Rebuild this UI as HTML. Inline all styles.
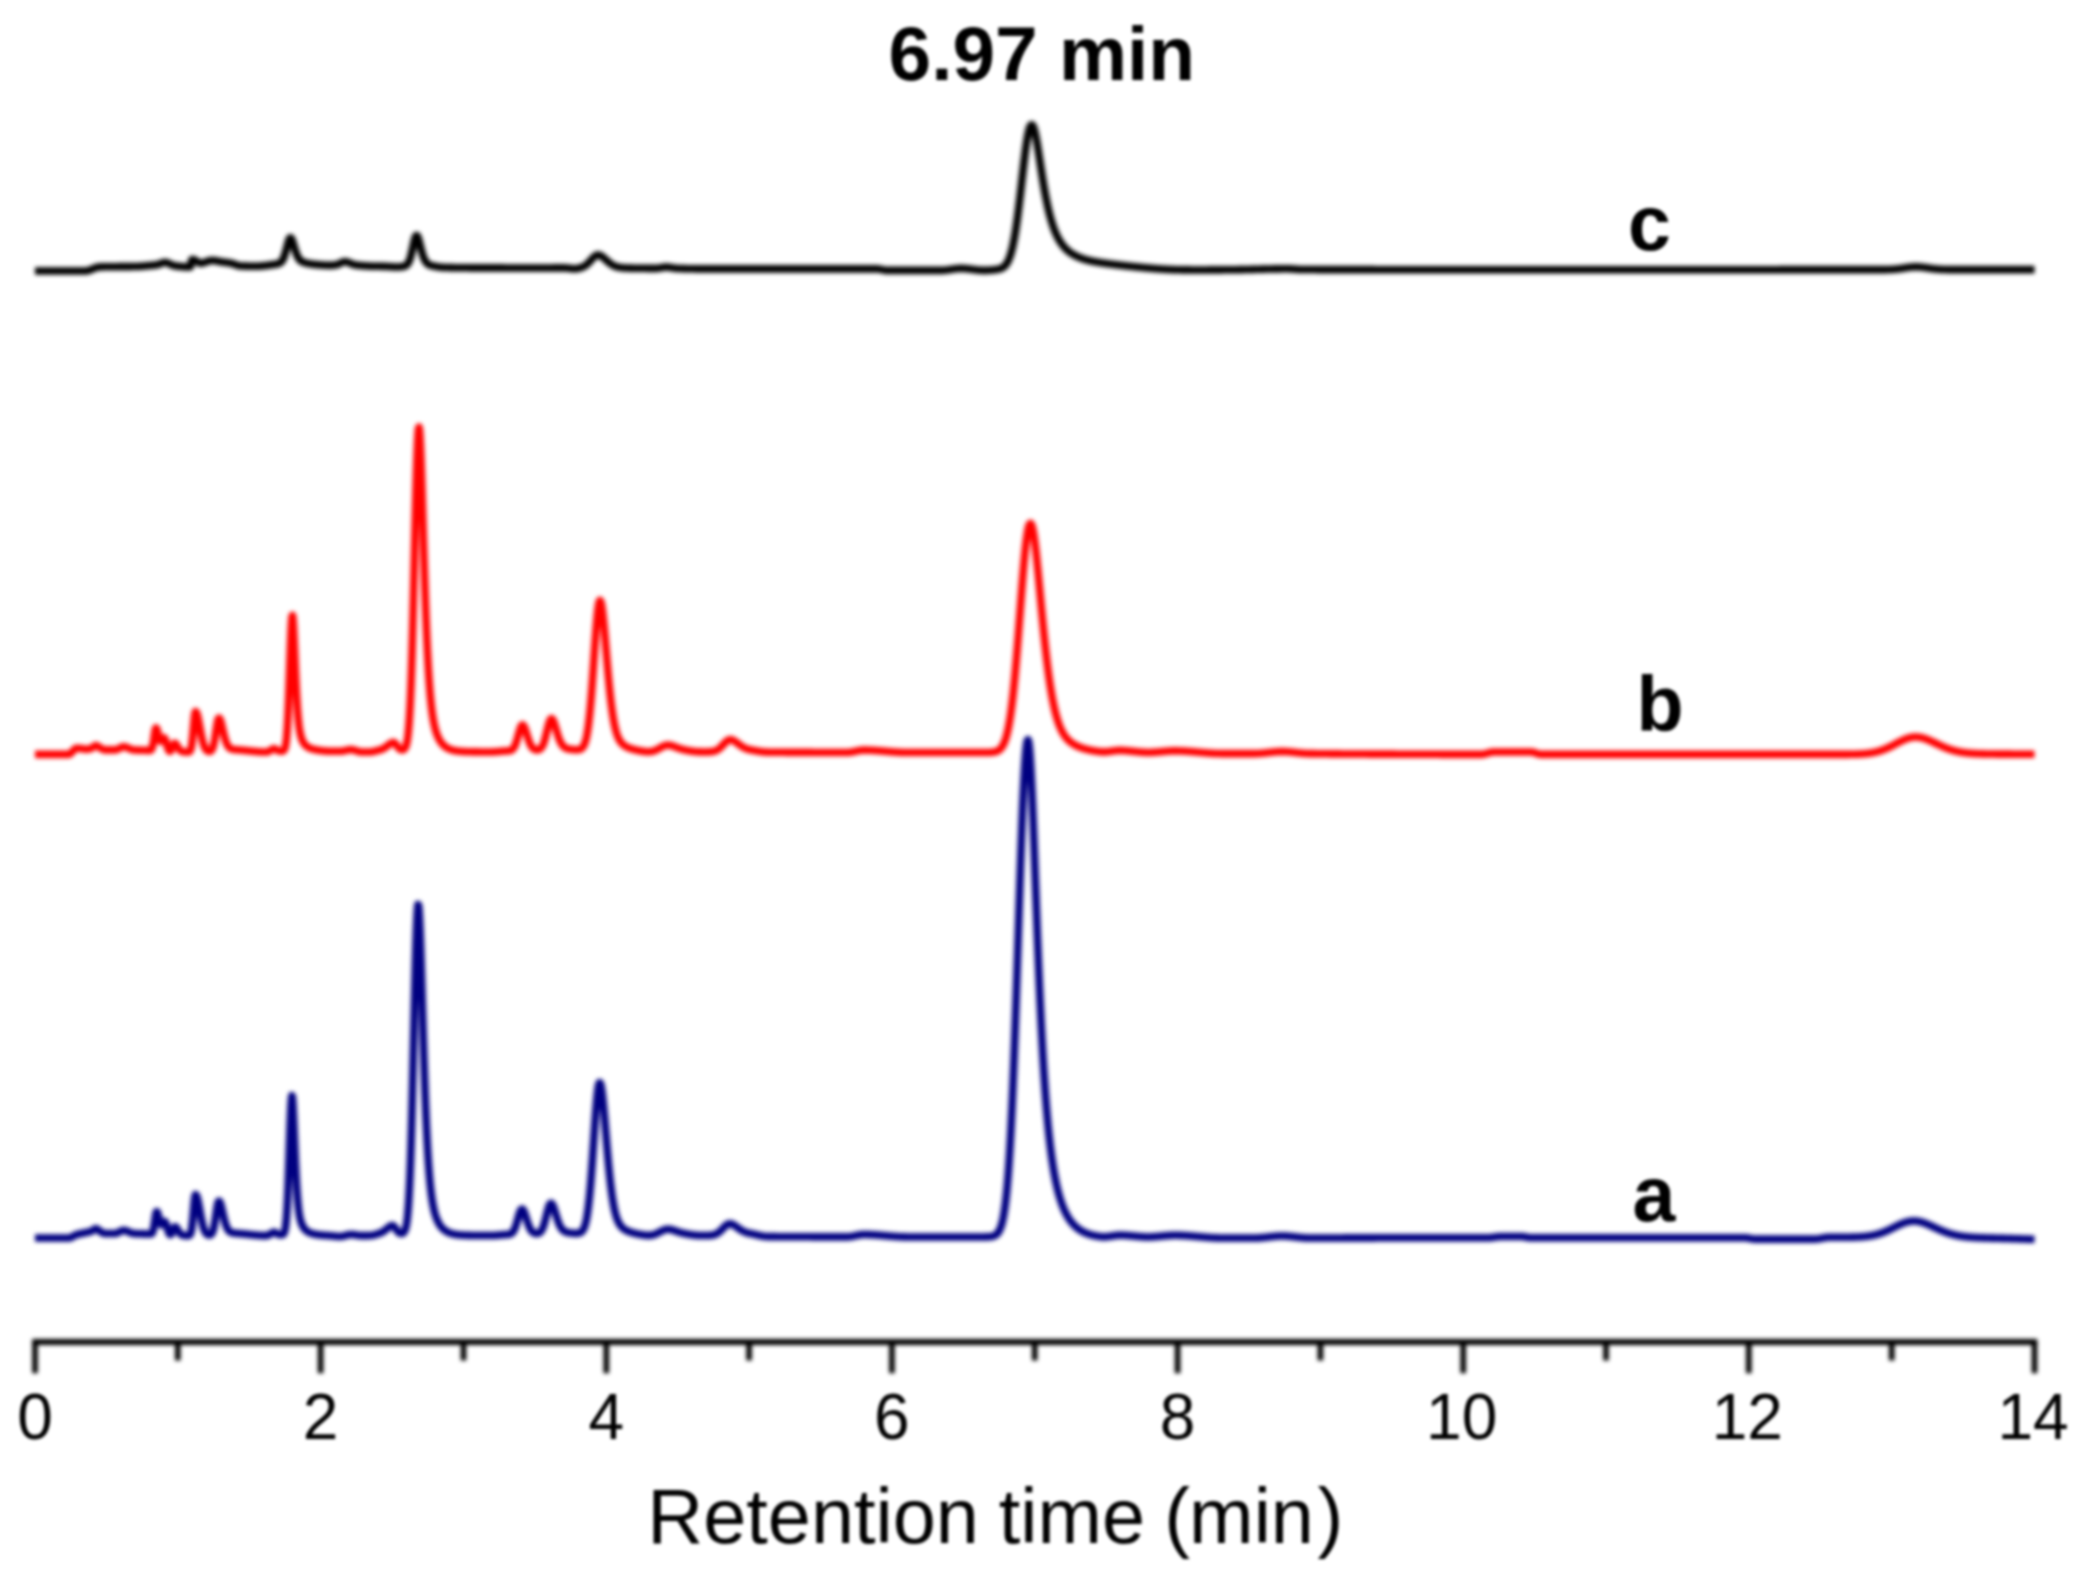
<!DOCTYPE html>
<html lang="en">
<head>
<meta charset="utf-8">
<title>Chromatogram – retention time</title>
<style>
html,body{margin:0;padding:0;background:#fff;}
body{width:2094px;height:1584px;overflow:hidden;}
svg{display:block;}
.ln{filter:blur(2.0px);}
.tx{filter:blur(1.5px);}
text{font-family:"Liberation Sans",Arial,Helvetica,sans-serif;fill:#000;}
.b{font-weight:700;font-size:77px;fill:#000;}
.t{font-size:64px;}
.xl{font-size:77.5px;}
.cv{fill:none;stroke-width:7.6;stroke-linejoin:round;stroke-linecap:butt;}
.ax line{stroke:#000;stroke-width:6.2;stroke-linecap:butt;}
.ax line.tk{stroke-width:5.6;}
</style>
</head>
<body>
<svg width="2094" height="1584" viewBox="0 0 2094 1584">
<rect width="2094" height="1584" fill="#ffffff"/>
<g class="ln">
<g class="ax">
<line x1="32.2" y1="1342.0" x2="2037.3" y2="1342.0"/>
<line class="tk" x1="35.0" y1="1342.0" x2="35.0" y2="1373.2"/>
<line class="tk" x1="177.8" y1="1342.0" x2="177.8" y2="1360.5"/>
<line class="tk" x1="320.6" y1="1342.0" x2="320.6" y2="1373.2"/>
<line class="tk" x1="463.5" y1="1342.0" x2="463.5" y2="1360.5"/>
<line class="tk" x1="606.3" y1="1342.0" x2="606.3" y2="1373.2"/>
<line class="tk" x1="749.1" y1="1342.0" x2="749.1" y2="1360.5"/>
<line class="tk" x1="891.9" y1="1342.0" x2="891.9" y2="1373.2"/>
<line class="tk" x1="1034.7" y1="1342.0" x2="1034.7" y2="1360.5"/>
<line class="tk" x1="1177.6" y1="1342.0" x2="1177.6" y2="1373.2"/>
<line class="tk" x1="1320.4" y1="1342.0" x2="1320.4" y2="1360.5"/>
<line class="tk" x1="1463.2" y1="1342.0" x2="1463.2" y2="1373.2"/>
<line class="tk" x1="1606.0" y1="1342.0" x2="1606.0" y2="1360.5"/>
<line class="tk" x1="1748.8" y1="1342.0" x2="1748.8" y2="1373.2"/>
<line class="tk" x1="1891.7" y1="1342.0" x2="1891.7" y2="1360.5"/>
<line class="tk" x1="2034.5" y1="1342.0" x2="2034.5" y2="1373.2"/>
</g>
</g>
<g class="tx">
<g class="t">
<text x="35.0" y="1439.0" text-anchor="middle">0</text>
<text x="320.6" y="1439.0" text-anchor="middle">2</text>
<text x="606.3" y="1439.0" text-anchor="middle">4</text>
<text x="891.9" y="1439.0" text-anchor="middle">6</text>
<text x="1177.6" y="1439.0" text-anchor="middle">8</text>
<text x="1461.7" y="1439.0" text-anchor="middle">10</text>
<text x="1747.3" y="1439.0" text-anchor="middle">12</text>
<text x="2033.0" y="1439.0" text-anchor="middle">14</text>
</g>
<text class="xl" y="1543"><tspan x="647.2">Retention </tspan><tspan x="998.7">time </tspan><tspan x="1164.2">(</tspan><tspan x="1189.1">min</tspan><tspan x="1317.4">)</tspan></text>
<text class="b" x="1041.8" y="79.8" text-anchor="middle" style="font-size:76.6px">6.97 min</text>
<text class="b" x="1649.5" y="249.5" text-anchor="middle">c</text>
<text class="b" x="1660" y="730.5" text-anchor="middle">b</text>
<text class="b" x="1654" y="1220.5" text-anchor="middle">a</text>
</g>
<g class="ln">
<path class="cv" stroke="#000080" d="M35.0,1238.00 L35.5,1238.00 L36.0,1238.00 L36.5,1238.00 L37.0,1238.00 L37.5,1238.00 L38.0,1238.00 L38.5,1238.00 L39.0,1238.00 L39.5,1238.00 L40.0,1238.00 L40.5,1238.00 L41.0,1238.00 L41.5,1238.00 L42.0,1238.00 L42.5,1238.00 L43.0,1238.00 L43.5,1238.00 L44.0,1238.00 L44.5,1238.00 L45.0,1238.00 L45.5,1238.00 L46.0,1238.00 L46.5,1238.00 L47.0,1238.00 L47.5,1238.00 L48.0,1238.00 L48.5,1238.00 L49.0,1238.00 L49.5,1238.00 L50.0,1238.00 L50.5,1238.00 L51.0,1238.00 L51.5,1238.00 L52.0,1238.00 L52.5,1238.00 L53.0,1238.00 L53.5,1238.00 L54.0,1238.00 L54.5,1238.00 L55.0,1238.00 L55.5,1238.00 L56.0,1238.00 L56.5,1238.00 L57.0,1238.00 L57.5,1238.00 L58.0,1238.00 L58.5,1238.00 L59.0,1238.00 L59.5,1238.00 L60.0,1238.00 L60.5,1238.00 L61.0,1238.00 L61.5,1238.00 L62.0,1238.00 L62.5,1238.00 L63.0,1238.00 L63.5,1238.00 L64.0,1238.00 L64.5,1238.00 L65.0,1238.00 L65.5,1238.00 L66.0,1238.00 L66.5,1238.00 L67.0,1238.00 L67.5,1238.00 L68.0,1238.00 L68.5,1238.00 L69.0,1237.97 L69.5,1237.89 L70.0,1237.77 L70.5,1237.61 L71.0,1237.41 L71.5,1237.18 L72.0,1236.94 L72.5,1236.68 L73.0,1236.40 L73.5,1236.13 L74.0,1235.85 L74.5,1235.58 L75.0,1235.32 L75.5,1235.09 L76.0,1234.87 L76.5,1234.69 L77.0,1234.54 L77.5,1234.40 L78.0,1234.27 L78.5,1234.15 L79.0,1234.03 L79.5,1233.92 L80.0,1233.81 L80.5,1233.70 L81.0,1233.60 L81.5,1233.50 L82.0,1233.40 L82.5,1233.30 L83.0,1233.20 L83.5,1233.11 L84.0,1233.01 L84.5,1232.91 L85.0,1232.81 L85.5,1232.71 L86.0,1232.60 L86.5,1232.49 L87.0,1232.37 L87.5,1232.26 L88.0,1232.15 L88.5,1232.05 L89.0,1231.94 L89.5,1231.82 L90.0,1231.69 L90.5,1231.55 L91.0,1231.40 L91.5,1231.19 L92.0,1230.90 L92.5,1230.57 L93.0,1230.21 L93.5,1229.84 L94.0,1229.49 L94.5,1229.18 L95.0,1228.92 L95.5,1228.76 L96.0,1228.70 L96.5,1228.77 L97.0,1228.96 L97.5,1229.26 L98.0,1229.63 L98.5,1230.05 L99.0,1230.49 L99.5,1230.94 L100.0,1231.35 L100.5,1231.71 L101.0,1232.00 L101.5,1232.24 L102.0,1232.50 L102.5,1232.75 L103.0,1232.98 L103.5,1233.19 L104.0,1233.35 L104.5,1233.46 L105.0,1233.50 L105.5,1233.50 L106.0,1233.50 L106.5,1233.50 L107.0,1233.50 L107.5,1233.50 L108.0,1233.50 L108.5,1233.50 L109.0,1233.50 L109.5,1233.50 L110.0,1233.50 L110.5,1233.50 L111.0,1233.50 L111.5,1233.50 L112.0,1233.50 L112.5,1233.50 L113.0,1233.50 L113.5,1233.50 L114.0,1233.50 L114.5,1233.50 L115.0,1233.50 L115.5,1233.47 L116.0,1233.38 L116.5,1233.25 L117.0,1233.07 L117.5,1232.86 L118.0,1232.63 L118.5,1232.37 L119.0,1232.11 L119.5,1231.84 L120.0,1231.57 L120.5,1231.31 L121.0,1231.08 L121.5,1230.86 L122.0,1230.68 L122.5,1230.54 L123.0,1230.44 L123.5,1230.40 L124.0,1230.41 L124.5,1230.46 L125.0,1230.55 L125.5,1230.66 L126.0,1230.81 L126.5,1230.97 L127.0,1231.16 L127.5,1231.36 L128.0,1231.57 L128.5,1231.79 L129.0,1232.01 L129.5,1232.23 L130.0,1232.45 L130.5,1232.66 L131.0,1232.85 L131.5,1233.02 L132.0,1233.18 L132.5,1233.31 L133.0,1233.41 L133.5,1233.48 L134.0,1233.52 L134.5,1233.55 L135.0,1233.58 L135.5,1233.61 L136.0,1233.63 L136.5,1233.66 L137.0,1233.68 L137.5,1233.70 L138.0,1233.72 L138.5,1233.73 L139.0,1233.75 L139.5,1233.77 L140.0,1233.78 L140.5,1233.79 L141.0,1233.81 L141.5,1233.82 L142.0,1233.83 L142.5,1233.84 L143.0,1233.86 L143.5,1233.87 L144.0,1233.88 L144.5,1233.89 L145.0,1233.91 L145.5,1233.92 L146.0,1233.93 L146.5,1233.95 L147.0,1233.97 L147.5,1233.98 L148.0,1234.00 L148.5,1234.02 L149.0,1234.04 L149.5,1234.06 L150.0,1234.06 L150.5,1234.03 L151.0,1233.93 L151.5,1233.70 L152.0,1233.24 L152.5,1232.41 L153.0,1231.05 L153.5,1229.01 L154.0,1226.26 L154.5,1222.90 L155.0,1219.24 L155.5,1215.77 L156.0,1213.08 L156.5,1211.68 L157.0,1211.72 L157.5,1212.61 L158.0,1214.15 L158.5,1216.11 L159.0,1218.25 L159.5,1220.33 L160.0,1222.14 L160.5,1223.52 L161.0,1224.38 L161.5,1224.69 L162.0,1224.49 L162.5,1223.89 L163.0,1223.09 L163.5,1222.28 L164.0,1221.69 L164.5,1221.50 L165.0,1221.80 L165.5,1222.58 L166.0,1223.79 L166.5,1225.33 L167.0,1227.06 L167.5,1228.85 L168.0,1230.56 L168.5,1232.06 L169.0,1233.27 L169.5,1234.13 L170.0,1234.63 L170.5,1234.75 L171.0,1234.48 L171.5,1233.84 L172.0,1232.89 L172.5,1231.69 L173.0,1230.37 L173.5,1229.08 L174.0,1227.97 L174.5,1227.19 L175.0,1226.85 L175.5,1226.90 L176.0,1227.22 L176.5,1227.78 L177.0,1228.52 L177.5,1229.36 L178.0,1230.26 L178.5,1231.14 L179.0,1231.96 L179.5,1232.70 L180.0,1233.33 L180.5,1233.87 L181.0,1234.30 L181.5,1234.64 L182.0,1234.90 L182.5,1235.09 L183.0,1235.23 L183.5,1235.33 L184.0,1235.40 L184.5,1235.46 L185.0,1235.51 L185.5,1235.54 L186.0,1235.57 L186.5,1235.60 L187.0,1235.62 L187.5,1235.63 L188.0,1235.62 L188.5,1235.57 L189.0,1235.44 L189.5,1235.16 L190.0,1234.63 L190.5,1233.69 L191.0,1232.13 L191.5,1229.74 L192.0,1226.33 L192.5,1221.84 L193.0,1216.39 L193.5,1210.38 L194.0,1204.44 L194.5,1199.37 L195.0,1195.93 L195.5,1194.72 L196.0,1194.98 L196.5,1195.75 L197.0,1197.01 L197.5,1198.70 L198.0,1200.77 L198.5,1203.15 L199.0,1205.75 L199.5,1208.49 L200.0,1211.29 L200.5,1214.08 L201.0,1216.80 L201.5,1219.38 L202.0,1221.79 L202.5,1223.99 L203.0,1225.96 L203.5,1227.70 L204.0,1229.21 L204.5,1230.50 L205.0,1231.58 L205.5,1232.47 L206.0,1233.19 L206.5,1233.76 L207.0,1234.21 L207.5,1234.56 L208.0,1234.81 L208.5,1234.97 L209.0,1235.06 L209.5,1235.07 L210.0,1234.99 L210.5,1234.80 L211.0,1234.46 L211.5,1233.93 L212.0,1233.17 L212.5,1232.12 L213.0,1230.71 L213.5,1228.91 L214.0,1226.68 L214.5,1224.02 L215.0,1220.99 L215.5,1217.66 L216.0,1214.18 L216.5,1210.73 L217.0,1207.53 L217.5,1204.78 L218.0,1202.70 L218.5,1201.45 L219.0,1201.12 L219.5,1201.45 L220.0,1202.29 L220.5,1203.57 L221.0,1205.22 L221.5,1207.15 L222.0,1209.28 L222.5,1211.50 L223.0,1213.77 L223.5,1216.00 L224.0,1218.15 L224.5,1220.18 L225.0,1222.06 L225.5,1223.77 L226.0,1225.31 L226.5,1226.65 L227.0,1227.82 L227.5,1228.82 L228.0,1229.67 L228.5,1230.37 L229.0,1230.95 L229.5,1231.42 L230.0,1231.80 L230.5,1232.11 L231.0,1232.35 L231.5,1232.54 L232.0,1232.70 L232.5,1232.82 L233.0,1232.92 L233.5,1233.01 L234.0,1233.08 L234.5,1233.13 L235.0,1233.19 L235.5,1233.23 L236.0,1233.28 L236.5,1233.32 L237.0,1233.36 L237.5,1233.39 L238.0,1233.43 L238.5,1233.47 L239.0,1233.51 L239.5,1233.55 L240.0,1233.59 L240.5,1233.63 L241.0,1233.68 L241.5,1233.72 L242.0,1233.76 L242.5,1233.81 L243.0,1233.85 L243.5,1233.90 L244.0,1233.95 L244.5,1234.00 L245.0,1234.04 L245.5,1234.09 L246.0,1234.14 L246.5,1234.19 L247.0,1234.25 L247.5,1234.30 L248.0,1234.35 L248.5,1234.40 L249.0,1234.45 L249.5,1234.50 L250.0,1234.56 L250.5,1234.61 L251.0,1234.66 L251.5,1234.71 L252.0,1234.76 L252.5,1234.81 L253.0,1234.86 L253.5,1234.91 L254.0,1234.96 L254.5,1235.01 L255.0,1235.06 L255.5,1235.10 L256.0,1235.15 L256.5,1235.19 L257.0,1235.24 L257.5,1235.28 L258.0,1235.32 L258.5,1235.36 L259.0,1235.39 L259.5,1235.43 L260.0,1235.46 L260.5,1235.49 L261.0,1235.52 L261.5,1235.55 L262.0,1235.57 L262.5,1235.59 L263.0,1235.61 L263.5,1235.63 L264.0,1235.64 L264.5,1235.65 L265.0,1235.66 L265.5,1235.67 L266.0,1235.66 L266.5,1235.60 L267.0,1235.51 L267.5,1235.40 L268.0,1235.28 L268.5,1235.12 L269.0,1234.89 L269.5,1234.61 L270.0,1234.29 L270.5,1233.95 L271.0,1233.61 L271.5,1233.27 L272.0,1232.96 L272.5,1232.70 L273.0,1232.48 L273.5,1232.35 L274.0,1232.30 L274.5,1232.36 L275.0,1232.51 L275.5,1232.74 L276.0,1233.01 L276.5,1233.32 L277.0,1233.64 L277.5,1233.93 L278.0,1234.19 L278.5,1234.39 L279.0,1234.51 L279.5,1234.57 L280.0,1234.63 L280.5,1234.67 L281.0,1234.70 L281.5,1234.70 L282.0,1234.66 L282.5,1234.54 L283.0,1234.30 L283.5,1233.86 L284.0,1233.09 L284.5,1231.84 L285.0,1229.89 L285.5,1226.97 L286.0,1222.78 L286.5,1216.99 L287.0,1209.32 L287.5,1199.59 L288.0,1187.79 L288.5,1174.16 L289.0,1159.19 L289.5,1143.68 L290.0,1128.65 L290.5,1115.28 L291.0,1104.71 L291.5,1097.93 L292.0,1095.60 L292.5,1098.09 L293.0,1105.07 L293.5,1115.35 L294.0,1127.49 L294.5,1140.23 L295.0,1152.66 L295.5,1164.22 L296.0,1174.61 L296.5,1183.73 L297.0,1191.59 L297.5,1198.25 L298.0,1203.83 L298.5,1208.47 L299.0,1212.30 L299.5,1215.44 L300.0,1218.03 L300.5,1220.17 L301.0,1221.95 L301.5,1223.44 L302.0,1224.70 L302.5,1225.78 L303.0,1226.71 L303.5,1227.52 L304.0,1228.24 L304.5,1228.87 L305.0,1229.44 L305.5,1229.95 L306.0,1230.40 L306.5,1230.81 L307.0,1231.18 L307.5,1231.52 L308.0,1231.83 L308.5,1232.11 L309.0,1232.37 L309.5,1232.60 L310.0,1232.82 L310.5,1233.01 L311.0,1233.20 L311.5,1233.37 L312.0,1233.52 L312.5,1233.67 L313.0,1233.80 L313.5,1233.93 L314.0,1234.04 L314.5,1234.15 L315.0,1234.25 L315.5,1234.34 L316.0,1234.43 L316.5,1234.51 L317.0,1234.59 L317.5,1234.66 L318.0,1234.73 L318.5,1234.79 L319.0,1234.85 L319.5,1234.90 L320.0,1234.96 L320.5,1235.01 L321.0,1235.05 L321.5,1235.10 L322.0,1235.14 L322.5,1235.18 L323.0,1235.22 L323.5,1235.26 L324.0,1235.30 L324.5,1235.33 L325.0,1235.37 L325.5,1235.40 L326.0,1235.43 L326.5,1235.46 L327.0,1235.49 L327.5,1235.52 L328.0,1235.55 L328.5,1235.58 L329.0,1235.61 L329.5,1235.64 L330.0,1235.68 L330.5,1235.72 L331.0,1235.77 L331.5,1235.82 L332.0,1235.87 L332.5,1235.92 L333.0,1235.97 L333.5,1236.03 L334.0,1236.08 L334.5,1236.14 L335.0,1236.19 L335.5,1236.24 L336.0,1236.29 L336.5,1236.34 L337.0,1236.38 L337.5,1236.41 L338.0,1236.45 L338.5,1236.47 L339.0,1236.49 L339.5,1236.51 L340.0,1236.51 L340.5,1236.50 L341.0,1236.47 L341.5,1236.41 L342.0,1236.34 L342.5,1236.25 L343.0,1236.15 L343.5,1236.04 L344.0,1235.91 L344.5,1235.78 L345.0,1235.65 L345.5,1235.51 L346.0,1235.38 L346.5,1235.24 L347.0,1235.11 L347.5,1234.99 L348.0,1234.88 L348.5,1234.77 L349.0,1234.68 L349.5,1234.61 L350.0,1234.55 L350.5,1234.52 L351.0,1234.50 L351.5,1234.51 L352.0,1234.53 L352.5,1234.56 L353.0,1234.60 L353.5,1234.65 L354.0,1234.71 L354.5,1234.78 L355.0,1234.85 L355.5,1234.93 L356.0,1235.00 L356.5,1235.08 L357.0,1235.16 L357.5,1235.24 L358.0,1235.32 L358.5,1235.39 L359.0,1235.45 L359.5,1235.51 L360.0,1235.56 L360.5,1235.60 L361.0,1235.63 L361.5,1235.65 L362.0,1235.65 L362.5,1235.65 L363.0,1235.64 L363.5,1235.64 L364.0,1235.63 L364.5,1235.63 L365.0,1235.62 L365.5,1235.62 L366.0,1235.61 L366.5,1235.60 L367.0,1235.60 L367.5,1235.59 L368.0,1235.58 L368.5,1235.58 L369.0,1235.57 L369.5,1235.56 L370.0,1235.55 L370.5,1235.53 L371.0,1235.49 L371.5,1235.43 L372.0,1235.36 L372.5,1235.27 L373.0,1235.18 L373.5,1235.07 L374.0,1234.95 L374.5,1234.82 L375.0,1234.69 L375.5,1234.54 L376.0,1234.40 L376.5,1234.24 L377.0,1234.09 L377.5,1233.93 L378.0,1233.77 L378.5,1233.60 L379.0,1233.43 L379.5,1233.26 L380.0,1233.09 L380.5,1232.90 L381.0,1232.70 L381.5,1232.48 L382.0,1232.23 L382.5,1231.96 L383.0,1231.67 L383.5,1231.35 L384.0,1231.02 L384.5,1230.66 L385.0,1230.28 L385.5,1229.89 L386.0,1229.48 L386.5,1229.06 L387.0,1228.64 L387.5,1228.22 L388.0,1227.80 L388.5,1227.40 L389.0,1227.01 L389.5,1226.66 L390.0,1226.34 L390.5,1226.07 L391.0,1225.85 L391.5,1225.69 L392.0,1225.59 L392.5,1225.57 L393.0,1225.69 L393.5,1225.98 L394.0,1226.43 L394.5,1227.01 L395.0,1227.69 L395.5,1228.42 L396.0,1229.17 L396.5,1229.91 L397.0,1230.61 L397.5,1231.24 L398.0,1231.81 L398.5,1232.28 L399.0,1232.68 L399.5,1232.99 L400.0,1233.22 L400.5,1233.38 L401.0,1233.47 L401.5,1233.49 L402.0,1233.43 L402.5,1233.28 L403.0,1233.03 L403.5,1232.64 L404.0,1232.08 L404.5,1231.28 L405.0,1230.18 L405.5,1228.69 L406.0,1226.71 L406.5,1224.10 L407.0,1220.74 L407.5,1216.44 L408.0,1211.06 L408.5,1204.40 L409.0,1196.29 L409.5,1186.57 L410.0,1175.11 L410.5,1161.80 L411.0,1146.62 L411.5,1129.58 L412.0,1110.82 L412.5,1090.53 L413.0,1069.02 L413.5,1046.70 L414.0,1024.08 L414.5,1001.71 L415.0,980.24 L415.5,960.31 L416.0,942.58 L416.5,927.65 L417.0,916.06 L417.5,908.23 L418.0,904.46 L418.5,904.86 L419.0,909.22 L419.5,917.24 L420.0,928.45 L420.5,942.22 L421.0,957.89 L421.5,974.79 L422.0,992.35 L422.5,1010.07 L423.0,1027.57 L423.5,1044.54 L424.0,1060.78 L424.5,1076.14 L425.0,1090.53 L425.5,1103.91 L426.0,1116.28 L426.5,1127.62 L427.0,1137.99 L427.5,1147.40 L428.0,1155.93 L428.5,1163.62 L429.0,1170.53 L429.5,1176.73 L430.0,1182.27 L430.5,1187.23 L431.0,1191.65 L431.5,1195.60 L432.0,1199.12 L432.5,1202.27 L433.0,1205.08 L433.5,1207.60 L434.0,1209.87 L434.5,1211.91 L435.0,1213.75 L435.5,1215.41 L436.0,1216.92 L436.5,1218.30 L437.0,1219.56 L437.5,1220.71 L438.0,1221.77 L438.5,1222.74 L439.0,1223.64 L439.5,1224.47 L440.0,1225.24 L440.5,1225.95 L441.0,1226.61 L441.5,1227.22 L442.0,1227.79 L442.5,1228.32 L443.0,1228.82 L443.5,1229.28 L444.0,1229.70 L444.5,1230.10 L445.0,1230.47 L445.5,1230.82 L446.0,1231.14 L446.5,1231.45 L447.0,1231.73 L447.5,1231.99 L448.0,1232.24 L448.5,1232.46 L449.0,1232.68 L449.5,1232.88 L450.0,1233.06 L450.5,1233.24 L451.0,1233.40 L451.5,1233.55 L452.0,1233.69 L452.5,1233.82 L453.0,1233.94 L453.5,1234.05 L454.0,1234.16 L454.5,1234.25 L455.0,1234.34 L455.5,1234.43 L456.0,1234.50 L456.5,1234.57 L457.0,1234.64 L457.5,1234.70 L458.0,1234.76 L458.5,1234.81 L459.0,1234.86 L459.5,1234.91 L460.0,1234.95 L460.5,1235.00 L461.0,1235.03 L461.5,1235.07 L462.0,1235.10 L462.5,1235.13 L463.0,1235.16 L463.5,1235.19 L464.0,1235.21 L464.5,1235.24 L465.0,1235.26 L465.5,1235.28 L466.0,1235.30 L466.5,1235.31 L467.0,1235.33 L467.5,1235.35 L468.0,1235.36 L468.5,1235.37 L469.0,1235.39 L469.5,1235.40 L470.0,1235.41 L470.5,1235.42 L471.0,1235.43 L471.5,1235.44 L472.0,1235.45 L472.5,1235.45 L473.0,1235.46 L473.5,1235.47 L474.0,1235.48 L474.5,1235.48 L475.0,1235.49 L475.5,1235.49 L476.0,1235.50 L476.5,1235.50 L477.0,1235.51 L477.5,1235.51 L478.0,1235.52 L478.5,1235.52 L479.0,1235.52 L479.5,1235.53 L480.0,1235.53 L480.5,1235.53 L481.0,1235.54 L481.5,1235.54 L482.0,1235.54 L482.5,1235.54 L483.0,1235.55 L483.5,1235.55 L484.0,1235.55 L484.5,1235.55 L485.0,1235.55 L485.5,1235.55 L486.0,1235.56 L486.5,1235.56 L487.0,1235.56 L487.5,1235.56 L488.0,1235.56 L488.5,1235.56 L489.0,1235.56 L489.5,1235.56 L490.0,1235.56 L490.5,1235.56 L491.0,1235.56 L491.5,1235.56 L492.0,1235.55 L492.5,1235.54 L493.0,1235.52 L493.5,1235.50 L494.0,1235.48 L494.5,1235.45 L495.0,1235.42 L495.5,1235.39 L496.0,1235.35 L496.5,1235.31 L497.0,1235.27 L497.5,1235.23 L498.0,1235.19 L498.5,1235.14 L499.0,1235.10 L499.5,1235.06 L500.0,1235.01 L500.5,1234.97 L501.0,1234.92 L501.5,1234.88 L502.0,1234.84 L502.5,1234.80 L503.0,1234.76 L503.5,1234.72 L504.0,1234.69 L504.5,1234.66 L505.0,1234.62 L505.5,1234.60 L506.0,1234.57 L506.5,1234.54 L507.0,1234.51 L507.5,1234.48 L508.0,1234.44 L508.5,1234.38 L509.0,1234.31 L509.5,1234.21 L510.0,1234.08 L510.5,1233.89 L511.0,1233.65 L511.5,1233.34 L512.0,1232.95 L512.5,1232.45 L513.0,1231.84 L513.5,1231.10 L514.0,1230.22 L514.5,1229.18 L515.0,1227.99 L515.5,1226.64 L516.0,1225.14 L516.5,1223.52 L517.0,1221.79 L517.5,1219.99 L518.0,1218.17 L518.5,1216.38 L519.0,1214.67 L519.5,1213.09 L520.0,1211.71 L520.5,1210.57 L521.0,1209.73 L521.5,1209.21 L522.0,1209.03 L522.5,1209.19 L523.0,1209.68 L523.5,1210.46 L524.0,1211.49 L524.5,1212.74 L525.0,1214.16 L525.5,1215.69 L526.0,1217.28 L526.5,1218.91 L527.0,1220.51 L527.5,1222.08 L528.0,1223.57 L528.5,1224.96 L529.0,1226.25 L529.5,1227.42 L530.0,1228.46 L530.5,1229.38 L531.0,1230.19 L531.5,1230.87 L532.0,1231.46 L532.5,1231.95 L533.0,1232.35 L533.5,1232.68 L534.0,1232.95 L534.5,1233.16 L535.0,1233.31 L535.5,1233.43 L536.0,1233.50 L536.5,1233.53 L537.0,1233.52 L537.5,1233.47 L538.0,1233.37 L538.5,1233.21 L539.0,1232.99 L539.5,1232.69 L540.0,1232.31 L540.5,1231.82 L541.0,1231.22 L541.5,1230.49 L542.0,1229.61 L542.5,1228.58 L543.0,1227.39 L543.5,1226.03 L544.0,1224.51 L544.5,1222.83 L545.0,1221.02 L545.5,1219.10 L546.0,1217.10 L546.5,1215.06 L547.0,1213.03 L547.5,1211.06 L548.0,1209.21 L548.5,1207.52 L549.0,1206.06 L549.5,1204.87 L550.0,1203.98 L550.5,1203.44 L551.0,1203.26 L551.5,1203.43 L552.0,1203.91 L552.5,1204.69 L553.0,1205.73 L553.5,1206.98 L554.0,1208.41 L554.5,1209.95 L555.0,1211.57 L555.5,1213.24 L556.0,1214.90 L556.5,1216.55 L557.0,1218.14 L557.5,1219.67 L558.0,1221.12 L558.5,1222.48 L559.0,1223.74 L559.5,1224.89 L560.0,1225.94 L560.5,1226.89 L561.0,1227.74 L561.5,1228.49 L562.0,1229.15 L562.5,1229.72 L563.0,1230.23 L563.5,1230.66 L564.0,1231.03 L564.5,1231.35 L565.0,1231.62 L565.5,1231.86 L566.0,1232.05 L566.5,1232.22 L567.0,1232.37 L567.5,1232.49 L568.0,1232.59 L568.5,1232.68 L569.0,1232.77 L569.5,1232.84 L570.0,1232.91 L570.5,1232.97 L571.0,1233.03 L571.5,1233.08 L572.0,1233.13 L572.5,1233.17 L573.0,1233.22 L573.5,1233.25 L574.0,1233.29 L574.5,1233.32 L575.0,1233.34 L575.5,1233.36 L576.0,1233.37 L576.5,1233.37 L577.0,1233.35 L577.5,1233.32 L578.0,1233.27 L578.5,1233.19 L579.0,1233.09 L579.5,1232.95 L580.0,1232.76 L580.5,1232.51 L581.0,1232.20 L581.5,1231.81 L582.0,1231.32 L582.5,1230.72 L583.0,1229.98 L583.5,1229.09 L584.0,1228.02 L584.5,1226.74 L585.0,1225.23 L585.5,1223.45 L586.0,1221.37 L586.5,1218.97 L587.0,1216.22 L587.5,1213.08 L588.0,1209.54 L588.5,1205.58 L589.0,1201.17 L589.5,1196.32 L590.0,1191.03 L590.5,1185.30 L591.0,1179.17 L591.5,1172.65 L592.0,1165.81 L592.5,1158.68 L593.0,1151.36 L593.5,1143.90 L594.0,1136.42 L594.5,1129.00 L595.0,1121.76 L595.5,1114.81 L596.0,1108.27 L596.5,1102.24 L597.0,1096.85 L597.5,1092.19 L598.0,1088.36 L598.5,1085.45 L599.0,1083.52 L599.5,1082.61 L600.0,1082.71 L600.5,1083.72 L601.0,1085.59 L601.5,1088.27 L602.0,1091.70 L602.5,1095.79 L603.0,1100.43 L603.5,1105.53 L604.0,1111.00 L604.5,1116.75 L605.0,1122.68 L605.5,1128.71 L606.0,1134.78 L606.5,1140.82 L607.0,1146.79 L607.5,1152.63 L608.0,1158.31 L608.5,1163.79 L609.0,1169.05 L609.5,1174.07 L610.0,1178.83 L610.5,1183.32 L611.0,1187.54 L611.5,1191.49 L612.0,1195.16 L612.5,1198.57 L613.0,1201.71 L613.5,1204.59 L614.0,1207.24 L614.5,1209.65 L615.0,1211.85 L615.5,1213.84 L616.0,1215.64 L616.5,1217.27 L617.0,1218.74 L617.5,1220.06 L618.0,1221.25 L618.5,1222.32 L619.0,1223.28 L619.5,1224.14 L620.0,1224.92 L620.5,1225.62 L621.0,1226.26 L621.5,1226.83 L622.0,1227.35 L622.5,1227.83 L623.0,1228.26 L623.5,1228.66 L624.0,1229.03 L624.5,1229.37 L625.0,1229.68 L625.5,1229.98 L626.0,1230.25 L626.5,1230.51 L627.0,1230.75 L627.5,1230.98 L628.0,1231.20 L628.5,1231.41 L629.0,1231.60 L629.5,1231.79 L630.0,1231.97 L630.5,1232.14 L631.0,1232.31 L631.5,1232.46 L632.0,1232.62 L632.5,1232.76 L633.0,1232.90 L633.5,1233.04 L634.0,1233.17 L634.5,1233.30 L635.0,1233.42 L635.5,1233.54 L636.0,1233.65 L636.5,1233.76 L637.0,1233.87 L637.5,1233.97 L638.0,1234.07 L638.5,1234.17 L639.0,1234.26 L639.5,1234.35 L640.0,1234.44 L640.5,1234.53 L641.0,1234.61 L641.5,1234.69 L642.0,1234.77 L642.5,1234.85 L643.0,1234.93 L643.5,1235.00 L644.0,1235.07 L644.5,1235.13 L645.0,1235.19 L645.5,1235.24 L646.0,1235.29 L646.5,1235.33 L647.0,1235.36 L647.5,1235.39 L648.0,1235.40 L648.5,1235.41 L649.0,1235.40 L649.5,1235.39 L650.0,1235.36 L650.5,1235.31 L651.0,1235.25 L651.5,1235.18 L652.0,1235.10 L652.5,1234.99 L653.0,1234.88 L653.5,1234.75 L654.0,1234.60 L654.5,1234.44 L655.0,1234.26 L655.5,1234.07 L656.0,1233.87 L656.5,1233.65 L657.0,1233.42 L657.5,1233.18 L658.0,1232.94 L658.5,1232.68 L659.0,1232.42 L659.5,1232.15 L660.0,1231.89 L660.5,1231.62 L661.0,1231.36 L661.5,1231.10 L662.0,1230.85 L662.5,1230.61 L663.0,1230.39 L663.5,1230.17 L664.0,1229.98 L664.5,1229.81 L665.0,1229.65 L665.5,1229.52 L666.0,1229.41 L666.5,1229.33 L667.0,1229.27 L667.5,1229.24 L668.0,1229.22 L668.5,1229.23 L669.0,1229.26 L669.5,1229.31 L670.0,1229.38 L670.5,1229.47 L671.0,1229.58 L671.5,1229.69 L672.0,1229.82 L672.5,1229.97 L673.0,1230.12 L673.5,1230.27 L674.0,1230.44 L674.5,1230.61 L675.0,1230.78 L675.5,1230.95 L676.0,1231.12 L676.5,1231.30 L677.0,1231.47 L677.5,1231.64 L678.0,1231.80 L678.5,1231.96 L679.0,1232.12 L679.5,1232.27 L680.0,1232.42 L680.5,1232.56 L681.0,1232.70 L681.5,1232.83 L682.0,1232.95 L682.5,1233.07 L683.0,1233.19 L683.5,1233.30 L684.0,1233.41 L684.5,1233.52 L685.0,1233.62 L685.5,1233.72 L686.0,1233.82 L686.5,1233.92 L687.0,1234.01 L687.5,1234.10 L688.0,1234.19 L688.5,1234.28 L689.0,1234.36 L689.5,1234.44 L690.0,1234.53 L690.5,1234.60 L691.0,1234.68 L691.5,1234.75 L692.0,1234.82 L692.5,1234.89 L693.0,1234.96 L693.5,1235.02 L694.0,1235.08 L694.5,1235.14 L695.0,1235.20 L695.5,1235.25 L696.0,1235.29 L696.5,1235.34 L697.0,1235.38 L697.5,1235.41 L698.0,1235.44 L698.5,1235.47 L699.0,1235.49 L699.5,1235.50 L700.0,1235.51 L700.5,1235.52 L701.0,1235.52 L701.5,1235.52 L702.0,1235.53 L702.5,1235.53 L703.0,1235.53 L703.5,1235.54 L704.0,1235.54 L704.5,1235.54 L705.0,1235.53 L705.5,1235.53 L706.0,1235.53 L706.5,1235.52 L707.0,1235.51 L707.5,1235.50 L708.0,1235.49 L708.5,1235.47 L709.0,1235.45 L709.5,1235.42 L710.0,1235.38 L710.5,1235.34 L711.0,1235.29 L711.5,1235.23 L712.0,1235.16 L712.5,1235.08 L713.0,1234.98 L713.5,1234.87 L714.0,1234.74 L714.5,1234.59 L715.0,1234.42 L715.5,1234.23 L716.0,1234.01 L716.5,1233.77 L717.0,1233.49 L717.5,1233.20 L718.0,1232.87 L718.5,1232.52 L719.0,1232.14 L719.5,1231.73 L720.0,1231.30 L720.5,1230.85 L721.0,1230.37 L721.5,1229.88 L722.0,1229.37 L722.5,1228.85 L723.0,1228.33 L723.5,1227.81 L724.0,1227.29 L724.5,1226.79 L725.0,1226.31 L725.5,1225.85 L726.0,1225.42 L726.5,1225.03 L727.0,1224.68 L727.5,1224.38 L728.0,1224.14 L728.5,1223.96 L729.0,1223.83 L729.5,1223.78 L730.0,1223.77 L730.5,1223.82 L731.0,1223.90 L731.5,1224.03 L732.0,1224.19 L732.5,1224.39 L733.0,1224.63 L733.5,1224.89 L734.0,1225.18 L734.5,1225.49 L735.0,1225.82 L735.5,1226.16 L736.0,1226.51 L736.5,1226.87 L737.0,1227.24 L737.5,1227.61 L738.0,1227.97 L738.5,1228.33 L739.0,1228.69 L739.5,1229.04 L740.0,1229.38 L740.5,1229.71 L741.0,1230.02 L741.5,1230.33 L742.0,1230.62 L742.5,1230.90 L743.0,1231.16 L743.5,1231.41 L744.0,1231.64 L744.5,1231.86 L745.0,1232.07 L745.5,1232.26 L746.0,1232.44 L746.5,1232.60 L747.0,1232.76 L747.5,1232.90 L748.0,1233.03 L748.5,1233.15 L749.0,1233.26 L749.5,1233.36 L750.0,1233.45 L750.5,1233.54 L751.0,1233.64 L751.5,1233.73 L752.0,1233.83 L752.5,1233.94 L753.0,1234.04 L753.5,1234.15 L754.0,1234.26 L754.5,1234.37 L755.0,1234.48 L755.5,1234.59 L756.0,1234.71 L756.5,1234.82 L757.0,1234.94 L757.5,1235.06 L758.0,1235.17 L758.5,1235.29 L759.0,1235.40 L759.5,1235.51 L760.0,1235.62 L760.5,1235.73 L761.0,1235.83 L761.5,1235.93 L762.0,1236.03 L762.5,1236.11 L763.0,1236.20 L763.5,1236.27 L764.0,1236.34 L764.5,1236.40 L765.0,1236.46 L765.5,1236.50 L766.0,1236.54 L766.5,1236.56 L767.0,1236.57 L767.5,1236.58 L768.0,1236.59 L768.5,1236.59 L769.0,1236.60 L769.5,1236.60 L770.0,1236.61 L770.5,1236.62 L771.0,1236.62 L771.5,1236.63 L772.0,1236.63 L772.5,1236.64 L773.0,1236.64 L773.5,1236.65 L774.0,1236.65 L774.5,1236.66 L775.0,1236.66 L775.5,1236.66 L776.0,1236.67 L776.5,1236.67 L777.0,1236.68 L777.5,1236.68 L778.0,1236.68 L778.5,1236.69 L779.0,1236.69 L779.5,1236.70 L780.0,1236.70 L780.5,1236.70 L781.0,1236.71 L781.5,1236.71 L782.0,1236.71 L782.5,1236.72 L783.0,1236.72 L783.5,1236.72 L784.0,1236.72 L784.5,1236.73 L785.0,1236.73 L785.5,1236.73 L786.0,1236.74 L786.5,1236.74 L787.0,1236.74 L787.5,1236.74 L788.0,1236.75 L788.5,1236.75 L789.0,1236.75 L789.5,1236.75 L790.0,1236.76 L790.5,1236.76 L791.0,1236.76 L791.5,1236.76 L792.0,1236.76 L792.5,1236.77 L793.0,1236.77 L793.5,1236.77 L794.0,1236.77 L794.5,1236.77 L795.0,1236.78 L795.5,1236.78 L796.0,1236.78 L796.5,1236.78 L797.0,1236.78 L797.5,1236.79 L798.0,1236.79 L798.5,1236.79 L799.0,1236.79 L799.5,1236.79 L800.0,1236.79 L800.5,1236.80 L801.0,1236.80 L801.5,1236.80 L802.0,1236.80 L802.5,1236.80 L803.0,1236.80 L803.5,1236.80 L804.0,1236.81 L804.5,1236.81 L805.0,1236.81 L805.5,1236.81 L806.0,1236.81 L806.5,1236.81 L807.0,1236.81 L807.5,1236.82 L808.0,1236.82 L808.5,1236.82 L809.0,1236.82 L809.5,1236.82 L810.0,1236.82 L810.5,1236.82 L811.0,1236.82 L811.5,1236.83 L812.0,1236.83 L812.5,1236.83 L813.0,1236.83 L813.5,1236.83 L814.0,1236.83 L814.5,1236.83 L815.0,1236.83 L815.5,1236.84 L816.0,1236.84 L816.5,1236.84 L817.0,1236.84 L817.5,1236.84 L818.0,1236.84 L818.5,1236.84 L819.0,1236.84 L819.5,1236.84 L820.0,1236.84 L820.5,1236.85 L821.0,1236.85 L821.5,1236.85 L822.0,1236.85 L822.5,1236.85 L823.0,1236.85 L823.5,1236.85 L824.0,1236.85 L824.5,1236.85 L825.0,1236.85 L825.5,1236.85 L826.0,1236.86 L826.5,1236.86 L827.0,1236.86 L827.5,1236.86 L828.0,1236.86 L828.5,1236.86 L829.0,1236.86 L829.5,1236.86 L830.0,1236.86 L830.5,1236.86 L831.0,1236.86 L831.5,1236.86 L832.0,1236.86 L832.5,1236.87 L833.0,1236.87 L833.5,1236.87 L834.0,1236.87 L834.5,1236.87 L835.0,1236.87 L835.5,1236.87 L836.0,1236.87 L836.5,1236.87 L837.0,1236.87 L837.5,1236.87 L838.0,1236.87 L838.5,1236.87 L839.0,1236.87 L839.5,1236.88 L840.0,1236.88 L840.5,1236.88 L841.0,1236.88 L841.5,1236.88 L842.0,1236.88 L842.5,1236.88 L843.0,1236.88 L843.5,1236.88 L844.0,1236.88 L844.5,1236.88 L845.0,1236.88 L845.5,1236.88 L846.0,1236.88 L846.5,1236.88 L847.0,1236.88 L847.5,1236.88 L848.0,1236.86 L848.5,1236.83 L849.0,1236.79 L849.5,1236.75 L850.0,1236.69 L850.5,1236.63 L851.0,1236.55 L851.5,1236.47 L852.0,1236.39 L852.5,1236.30 L853.0,1236.21 L853.5,1236.11 L854.0,1236.01 L854.5,1235.90 L855.0,1235.80 L855.5,1235.69 L856.0,1235.59 L856.5,1235.48 L857.0,1235.38 L857.5,1235.28 L858.0,1235.18 L858.5,1235.09 L859.0,1235.00 L859.5,1234.91 L860.0,1234.83 L860.5,1234.76 L861.0,1234.70 L861.5,1234.64 L862.0,1234.59 L862.5,1234.55 L863.0,1234.52 L863.5,1234.51 L864.0,1234.50 L864.5,1234.50 L865.0,1234.51 L865.5,1234.51 L866.0,1234.52 L866.5,1234.53 L867.0,1234.54 L867.5,1234.55 L868.0,1234.56 L868.5,1234.58 L869.0,1234.60 L869.5,1234.61 L870.0,1234.63 L870.5,1234.65 L871.0,1234.68 L871.5,1234.70 L872.0,1234.73 L872.5,1234.75 L873.0,1234.78 L873.5,1234.81 L874.0,1234.84 L874.5,1234.87 L875.0,1234.90 L875.5,1234.93 L876.0,1234.97 L876.5,1235.00 L877.0,1235.04 L877.5,1235.07 L878.0,1235.11 L878.5,1235.15 L879.0,1235.19 L879.5,1235.22 L880.0,1235.26 L880.5,1235.30 L881.0,1235.34 L881.5,1235.38 L882.0,1235.43 L882.5,1235.47 L883.0,1235.51 L883.5,1235.55 L884.0,1235.59 L884.5,1235.63 L885.0,1235.68 L885.5,1235.72 L886.0,1235.76 L886.5,1235.80 L887.0,1235.84 L887.5,1235.89 L888.0,1235.93 L888.5,1235.97 L889.0,1236.01 L889.5,1236.05 L890.0,1236.09 L890.5,1236.13 L891.0,1236.17 L891.5,1236.21 L892.0,1236.25 L892.5,1236.29 L893.0,1236.32 L893.5,1236.36 L894.0,1236.40 L894.5,1236.43 L895.0,1236.47 L895.5,1236.50 L896.0,1236.53 L896.5,1236.57 L897.0,1236.60 L897.5,1236.63 L898.0,1236.65 L898.5,1236.68 L899.0,1236.71 L899.5,1236.73 L900.0,1236.76 L900.5,1236.78 L901.0,1236.80 L901.5,1236.82 L902.0,1236.84 L902.5,1236.85 L903.0,1236.87 L903.5,1236.88 L904.0,1236.90 L904.5,1236.91 L905.0,1236.91 L905.5,1236.92 L906.0,1236.93 L906.5,1236.93 L907.0,1236.93 L907.5,1236.93 L908.0,1236.93 L908.5,1236.93 L909.0,1236.93 L909.5,1236.93 L910.0,1236.93 L910.5,1236.93 L911.0,1236.93 L911.5,1236.93 L912.0,1236.93 L912.5,1236.93 L913.0,1236.93 L913.5,1236.93 L914.0,1236.93 L914.5,1236.93 L915.0,1236.93 L915.5,1236.93 L916.0,1236.93 L916.5,1236.93 L917.0,1236.93 L917.5,1236.94 L918.0,1236.94 L918.5,1236.94 L919.0,1236.94 L919.5,1236.94 L920.0,1236.94 L920.5,1236.94 L921.0,1236.94 L921.5,1236.94 L922.0,1236.94 L922.5,1236.94 L923.0,1236.94 L923.5,1236.94 L924.0,1236.94 L924.5,1236.94 L925.0,1236.94 L925.5,1236.94 L926.0,1236.94 L926.5,1236.94 L927.0,1236.94 L927.5,1236.94 L928.0,1236.94 L928.5,1236.94 L929.0,1236.94 L929.5,1236.94 L930.0,1236.94 L930.5,1236.94 L931.0,1236.94 L931.5,1236.94 L932.0,1236.94 L932.5,1236.94 L933.0,1236.94 L933.5,1236.94 L934.0,1236.94 L934.5,1236.94 L935.0,1236.94 L935.5,1236.94 L936.0,1236.94 L936.5,1236.94 L937.0,1236.94 L937.5,1236.94 L938.0,1236.94 L938.5,1236.94 L939.0,1236.94 L939.5,1236.94 L940.0,1236.94 L940.5,1236.94 L941.0,1236.94 L941.5,1236.94 L942.0,1236.94 L942.5,1236.94 L943.0,1236.95 L943.5,1236.95 L944.0,1236.95 L944.5,1236.95 L945.0,1236.95 L945.5,1236.95 L946.0,1236.95 L946.5,1236.95 L947.0,1236.95 L947.5,1236.95 L948.0,1236.95 L948.5,1236.95 L949.0,1236.95 L949.5,1236.95 L950.0,1236.95 L950.5,1236.95 L951.0,1236.95 L951.5,1236.95 L952.0,1236.95 L952.5,1236.95 L953.0,1236.95 L953.5,1236.95 L954.0,1236.95 L954.5,1236.95 L955.0,1236.95 L955.5,1236.95 L956.0,1236.95 L956.5,1236.95 L957.0,1236.95 L957.5,1236.95 L958.0,1236.95 L958.5,1236.95 L959.0,1236.95 L959.5,1236.95 L960.0,1236.95 L960.5,1236.95 L961.0,1236.95 L961.5,1236.95 L962.0,1236.95 L962.5,1236.95 L963.0,1236.95 L963.5,1236.95 L964.0,1236.95 L964.5,1236.95 L965.0,1236.95 L965.5,1236.95 L966.0,1236.95 L966.5,1236.95 L967.0,1236.95 L967.5,1236.95 L968.0,1236.95 L968.5,1236.95 L969.0,1236.95 L969.5,1236.95 L970.0,1236.95 L970.5,1236.95 L971.0,1236.95 L971.5,1236.95 L972.0,1236.95 L972.5,1236.95 L973.0,1236.95 L973.5,1236.95 L974.0,1236.95 L974.5,1236.95 L975.0,1236.95 L975.5,1236.95 L976.0,1236.95 L976.5,1236.95 L977.0,1236.95 L977.5,1236.95 L978.0,1236.95 L978.5,1236.95 L979.0,1236.95 L979.5,1236.95 L980.0,1236.95 L980.5,1236.95 L981.0,1236.95 L981.5,1236.95 L982.0,1236.95 L982.5,1236.95 L983.0,1236.95 L983.5,1236.94 L984.0,1236.94 L984.5,1236.94 L985.0,1236.93 L985.5,1236.92 L986.0,1236.91 L986.5,1236.90 L987.0,1236.89 L987.5,1236.88 L988.0,1236.86 L988.5,1236.83 L989.0,1236.80 L989.5,1236.77 L990.0,1236.72 L990.5,1236.67 L991.0,1236.61 L991.5,1236.53 L992.0,1236.44 L992.5,1236.34 L993.0,1236.21 L993.5,1236.06 L994.0,1235.88 L994.5,1235.66 L995.0,1235.41 L995.5,1235.12 L996.0,1234.77 L996.5,1234.37 L997.0,1233.91 L997.5,1233.36 L998.0,1232.74 L998.5,1232.02 L999.0,1231.18 L999.5,1230.23 L1000.0,1229.14 L1000.5,1227.90 L1001.0,1226.49 L1001.5,1224.89 L1002.0,1223.08 L1002.5,1221.04 L1003.0,1218.76 L1003.5,1216.20 L1004.0,1213.35 L1004.5,1210.17 L1005.0,1206.65 L1005.5,1202.76 L1006.0,1198.46 L1006.5,1193.75 L1007.0,1188.59 L1007.5,1182.96 L1008.0,1176.83 L1008.5,1170.18 L1009.0,1163.00 L1009.5,1155.26 L1010.0,1146.95 L1010.5,1138.06 L1011.0,1128.59 L1011.5,1118.52 L1012.0,1107.86 L1012.5,1096.62 L1013.0,1084.81 L1013.5,1072.44 L1014.0,1059.54 L1014.5,1046.14 L1015.0,1032.27 L1015.5,1017.98 L1016.0,1003.32 L1016.5,988.34 L1017.0,973.10 L1017.5,957.68 L1018.0,942.14 L1018.5,926.57 L1019.0,911.04 L1019.5,895.65 L1020.0,880.49 L1020.5,865.64 L1021.0,851.21 L1021.5,837.28 L1022.0,823.95 L1022.5,811.31 L1023.0,799.46 L1023.5,788.48 L1024.0,778.44 L1024.5,769.43 L1025.0,761.51 L1025.5,754.75 L1026.0,749.19 L1026.5,744.88 L1027.0,741.86 L1027.5,740.15 L1028.0,739.76 L1028.5,740.97 L1029.0,743.87 L1029.5,748.40 L1030.0,754.49 L1030.5,762.02 L1031.0,770.86 L1031.5,780.87 L1032.0,791.89 L1032.5,803.76 L1033.0,816.32 L1033.5,829.41 L1034.0,842.90 L1034.5,856.64 L1035.0,870.52 L1035.5,884.42 L1036.0,898.24 L1036.5,911.91 L1037.0,925.35 L1037.5,938.52 L1038.0,951.36 L1038.5,963.83 L1039.0,975.91 L1039.5,987.59 L1040.0,998.85 L1040.5,1009.67 L1041.0,1020.07 L1041.5,1030.04 L1042.0,1039.58 L1042.5,1048.71 L1043.0,1057.43 L1043.5,1065.75 L1044.0,1073.69 L1044.5,1081.26 L1045.0,1088.47 L1045.5,1095.33 L1046.0,1101.87 L1046.5,1108.09 L1047.0,1114.00 L1047.5,1119.63 L1048.0,1124.98 L1048.5,1130.07 L1049.0,1134.91 L1049.5,1139.51 L1050.0,1143.89 L1050.5,1148.05 L1051.0,1152.01 L1051.5,1155.77 L1052.0,1159.36 L1052.5,1162.76 L1053.0,1166.01 L1053.5,1169.09 L1054.0,1172.03 L1054.5,1174.83 L1055.0,1177.50 L1055.5,1180.04 L1056.0,1182.47 L1056.5,1184.78 L1057.0,1186.98 L1057.5,1189.09 L1058.0,1191.09 L1058.5,1193.01 L1059.0,1194.84 L1059.5,1196.59 L1060.0,1198.26 L1060.5,1199.86 L1061.0,1201.39 L1061.5,1202.86 L1062.0,1204.26 L1062.5,1205.60 L1063.0,1206.88 L1063.5,1208.11 L1064.0,1209.29 L1064.5,1210.42 L1065.0,1211.51 L1065.5,1212.55 L1066.0,1213.54 L1066.5,1214.50 L1067.0,1215.42 L1067.5,1216.30 L1068.0,1217.14 L1068.5,1217.96 L1069.0,1218.74 L1069.5,1219.49 L1070.0,1220.21 L1070.5,1220.90 L1071.0,1221.56 L1071.5,1222.20 L1072.0,1222.82 L1072.5,1223.41 L1073.0,1223.98 L1073.5,1224.52 L1074.0,1225.05 L1074.5,1225.56 L1075.0,1226.04 L1075.5,1226.51 L1076.0,1226.96 L1076.5,1227.39 L1077.0,1227.81 L1077.5,1228.21 L1078.0,1228.60 L1078.5,1228.97 L1079.0,1229.32 L1079.5,1229.67 L1080.0,1230.00 L1080.5,1230.32 L1081.0,1230.62 L1081.5,1230.92 L1082.0,1231.20 L1082.5,1231.47 L1083.0,1231.74 L1083.5,1231.99 L1084.0,1232.23 L1084.5,1232.47 L1085.0,1232.69 L1085.5,1232.91 L1086.0,1233.12 L1086.5,1233.32 L1087.0,1233.51 L1087.5,1233.69 L1088.0,1233.87 L1088.5,1234.04 L1089.0,1234.21 L1089.5,1234.37 L1090.0,1234.52 L1090.5,1234.67 L1091.0,1234.81 L1091.5,1234.94 L1092.0,1235.07 L1092.5,1235.20 L1093.0,1235.32 L1093.5,1235.43 L1094.0,1235.54 L1094.5,1235.65 L1095.0,1235.75 L1095.5,1235.85 L1096.0,1235.95 L1096.5,1236.04 L1097.0,1236.12 L1097.5,1236.21 L1098.0,1236.29 L1098.5,1236.36 L1099.0,1236.44 L1099.5,1236.51 L1100.0,1236.57 L1100.5,1236.64 L1101.0,1236.70 L1101.5,1236.76 L1102.0,1236.80 L1102.5,1236.83 L1103.0,1236.85 L1103.5,1236.86 L1104.0,1236.86 L1104.5,1236.85 L1105.0,1236.83 L1105.5,1236.81 L1106.0,1236.77 L1106.5,1236.74 L1107.0,1236.69 L1107.5,1236.64 L1108.0,1236.58 L1108.5,1236.52 L1109.0,1236.46 L1109.5,1236.39 L1110.0,1236.32 L1110.5,1236.25 L1111.0,1236.17 L1111.5,1236.10 L1112.0,1236.02 L1112.5,1235.94 L1113.0,1235.87 L1113.5,1235.79 L1114.0,1235.72 L1114.5,1235.65 L1115.0,1235.58 L1115.5,1235.51 L1116.0,1235.45 L1116.5,1235.40 L1117.0,1235.34 L1117.5,1235.30 L1118.0,1235.26 L1118.5,1235.22 L1119.0,1235.19 L1119.5,1235.17 L1120.0,1235.16 L1120.5,1235.16 L1121.0,1235.17 L1121.5,1235.18 L1122.0,1235.19 L1122.5,1235.21 L1123.0,1235.23 L1123.5,1235.25 L1124.0,1235.28 L1124.5,1235.30 L1125.0,1235.33 L1125.5,1235.36 L1126.0,1235.39 L1126.5,1235.43 L1127.0,1235.46 L1127.5,1235.50 L1128.0,1235.54 L1128.5,1235.58 L1129.0,1235.62 L1129.5,1235.66 L1130.0,1235.71 L1130.5,1235.75 L1131.0,1235.80 L1131.5,1235.84 L1132.0,1235.89 L1132.5,1235.94 L1133.0,1235.98 L1133.5,1236.03 L1134.0,1236.08 L1134.5,1236.13 L1135.0,1236.17 L1135.5,1236.22 L1136.0,1236.27 L1136.5,1236.31 L1137.0,1236.36 L1137.5,1236.40 L1138.0,1236.45 L1138.5,1236.49 L1139.0,1236.53 L1139.5,1236.57 L1140.0,1236.61 L1140.5,1236.65 L1141.0,1236.69 L1141.5,1236.72 L1142.0,1236.75 L1142.5,1236.79 L1143.0,1236.81 L1143.5,1236.84 L1144.0,1236.87 L1144.5,1236.89 L1145.0,1236.91 L1145.5,1236.93 L1146.0,1236.94 L1146.5,1236.95 L1147.0,1236.96 L1147.5,1236.97 L1148.0,1236.97 L1148.5,1236.97 L1149.0,1236.96 L1149.5,1236.95 L1150.0,1236.94 L1150.5,1236.93 L1151.0,1236.91 L1151.5,1236.89 L1152.0,1236.87 L1152.5,1236.85 L1153.0,1236.82 L1153.5,1236.79 L1154.0,1236.76 L1154.5,1236.73 L1155.0,1236.69 L1155.5,1236.65 L1156.0,1236.62 L1156.5,1236.58 L1157.0,1236.54 L1157.5,1236.49 L1158.0,1236.45 L1158.5,1236.41 L1159.0,1236.36 L1159.5,1236.31 L1160.0,1236.27 L1160.5,1236.22 L1161.0,1236.18 L1161.5,1236.13 L1162.0,1236.08 L1162.5,1236.03 L1163.0,1235.99 L1163.5,1235.94 L1164.0,1235.90 L1164.5,1235.85 L1165.0,1235.81 L1165.5,1235.76 L1166.0,1235.72 L1166.5,1235.68 L1167.0,1235.64 L1167.5,1235.60 L1168.0,1235.56 L1168.5,1235.53 L1169.0,1235.49 L1169.5,1235.46 L1170.0,1235.43 L1170.5,1235.41 L1171.0,1235.38 L1171.5,1235.36 L1172.0,1235.34 L1172.5,1235.32 L1173.0,1235.31 L1173.5,1235.30 L1174.0,1235.29 L1174.5,1235.28 L1175.0,1235.28 L1175.5,1235.28 L1176.0,1235.28 L1176.5,1235.29 L1177.0,1235.30 L1177.5,1235.30 L1178.0,1235.31 L1178.5,1235.32 L1179.0,1235.34 L1179.5,1235.35 L1180.0,1235.37 L1180.5,1235.38 L1181.0,1235.40 L1181.5,1235.42 L1182.0,1235.45 L1182.5,1235.47 L1183.0,1235.49 L1183.5,1235.52 L1184.0,1235.54 L1184.5,1235.57 L1185.0,1235.60 L1185.5,1235.63 L1186.0,1235.66 L1186.5,1235.69 L1187.0,1235.73 L1187.5,1235.76 L1188.0,1235.79 L1188.5,1235.83 L1189.0,1235.86 L1189.5,1235.90 L1190.0,1235.94 L1190.5,1235.98 L1191.0,1236.02 L1191.5,1236.06 L1192.0,1236.10 L1192.5,1236.14 L1193.0,1236.18 L1193.5,1236.22 L1194.0,1236.26 L1194.5,1236.30 L1195.0,1236.34 L1195.5,1236.39 L1196.0,1236.43 L1196.5,1236.47 L1197.0,1236.52 L1197.5,1236.56 L1198.0,1236.60 L1198.5,1236.65 L1199.0,1236.69 L1199.5,1236.73 L1200.0,1236.78 L1200.5,1236.82 L1201.0,1236.86 L1201.5,1236.90 L1202.0,1236.95 L1202.5,1236.99 L1203.0,1237.03 L1203.5,1237.07 L1204.0,1237.11 L1204.5,1237.15 L1205.0,1237.19 L1205.5,1237.23 L1206.0,1237.27 L1206.5,1237.31 L1207.0,1237.35 L1207.5,1237.39 L1208.0,1237.42 L1208.5,1237.46 L1209.0,1237.49 L1209.5,1237.53 L1210.0,1237.56 L1210.5,1237.59 L1211.0,1237.62 L1211.5,1237.65 L1212.0,1237.68 L1212.5,1237.71 L1213.0,1237.74 L1213.5,1237.76 L1214.0,1237.79 L1214.5,1237.81 L1215.0,1237.83 L1215.5,1237.85 L1216.0,1237.87 L1216.5,1237.89 L1217.0,1237.91 L1217.5,1237.92 L1218.0,1237.94 L1218.5,1237.95 L1219.0,1237.96 L1219.5,1237.97 L1220.0,1237.97 L1220.5,1237.98 L1221.0,1237.98 L1221.5,1237.98 L1222.0,1237.98 L1222.5,1237.98 L1223.0,1237.98 L1223.5,1237.98 L1224.0,1237.98 L1224.5,1237.98 L1225.0,1237.98 L1225.5,1237.98 L1226.0,1237.98 L1226.5,1237.98 L1227.0,1237.98 L1227.5,1237.98 L1228.0,1237.98 L1228.5,1237.98 L1229.0,1237.98 L1229.5,1237.98 L1230.0,1237.98 L1230.5,1237.98 L1231.0,1237.98 L1231.5,1237.98 L1232.0,1237.98 L1232.5,1237.98 L1233.0,1237.98 L1233.5,1237.98 L1234.0,1237.98 L1234.5,1237.98 L1235.0,1237.98 L1235.5,1237.98 L1236.0,1237.98 L1236.5,1237.98 L1237.0,1237.98 L1237.5,1237.98 L1238.0,1237.98 L1238.5,1237.98 L1239.0,1237.98 L1239.5,1237.98 L1240.0,1237.98 L1240.5,1237.98 L1241.0,1237.98 L1241.5,1237.98 L1242.0,1237.98 L1242.5,1237.98 L1243.0,1237.99 L1243.5,1237.99 L1244.0,1237.99 L1244.5,1237.99 L1245.0,1237.99 L1245.5,1237.99 L1246.0,1237.99 L1246.5,1237.99 L1247.0,1237.99 L1247.5,1237.99 L1248.0,1237.99 L1248.5,1237.99 L1249.0,1237.99 L1249.5,1237.99 L1250.0,1237.99 L1250.5,1237.99 L1251.0,1237.99 L1251.5,1237.99 L1252.0,1237.99 L1252.5,1237.99 L1253.0,1237.99 L1253.5,1237.99 L1254.0,1237.99 L1254.5,1237.99 L1255.0,1237.99 L1255.5,1237.98 L1256.0,1237.98 L1256.5,1237.97 L1257.0,1237.95 L1257.5,1237.94 L1258.0,1237.92 L1258.5,1237.89 L1259.0,1237.87 L1259.5,1237.84 L1260.0,1237.81 L1260.5,1237.77 L1261.0,1237.73 L1261.5,1237.69 L1262.0,1237.65 L1262.5,1237.61 L1263.0,1237.56 L1263.5,1237.52 L1264.0,1237.47 L1264.5,1237.42 L1265.0,1237.37 L1265.5,1237.31 L1266.0,1237.26 L1266.5,1237.21 L1267.0,1237.15 L1267.5,1237.10 L1268.0,1237.04 L1268.5,1236.99 L1269.0,1236.93 L1269.5,1236.88 L1270.0,1236.82 L1270.5,1236.77 L1271.0,1236.71 L1271.5,1236.66 L1272.0,1236.61 L1272.5,1236.55 L1273.0,1236.50 L1273.5,1236.46 L1274.0,1236.41 L1274.5,1236.36 L1275.0,1236.32 L1275.5,1236.28 L1276.0,1236.24 L1276.5,1236.20 L1277.0,1236.17 L1277.5,1236.13 L1278.0,1236.11 L1278.5,1236.08 L1279.0,1236.06 L1279.5,1236.03 L1280.0,1236.02 L1280.5,1236.00 L1281.0,1235.99 L1281.5,1235.99 L1282.0,1235.99 L1282.5,1235.99 L1283.0,1235.99 L1283.5,1236.00 L1284.0,1236.02 L1284.5,1236.04 L1285.0,1236.06 L1285.5,1236.08 L1286.0,1236.11 L1286.5,1236.14 L1287.0,1236.17 L1287.5,1236.21 L1288.0,1236.24 L1288.5,1236.28 L1289.0,1236.33 L1289.5,1236.37 L1290.0,1236.42 L1290.5,1236.47 L1291.0,1236.52 L1291.5,1236.57 L1292.0,1236.62 L1292.5,1236.67 L1293.0,1236.73 L1293.5,1236.78 L1294.0,1236.84 L1294.5,1236.89 L1295.0,1236.95 L1295.5,1237.00 L1296.0,1237.06 L1296.5,1237.12 L1297.0,1237.17 L1297.5,1237.23 L1298.0,1237.28 L1298.5,1237.33 L1299.0,1237.39 L1299.5,1237.44 L1300.0,1237.49 L1300.5,1237.54 L1301.0,1237.58 L1301.5,1237.63 L1302.0,1237.67 L1302.5,1237.71 L1303.0,1237.75 L1303.5,1237.79 L1304.0,1237.82 L1304.5,1237.85 L1305.0,1237.88 L1305.5,1237.91 L1306.0,1237.93 L1306.5,1237.95 L1307.0,1237.96 L1307.5,1237.98 L1308.0,1237.98 L1308.5,1237.99 L1309.0,1237.99 L1309.5,1237.99 L1310.0,1237.99 L1310.5,1237.99 L1311.0,1237.99 L1311.5,1237.99 L1312.0,1237.99 L1312.5,1237.99 L1313.0,1237.99 L1313.5,1237.99 L1314.0,1237.99 L1314.5,1237.99 L1315.0,1237.99 L1315.5,1237.98 L1316.0,1237.98 L1316.5,1237.98 L1317.0,1237.98 L1317.5,1237.98 L1318.0,1237.98 L1318.5,1237.98 L1319.0,1237.98 L1319.5,1237.98 L1320.0,1237.98 L1320.5,1237.98 L1321.0,1237.98 L1321.5,1237.98 L1322.0,1237.98 L1322.5,1237.98 L1323.0,1237.97 L1323.5,1237.97 L1324.0,1237.97 L1324.5,1237.97 L1325.0,1237.97 L1325.5,1237.97 L1326.0,1237.97 L1326.5,1237.97 L1327.0,1237.97 L1327.5,1237.97 L1328.0,1237.97 L1328.5,1237.96 L1329.0,1237.96 L1329.5,1237.96 L1330.0,1237.96 L1330.5,1237.96 L1331.0,1237.96 L1331.5,1237.96 L1332.0,1237.96 L1332.5,1237.95 L1333.0,1237.95 L1333.5,1237.95 L1334.0,1237.95 L1334.5,1237.95 L1335.0,1237.95 L1335.5,1237.95 L1336.0,1237.95 L1336.5,1237.94 L1337.0,1237.94 L1337.5,1237.94 L1338.0,1237.94 L1338.5,1237.94 L1339.0,1237.94 L1339.5,1237.94 L1340.0,1237.93 L1340.5,1237.93 L1341.0,1237.93 L1341.5,1237.93 L1342.0,1237.93 L1342.5,1237.93 L1343.0,1237.93 L1343.5,1237.92 L1344.0,1237.92 L1344.5,1237.92 L1345.0,1237.92 L1345.5,1237.92 L1346.0,1237.92 L1346.5,1237.91 L1347.0,1237.91 L1347.5,1237.91 L1348.0,1237.91 L1348.5,1237.91 L1349.0,1237.91 L1349.5,1237.90 L1350.0,1237.90 L1350.5,1237.90 L1351.0,1237.90 L1351.5,1237.90 L1352.0,1237.90 L1352.5,1237.90 L1353.0,1237.89 L1353.5,1237.89 L1354.0,1237.89 L1354.5,1237.89 L1355.0,1237.89 L1355.5,1237.89 L1356.0,1237.88 L1356.5,1237.88 L1357.0,1237.88 L1357.5,1237.88 L1358.0,1237.88 L1358.5,1237.88 L1359.0,1237.87 L1359.5,1237.87 L1360.0,1237.87 L1360.5,1237.87 L1361.0,1237.87 L1361.5,1237.87 L1362.0,1237.86 L1362.5,1237.86 L1363.0,1237.86 L1363.5,1237.86 L1364.0,1237.86 L1364.5,1237.86 L1365.0,1237.86 L1365.5,1237.85 L1366.0,1237.85 L1366.5,1237.85 L1367.0,1237.85 L1367.5,1237.85 L1368.0,1237.85 L1368.5,1237.84 L1369.0,1237.84 L1369.5,1237.84 L1370.0,1237.84 L1370.5,1237.84 L1371.0,1237.84 L1371.5,1237.84 L1372.0,1237.83 L1372.5,1237.83 L1373.0,1237.83 L1373.5,1237.83 L1374.0,1237.83 L1374.5,1237.83 L1375.0,1237.83 L1375.5,1237.83 L1376.0,1237.82 L1376.5,1237.82 L1377.0,1237.82 L1377.5,1237.82 L1378.0,1237.82 L1378.5,1237.82 L1379.0,1237.82 L1379.5,1237.82 L1380.0,1237.81 L1380.5,1237.81 L1381.0,1237.81 L1381.5,1237.81 L1382.0,1237.81 L1382.5,1237.81 L1383.0,1237.81 L1383.5,1237.81 L1384.0,1237.81 L1384.5,1237.81 L1385.0,1237.80 L1385.5,1237.80 L1386.0,1237.80 L1386.5,1237.80 L1387.0,1237.80 L1387.5,1237.80 L1388.0,1237.80 L1388.5,1237.80 L1389.0,1237.80 L1389.5,1237.80 L1390.0,1237.80 L1390.5,1237.80 L1391.0,1237.80 L1391.5,1237.80 L1392.0,1237.79 L1392.5,1237.79 L1393.0,1237.79 L1393.5,1237.79 L1394.0,1237.79 L1394.5,1237.79 L1395.0,1237.79 L1395.5,1237.79 L1396.0,1237.79 L1396.5,1237.79 L1397.0,1237.79 L1397.5,1237.79 L1398.0,1237.79 L1398.5,1237.79 L1399.0,1237.79 L1399.5,1237.79 L1400.0,1237.79 L1400.5,1237.79 L1401.0,1237.79 L1401.5,1237.79 L1402.0,1237.79 L1402.5,1237.79 L1403.0,1237.79 L1403.5,1237.79 L1404.0,1237.79 L1404.5,1237.79 L1405.0,1237.79 L1405.5,1237.79 L1406.0,1237.79 L1406.5,1237.79 L1407.0,1237.79 L1407.5,1237.79 L1408.0,1237.79 L1408.5,1237.79 L1409.0,1237.79 L1409.5,1237.79 L1410.0,1237.79 L1410.5,1237.79 L1411.0,1237.79 L1411.5,1237.79 L1412.0,1237.79 L1412.5,1237.79 L1413.0,1237.79 L1413.5,1237.79 L1414.0,1237.79 L1414.5,1237.79 L1415.0,1237.79 L1415.5,1237.79 L1416.0,1237.79 L1416.5,1237.79 L1417.0,1237.79 L1417.5,1237.79 L1418.0,1237.79 L1418.5,1237.79 L1419.0,1237.79 L1419.5,1237.79 L1420.0,1237.79 L1420.5,1237.79 L1421.0,1237.79 L1421.5,1237.79 L1422.0,1237.79 L1422.5,1237.79 L1423.0,1237.79 L1423.5,1237.79 L1424.0,1237.79 L1424.5,1237.79 L1425.0,1237.79 L1425.5,1237.79 L1426.0,1237.79 L1426.5,1237.79 L1427.0,1237.79 L1427.5,1237.79 L1428.0,1237.79 L1428.5,1237.79 L1429.0,1237.79 L1429.5,1237.79 L1430.0,1237.79 L1430.5,1237.79 L1431.0,1237.79 L1431.5,1237.79 L1432.0,1237.79 L1432.5,1237.79 L1433.0,1237.79 L1433.5,1237.79 L1434.0,1237.79 L1434.5,1237.79 L1435.0,1237.79 L1435.5,1237.79 L1436.0,1237.79 L1436.5,1237.79 L1437.0,1237.79 L1437.5,1237.79 L1438.0,1237.79 L1438.5,1237.79 L1439.0,1237.79 L1439.5,1237.79 L1440.0,1237.79 L1440.5,1237.79 L1441.0,1237.79 L1441.5,1237.79 L1442.0,1237.79 L1442.5,1237.79 L1443.0,1237.79 L1443.5,1237.79 L1444.0,1237.79 L1444.5,1237.79 L1445.0,1237.79 L1445.5,1237.79 L1446.0,1237.79 L1446.5,1237.79 L1447.0,1237.79 L1447.5,1237.79 L1448.0,1237.79 L1448.5,1237.79 L1449.0,1237.79 L1449.5,1237.79 L1450.0,1237.79 L1450.5,1237.79 L1451.0,1237.79 L1451.5,1237.79 L1452.0,1237.79 L1452.5,1237.79 L1453.0,1237.79 L1453.5,1237.79 L1454.0,1237.79 L1454.5,1237.79 L1455.0,1237.79 L1455.5,1237.79 L1456.0,1237.79 L1456.5,1237.79 L1457.0,1237.79 L1457.5,1237.79 L1458.0,1237.79 L1458.5,1237.79 L1459.0,1237.79 L1459.5,1237.79 L1460.0,1237.79 L1460.5,1237.79 L1461.0,1237.79 L1461.5,1237.79 L1462.0,1237.79 L1462.5,1237.79 L1463.0,1237.79 L1463.5,1237.79 L1464.0,1237.79 L1464.5,1237.79 L1465.0,1237.79 L1465.5,1237.79 L1466.0,1237.79 L1466.5,1237.79 L1467.0,1237.79 L1467.5,1237.79 L1468.0,1237.79 L1468.5,1237.79 L1469.0,1237.79 L1469.5,1237.79 L1470.0,1237.79 L1470.5,1237.79 L1471.0,1237.79 L1471.5,1237.79 L1472.0,1237.79 L1472.5,1237.79 L1473.0,1237.79 L1473.5,1237.79 L1474.0,1237.79 L1474.5,1237.79 L1475.0,1237.79 L1475.5,1237.79 L1476.0,1237.79 L1476.5,1237.79 L1477.0,1237.79 L1477.5,1237.79 L1478.0,1237.79 L1478.5,1237.79 L1479.0,1237.79 L1479.5,1237.79 L1480.0,1237.79 L1480.5,1237.79 L1481.0,1237.79 L1481.5,1237.79 L1482.0,1237.79 L1482.5,1237.79 L1483.0,1237.79 L1483.5,1237.79 L1484.0,1237.79 L1484.5,1237.79 L1485.0,1237.79 L1485.5,1237.79 L1486.0,1237.79 L1486.5,1237.79 L1487.0,1237.79 L1487.5,1237.79 L1488.0,1237.79 L1488.5,1237.78 L1489.0,1237.75 L1489.5,1237.72 L1490.0,1237.68 L1490.5,1237.64 L1491.0,1237.58 L1491.5,1237.53 L1492.0,1237.46 L1492.5,1237.40 L1493.0,1237.33 L1493.5,1237.26 L1494.0,1237.19 L1494.5,1237.11 L1495.0,1237.04 L1495.5,1236.97 L1496.0,1236.90 L1496.5,1236.83 L1497.0,1236.77 L1497.5,1236.71 L1498.0,1236.66 L1498.5,1236.61 L1499.0,1236.57 L1499.5,1236.54 L1500.0,1236.51 L1500.5,1236.50 L1501.0,1236.49 L1501.5,1236.49 L1502.0,1236.49 L1502.5,1236.49 L1503.0,1236.49 L1503.5,1236.49 L1504.0,1236.49 L1504.5,1236.49 L1505.0,1236.49 L1505.5,1236.49 L1506.0,1236.49 L1506.5,1236.49 L1507.0,1236.49 L1507.5,1236.49 L1508.0,1236.49 L1508.5,1236.49 L1509.0,1236.49 L1509.5,1236.49 L1510.0,1236.49 L1510.5,1236.49 L1511.0,1236.49 L1511.5,1236.49 L1512.0,1236.49 L1512.5,1236.49 L1513.0,1236.49 L1513.5,1236.49 L1514.0,1236.49 L1514.5,1236.49 L1515.0,1236.49 L1515.5,1236.49 L1516.0,1236.49 L1516.5,1236.49 L1517.0,1236.49 L1517.5,1236.49 L1518.0,1236.49 L1518.5,1236.49 L1519.0,1236.49 L1519.5,1236.49 L1520.0,1236.49 L1520.5,1236.49 L1521.0,1236.49 L1521.5,1236.50 L1522.0,1236.53 L1522.5,1236.57 L1523.0,1236.63 L1523.5,1236.70 L1524.0,1236.77 L1524.5,1236.86 L1525.0,1236.95 L1525.5,1237.05 L1526.0,1237.14 L1526.5,1237.24 L1527.0,1237.34 L1527.5,1237.43 L1528.0,1237.51 L1528.5,1237.59 L1529.0,1237.66 L1529.5,1237.71 L1530.0,1237.76 L1530.5,1237.78 L1531.0,1237.79 L1531.5,1237.79 L1532.0,1237.79 L1532.5,1237.79 L1533.0,1237.79 L1533.5,1237.79 L1534.0,1237.79 L1534.5,1237.79 L1535.0,1237.79 L1535.5,1237.79 L1536.0,1237.79 L1536.5,1237.79 L1537.0,1237.79 L1537.5,1237.79 L1538.0,1237.79 L1538.5,1237.79 L1539.0,1237.79 L1539.5,1237.79 L1540.0,1237.79 L1540.5,1237.79 L1541.0,1237.79 L1541.5,1237.79 L1542.0,1237.79 L1542.5,1237.79 L1543.0,1237.79 L1543.5,1237.79 L1544.0,1237.79 L1544.5,1237.79 L1545.0,1237.79 L1545.5,1237.79 L1546.0,1237.79 L1546.5,1237.79 L1547.0,1237.79 L1547.5,1237.79 L1548.0,1237.79 L1548.5,1237.79 L1549.0,1237.79 L1549.5,1237.79 L1550.0,1237.79 L1550.5,1237.79 L1551.0,1237.79 L1551.5,1237.79 L1552.0,1237.79 L1552.5,1237.79 L1553.0,1237.79 L1553.5,1237.79 L1554.0,1237.79 L1554.5,1237.79 L1555.0,1237.79 L1555.5,1237.79 L1556.0,1237.79 L1556.5,1237.79 L1557.0,1237.79 L1557.5,1237.79 L1558.0,1237.79 L1558.5,1237.79 L1559.0,1237.79 L1559.5,1237.79 L1560.0,1237.79 L1560.5,1237.79 L1561.0,1237.79 L1561.5,1237.79 L1562.0,1237.79 L1562.5,1237.79 L1563.0,1237.79 L1563.5,1237.79 L1564.0,1237.79 L1564.5,1237.79 L1565.0,1237.79 L1565.5,1237.79 L1566.0,1237.79 L1566.5,1237.79 L1567.0,1237.79 L1567.5,1237.79 L1568.0,1237.79 L1568.5,1237.79 L1569.0,1237.79 L1569.5,1237.79 L1570.0,1237.79 L1570.5,1237.79 L1571.0,1237.79 L1571.5,1237.79 L1572.0,1237.79 L1572.5,1237.79 L1573.0,1237.79 L1573.5,1237.79 L1574.0,1237.79 L1574.5,1237.79 L1575.0,1237.79 L1575.5,1237.79 L1576.0,1237.79 L1576.5,1237.79 L1577.0,1237.79 L1577.5,1237.79 L1578.0,1237.79 L1578.5,1237.79 L1579.0,1237.79 L1579.5,1237.79 L1580.0,1237.79 L1580.5,1237.79 L1581.0,1237.79 L1581.5,1237.79 L1582.0,1237.79 L1582.5,1237.79 L1583.0,1237.79 L1583.5,1237.79 L1584.0,1237.79 L1584.5,1237.79 L1585.0,1237.79 L1585.5,1237.79 L1586.0,1237.79 L1586.5,1237.79 L1587.0,1237.79 L1587.5,1237.79 L1588.0,1237.79 L1588.5,1237.79 L1589.0,1237.79 L1589.5,1237.79 L1590.0,1237.79 L1590.5,1237.79 L1591.0,1237.79 L1591.5,1237.79 L1592.0,1237.79 L1592.5,1237.79 L1593.0,1237.79 L1593.5,1237.79 L1594.0,1237.79 L1594.5,1237.79 L1595.0,1237.79 L1595.5,1237.79 L1596.0,1237.79 L1596.5,1237.79 L1597.0,1237.79 L1597.5,1237.79 L1598.0,1237.79 L1598.5,1237.79 L1599.0,1237.79 L1599.5,1237.79 L1600.0,1237.79 L1600.5,1237.79 L1601.0,1237.79 L1601.5,1237.79 L1602.0,1237.79 L1602.5,1237.79 L1603.0,1237.79 L1603.5,1237.79 L1604.0,1237.79 L1604.5,1237.79 L1605.0,1237.79 L1605.5,1237.79 L1606.0,1237.79 L1606.5,1237.79 L1607.0,1237.79 L1607.5,1237.79 L1608.0,1237.79 L1608.5,1237.79 L1609.0,1237.79 L1609.5,1237.79 L1610.0,1237.79 L1610.5,1237.79 L1611.0,1237.79 L1611.5,1237.79 L1612.0,1237.79 L1612.5,1237.79 L1613.0,1237.79 L1613.5,1237.79 L1614.0,1237.79 L1614.5,1237.79 L1615.0,1237.79 L1615.5,1237.79 L1616.0,1237.79 L1616.5,1237.79 L1617.0,1237.79 L1617.5,1237.79 L1618.0,1237.79 L1618.5,1237.79 L1619.0,1237.79 L1619.5,1237.79 L1620.0,1237.79 L1620.5,1237.79 L1621.0,1237.79 L1621.5,1237.79 L1622.0,1237.79 L1622.5,1237.79 L1623.0,1237.79 L1623.5,1237.79 L1624.0,1237.79 L1624.5,1237.79 L1625.0,1237.79 L1625.5,1237.79 L1626.0,1237.79 L1626.5,1237.79 L1627.0,1237.79 L1627.5,1237.79 L1628.0,1237.79 L1628.5,1237.79 L1629.0,1237.79 L1629.5,1237.79 L1630.0,1237.79 L1630.5,1237.79 L1631.0,1237.79 L1631.5,1237.79 L1632.0,1237.79 L1632.5,1237.79 L1633.0,1237.79 L1633.5,1237.79 L1634.0,1237.79 L1634.5,1237.79 L1635.0,1237.79 L1635.5,1237.79 L1636.0,1237.79 L1636.5,1237.79 L1637.0,1237.79 L1637.5,1237.79 L1638.0,1237.79 L1638.5,1237.79 L1639.0,1237.79 L1639.5,1237.79 L1640.0,1237.79 L1640.5,1237.79 L1641.0,1237.79 L1641.5,1237.79 L1642.0,1237.79 L1642.5,1237.79 L1643.0,1237.79 L1643.5,1237.79 L1644.0,1237.79 L1644.5,1237.79 L1645.0,1237.79 L1645.5,1237.79 L1646.0,1237.79 L1646.5,1237.79 L1647.0,1237.79 L1647.5,1237.79 L1648.0,1237.79 L1648.5,1237.79 L1649.0,1237.79 L1649.5,1237.79 L1650.0,1237.79 L1650.5,1237.79 L1651.0,1237.79 L1651.5,1237.79 L1652.0,1237.79 L1652.5,1237.79 L1653.0,1237.79 L1653.5,1237.79 L1654.0,1237.79 L1654.5,1237.79 L1655.0,1237.79 L1655.5,1237.79 L1656.0,1237.79 L1656.5,1237.79 L1657.0,1237.79 L1657.5,1237.79 L1658.0,1237.79 L1658.5,1237.79 L1659.0,1237.79 L1659.5,1237.79 L1660.0,1237.79 L1660.5,1237.79 L1661.0,1237.79 L1661.5,1237.79 L1662.0,1237.79 L1662.5,1237.79 L1663.0,1237.79 L1663.5,1237.79 L1664.0,1237.79 L1664.5,1237.79 L1665.0,1237.79 L1665.5,1237.79 L1666.0,1237.79 L1666.5,1237.79 L1667.0,1237.79 L1667.5,1237.79 L1668.0,1237.79 L1668.5,1237.79 L1669.0,1237.79 L1669.5,1237.79 L1670.0,1237.79 L1670.5,1237.79 L1671.0,1237.79 L1671.5,1237.79 L1672.0,1237.79 L1672.5,1237.79 L1673.0,1237.79 L1673.5,1237.79 L1674.0,1237.79 L1674.5,1237.79 L1675.0,1237.79 L1675.5,1237.79 L1676.0,1237.79 L1676.5,1237.79 L1677.0,1237.79 L1677.5,1237.79 L1678.0,1237.79 L1678.5,1237.79 L1679.0,1237.79 L1679.5,1237.79 L1680.0,1237.79 L1680.5,1237.79 L1681.0,1237.79 L1681.5,1237.79 L1682.0,1237.79 L1682.5,1237.79 L1683.0,1237.79 L1683.5,1237.79 L1684.0,1237.79 L1684.5,1237.79 L1685.0,1237.79 L1685.5,1237.79 L1686.0,1237.79 L1686.5,1237.79 L1687.0,1237.79 L1687.5,1237.79 L1688.0,1237.79 L1688.5,1237.79 L1689.0,1237.79 L1689.5,1237.79 L1690.0,1237.79 L1690.5,1237.79 L1691.0,1237.79 L1691.5,1237.79 L1692.0,1237.79 L1692.5,1237.79 L1693.0,1237.79 L1693.5,1237.79 L1694.0,1237.79 L1694.5,1237.79 L1695.0,1237.79 L1695.5,1237.79 L1696.0,1237.79 L1696.5,1237.79 L1697.0,1237.79 L1697.5,1237.79 L1698.0,1237.79 L1698.5,1237.79 L1699.0,1237.79 L1699.5,1237.79 L1700.0,1237.79 L1700.5,1237.79 L1701.0,1237.79 L1701.5,1237.79 L1702.0,1237.79 L1702.5,1237.79 L1703.0,1237.79 L1703.5,1237.79 L1704.0,1237.79 L1704.5,1237.79 L1705.0,1237.79 L1705.5,1237.79 L1706.0,1237.79 L1706.5,1237.79 L1707.0,1237.79 L1707.5,1237.79 L1708.0,1237.79 L1708.5,1237.79 L1709.0,1237.79 L1709.5,1237.79 L1710.0,1237.79 L1710.5,1237.79 L1711.0,1237.80 L1711.5,1237.80 L1712.0,1237.80 L1712.5,1237.80 L1713.0,1237.80 L1713.5,1237.80 L1714.0,1237.80 L1714.5,1237.80 L1715.0,1237.80 L1715.5,1237.80 L1716.0,1237.80 L1716.5,1237.80 L1717.0,1237.80 L1717.5,1237.80 L1718.0,1237.80 L1718.5,1237.80 L1719.0,1237.80 L1719.5,1237.80 L1720.0,1237.80 L1720.5,1237.80 L1721.0,1237.80 L1721.5,1237.80 L1722.0,1237.80 L1722.5,1237.80 L1723.0,1237.80 L1723.5,1237.80 L1724.0,1237.80 L1724.5,1237.80 L1725.0,1237.80 L1725.5,1237.80 L1726.0,1237.80 L1726.5,1237.80 L1727.0,1237.80 L1727.5,1237.80 L1728.0,1237.80 L1728.5,1237.80 L1729.0,1237.80 L1729.5,1237.80 L1730.0,1237.80 L1730.5,1237.80 L1731.0,1237.80 L1731.5,1237.80 L1732.0,1237.80 L1732.5,1237.80 L1733.0,1237.80 L1733.5,1237.80 L1734.0,1237.80 L1734.5,1237.80 L1735.0,1237.80 L1735.5,1237.80 L1736.0,1237.80 L1736.5,1237.80 L1737.0,1237.80 L1737.5,1237.80 L1738.0,1237.80 L1738.5,1237.80 L1739.0,1237.80 L1739.5,1237.80 L1740.0,1237.80 L1740.5,1237.80 L1741.0,1237.80 L1741.5,1237.80 L1742.0,1237.80 L1742.5,1237.80 L1743.0,1237.80 L1743.5,1237.80 L1744.0,1237.80 L1744.5,1237.80 L1745.0,1237.80 L1745.5,1237.80 L1746.0,1237.83 L1746.5,1237.87 L1747.0,1237.93 L1747.5,1238.00 L1748.0,1238.08 L1748.5,1238.16 L1749.0,1238.25 L1749.5,1238.35 L1750.0,1238.45 L1750.5,1238.54 L1751.0,1238.64 L1751.5,1238.73 L1752.0,1238.81 L1752.5,1238.89 L1753.0,1238.96 L1753.5,1239.02 L1754.0,1239.06 L1754.5,1239.09 L1755.0,1239.10 L1755.5,1239.10 L1756.0,1239.10 L1756.5,1239.10 L1757.0,1239.10 L1757.5,1239.10 L1758.0,1239.10 L1758.5,1239.10 L1759.0,1239.10 L1759.5,1239.10 L1760.0,1239.10 L1760.5,1239.10 L1761.0,1239.10 L1761.5,1239.10 L1762.0,1239.10 L1762.5,1239.10 L1763.0,1239.10 L1763.5,1239.10 L1764.0,1239.10 L1764.5,1239.10 L1765.0,1239.10 L1765.5,1239.10 L1766.0,1239.10 L1766.5,1239.10 L1767.0,1239.10 L1767.5,1239.10 L1768.0,1239.10 L1768.5,1239.10 L1769.0,1239.10 L1769.5,1239.10 L1770.0,1239.10 L1770.5,1239.10 L1771.0,1239.10 L1771.5,1239.10 L1772.0,1239.10 L1772.5,1239.10 L1773.0,1239.10 L1773.5,1239.10 L1774.0,1239.10 L1774.5,1239.10 L1775.0,1239.10 L1775.5,1239.10 L1776.0,1239.10 L1776.5,1239.10 L1777.0,1239.10 L1777.5,1239.10 L1778.0,1239.10 L1778.5,1239.10 L1779.0,1239.10 L1779.5,1239.10 L1780.0,1239.10 L1780.5,1239.10 L1781.0,1239.10 L1781.5,1239.10 L1782.0,1239.10 L1782.5,1239.10 L1783.0,1239.10 L1783.5,1239.10 L1784.0,1239.10 L1784.5,1239.10 L1785.0,1239.10 L1785.5,1239.10 L1786.0,1239.10 L1786.5,1239.10 L1787.0,1239.10 L1787.5,1239.10 L1788.0,1239.10 L1788.5,1239.10 L1789.0,1239.10 L1789.5,1239.10 L1790.0,1239.10 L1790.5,1239.10 L1791.0,1239.10 L1791.5,1239.10 L1792.0,1239.10 L1792.5,1239.10 L1793.0,1239.10 L1793.5,1239.10 L1794.0,1239.10 L1794.5,1239.10 L1795.0,1239.10 L1795.5,1239.10 L1796.0,1239.10 L1796.5,1239.10 L1797.0,1239.10 L1797.5,1239.10 L1798.0,1239.10 L1798.5,1239.10 L1799.0,1239.10 L1799.5,1239.10 L1800.0,1239.10 L1800.5,1239.10 L1801.0,1239.10 L1801.5,1239.10 L1802.0,1239.10 L1802.5,1239.10 L1803.0,1239.10 L1803.5,1239.10 L1804.0,1239.10 L1804.5,1239.10 L1805.0,1239.10 L1805.5,1239.10 L1806.0,1239.10 L1806.5,1239.10 L1807.0,1239.10 L1807.5,1239.10 L1808.0,1239.10 L1808.5,1239.10 L1809.0,1239.10 L1809.5,1239.10 L1810.0,1239.10 L1810.5,1239.10 L1811.0,1239.10 L1811.5,1239.10 L1812.0,1239.10 L1812.5,1239.10 L1813.0,1239.10 L1813.5,1239.10 L1814.0,1239.10 L1814.5,1239.10 L1815.0,1239.10 L1815.5,1239.09 L1816.0,1239.07 L1816.5,1239.04 L1817.0,1238.99 L1817.5,1238.94 L1818.0,1238.88 L1818.5,1238.81 L1819.0,1238.73 L1819.5,1238.65 L1820.0,1238.56 L1820.5,1238.47 L1821.0,1238.37 L1821.5,1238.27 L1822.0,1238.18 L1822.5,1238.08 L1823.0,1237.98 L1823.5,1237.89 L1824.0,1237.80 L1824.5,1237.71 L1825.0,1237.63 L1825.5,1237.55 L1826.0,1237.49 L1826.5,1237.43 L1827.0,1237.38 L1827.5,1237.34 L1828.0,1237.31 L1828.5,1237.30 L1829.0,1237.29 L1829.5,1237.29 L1830.0,1237.29 L1830.5,1237.29 L1831.0,1237.29 L1831.5,1237.29 L1832.0,1237.29 L1832.5,1237.29 L1833.0,1237.29 L1833.5,1237.29 L1834.0,1237.29 L1834.5,1237.29 L1835.0,1237.29 L1835.5,1237.29 L1836.0,1237.29 L1836.5,1237.29 L1837.0,1237.29 L1837.5,1237.29 L1838.0,1237.28 L1838.5,1237.28 L1839.0,1237.28 L1839.5,1237.28 L1840.0,1237.28 L1840.5,1237.28 L1841.0,1237.28 L1841.5,1237.27 L1842.0,1237.27 L1842.5,1237.27 L1843.0,1237.27 L1843.5,1237.26 L1844.0,1237.26 L1844.5,1237.26 L1845.0,1237.25 L1845.5,1237.25 L1846.0,1237.25 L1846.5,1237.24 L1847.0,1237.24 L1847.5,1237.23 L1848.0,1237.23 L1848.5,1237.22 L1849.0,1237.21 L1849.5,1237.21 L1850.0,1237.20 L1850.5,1237.19 L1851.0,1237.18 L1851.5,1237.17 L1852.0,1237.16 L1852.5,1237.15 L1853.0,1237.14 L1853.5,1237.13 L1854.0,1237.12 L1854.5,1237.10 L1855.0,1237.09 L1855.5,1237.07 L1856.0,1237.05 L1856.5,1237.04 L1857.0,1237.02 L1857.5,1237.00 L1858.0,1236.97 L1858.5,1236.95 L1859.0,1236.93 L1859.5,1236.90 L1860.0,1236.87 L1860.5,1236.84 L1861.0,1236.81 L1861.5,1236.78 L1862.0,1236.74 L1862.5,1236.70 L1863.0,1236.67 L1863.5,1236.62 L1864.0,1236.58 L1864.5,1236.53 L1865.0,1236.49 L1865.5,1236.44 L1866.0,1236.38 L1866.5,1236.33 L1867.0,1236.27 L1867.5,1236.21 L1868.0,1236.14 L1868.5,1236.07 L1869.0,1236.00 L1869.5,1235.93 L1870.0,1235.85 L1870.5,1235.77 L1871.0,1235.68 L1871.5,1235.59 L1872.0,1235.50 L1872.5,1235.41 L1873.0,1235.31 L1873.5,1235.20 L1874.0,1235.09 L1874.5,1234.98 L1875.0,1234.87 L1875.5,1234.74 L1876.0,1234.62 L1876.5,1234.49 L1877.0,1234.36 L1877.5,1234.22 L1878.0,1234.08 L1878.5,1233.93 L1879.0,1233.78 L1879.5,1233.62 L1880.0,1233.46 L1880.5,1233.29 L1881.0,1233.12 L1881.5,1232.95 L1882.0,1232.77 L1882.5,1232.58 L1883.0,1232.40 L1883.5,1232.20 L1884.0,1232.01 L1884.5,1231.81 L1885.0,1231.60 L1885.5,1231.39 L1886.0,1231.18 L1886.5,1230.96 L1887.0,1230.74 L1887.5,1230.52 L1888.0,1230.29 L1888.5,1230.06 L1889.0,1229.83 L1889.5,1229.59 L1890.0,1229.36 L1890.5,1229.12 L1891.0,1228.87 L1891.5,1228.63 L1892.0,1228.39 L1892.5,1228.14 L1893.0,1227.89 L1893.5,1227.64 L1894.0,1227.40 L1894.5,1227.15 L1895.0,1226.90 L1895.5,1226.65 L1896.0,1226.41 L1896.5,1226.16 L1897.0,1225.92 L1897.5,1225.68 L1898.0,1225.44 L1898.5,1225.20 L1899.0,1224.97 L1899.5,1224.74 L1900.0,1224.52 L1900.5,1224.30 L1901.0,1224.08 L1901.5,1223.87 L1902.0,1223.66 L1902.5,1223.46 L1903.0,1223.26 L1903.5,1223.07 L1904.0,1222.89 L1904.5,1222.71 L1905.0,1222.55 L1905.5,1222.38 L1906.0,1222.23 L1906.5,1222.09 L1907.0,1221.95 L1907.5,1221.82 L1908.0,1221.70 L1908.5,1221.59 L1909.0,1221.49 L1909.5,1221.40 L1910.0,1221.31 L1910.5,1221.24 L1911.0,1221.18 L1911.5,1221.13 L1912.0,1221.08 L1912.5,1221.05 L1913.0,1221.03 L1913.5,1221.02 L1914.0,1221.02 L1914.5,1221.03 L1915.0,1221.05 L1915.5,1221.07 L1916.0,1221.11 L1916.5,1221.16 L1917.0,1221.22 L1917.5,1221.29 L1918.0,1221.37 L1918.5,1221.45 L1919.0,1221.55 L1919.5,1221.65 L1920.0,1221.76 L1920.5,1221.89 L1921.0,1222.01 L1921.5,1222.15 L1922.0,1222.30 L1922.5,1222.45 L1923.0,1222.61 L1923.5,1222.77 L1924.0,1222.94 L1924.5,1223.12 L1925.0,1223.31 L1925.5,1223.49 L1926.0,1223.69 L1926.5,1223.89 L1927.0,1224.09 L1927.5,1224.30 L1928.0,1224.51 L1928.5,1224.72 L1929.0,1224.94 L1929.5,1225.16 L1930.0,1225.38 L1930.5,1225.61 L1931.0,1225.83 L1931.5,1226.06 L1932.0,1226.29 L1932.5,1226.52 L1933.0,1226.75 L1933.5,1226.99 L1934.0,1227.22 L1934.5,1227.45 L1935.0,1227.68 L1935.5,1227.91 L1936.0,1228.15 L1936.5,1228.38 L1937.0,1228.60 L1937.5,1228.83 L1938.0,1229.06 L1938.5,1229.28 L1939.0,1229.50 L1939.5,1229.72 L1940.0,1229.94 L1940.5,1230.16 L1941.0,1230.37 L1941.5,1230.58 L1942.0,1230.79 L1942.5,1231.00 L1943.0,1231.20 L1943.5,1231.40 L1944.0,1231.59 L1944.5,1231.78 L1945.0,1231.97 L1945.5,1232.16 L1946.0,1232.34 L1946.5,1232.52 L1947.0,1232.70 L1947.5,1232.87 L1948.0,1233.03 L1948.5,1233.20 L1949.0,1233.36 L1949.5,1233.52 L1950.0,1233.67 L1950.5,1233.82 L1951.0,1233.96 L1951.5,1234.11 L1952.0,1234.24 L1952.5,1234.38 L1953.0,1234.51 L1953.5,1234.64 L1954.0,1234.76 L1954.5,1234.88 L1955.0,1235.00 L1955.5,1235.11 L1956.0,1235.22 L1956.5,1235.33 L1957.0,1235.43 L1957.5,1235.53 L1958.0,1235.63 L1958.5,1235.72 L1959.0,1235.81 L1959.5,1235.90 L1960.0,1235.99 L1960.5,1236.07 L1961.0,1236.15 L1961.5,1236.22 L1962.0,1236.30 L1962.5,1236.37 L1963.0,1236.44 L1963.5,1236.50 L1964.0,1236.57 L1964.5,1236.63 L1965.0,1236.69 L1965.5,1236.75 L1966.0,1236.80 L1966.5,1236.85 L1967.0,1236.91 L1967.5,1236.95 L1968.0,1237.00 L1968.5,1237.05 L1969.0,1237.09 L1969.5,1237.13 L1970.0,1237.18 L1970.5,1237.22 L1971.0,1237.25 L1971.5,1237.29 L1972.0,1237.32 L1972.5,1237.36 L1973.0,1237.39 L1973.5,1237.42 L1974.0,1237.45 L1974.5,1237.48 L1975.0,1237.51 L1975.5,1237.54 L1976.0,1237.57 L1976.5,1237.59 L1977.0,1237.62 L1977.5,1237.64 L1978.0,1237.66 L1978.5,1237.69 L1979.0,1237.71 L1979.5,1237.73 L1980.0,1237.75 L1980.5,1237.77 L1981.0,1237.79 L1981.5,1237.81 L1982.0,1237.82 L1982.5,1237.84 L1983.0,1237.86 L1983.5,1237.88 L1984.0,1237.89 L1984.5,1237.91 L1985.0,1237.92 L1985.5,1237.94 L1986.0,1237.96 L1986.5,1237.97 L1987.0,1237.98 L1987.5,1238.00 L1988.0,1238.01 L1988.5,1238.03 L1989.0,1238.04 L1989.5,1238.05 L1990.0,1238.07 L1990.5,1238.08 L1991.0,1238.09 L1991.5,1238.10 L1992.0,1238.12 L1992.5,1238.13 L1993.0,1238.14 L1993.5,1238.15 L1994.0,1238.16 L1994.5,1238.17 L1995.0,1238.19 L1995.5,1238.20 L1996.0,1238.21 L1996.5,1238.22 L1997.0,1238.23 L1997.5,1238.24 L1998.0,1238.25 L1998.5,1238.27 L1999.0,1238.28 L1999.5,1238.29 L2000.0,1238.30 L2000.5,1238.31 L2001.0,1238.33 L2001.5,1238.34 L2002.0,1238.35 L2002.5,1238.37 L2003.0,1238.38 L2003.5,1238.39 L2004.0,1238.40 L2004.5,1238.42 L2005.0,1238.43 L2005.5,1238.45 L2006.0,1238.46 L2006.5,1238.47 L2007.0,1238.49 L2007.5,1238.50 L2008.0,1238.52 L2008.5,1238.53 L2009.0,1238.54 L2009.5,1238.56 L2010.0,1238.57 L2010.5,1238.59 L2011.0,1238.60 L2011.5,1238.62 L2012.0,1238.63 L2012.5,1238.65 L2013.0,1238.66 L2013.5,1238.68 L2014.0,1238.70 L2014.5,1238.71 L2015.0,1238.73 L2015.5,1238.74 L2016.0,1238.76 L2016.5,1238.77 L2017.0,1238.79 L2017.5,1238.81 L2018.0,1238.82 L2018.5,1238.84 L2019.0,1238.85 L2019.5,1238.87 L2020.0,1238.89 L2020.5,1238.90 L2021.0,1238.92 L2021.5,1238.94 L2022.0,1238.95 L2022.5,1238.97 L2023.0,1238.98 L2023.5,1239.00 L2024.0,1239.02 L2024.5,1239.03 L2025.0,1239.05 L2025.5,1239.07 L2026.0,1239.08 L2026.5,1239.10 L2027.0,1239.12 L2027.5,1239.13 L2028.0,1239.15 L2028.5,1239.17 L2029.0,1239.18 L2029.5,1239.20 L2030.0,1239.22 L2030.5,1239.23 L2031.0,1239.25 L2031.5,1239.26 L2032.0,1239.28 L2032.5,1239.30 L2033.0,1239.31 L2033.5,1239.33 L2034.0,1239.34 L2034.5,1239.36"/>
<path class="cv" stroke="#ff0000" d="M35.0,754.40 L35.5,754.40 L36.0,754.40 L36.5,754.40 L37.0,754.40 L37.5,754.40 L38.0,754.40 L38.5,754.40 L39.0,754.40 L39.5,754.40 L40.0,754.40 L40.5,754.40 L41.0,754.40 L41.5,754.40 L42.0,754.40 L42.5,754.40 L43.0,754.40 L43.5,754.40 L44.0,754.40 L44.5,754.40 L45.0,754.40 L45.5,754.40 L46.0,754.40 L46.5,754.40 L47.0,754.40 L47.5,754.40 L48.0,754.40 L48.5,754.40 L49.0,754.40 L49.5,754.40 L50.0,754.40 L50.5,754.40 L51.0,754.40 L51.5,754.40 L52.0,754.40 L52.5,754.40 L53.0,754.40 L53.5,754.40 L54.0,754.40 L54.5,754.40 L55.0,754.40 L55.5,754.40 L56.0,754.40 L56.5,754.40 L57.0,754.40 L57.5,754.40 L58.0,754.40 L58.5,754.40 L59.0,754.40 L59.5,754.40 L60.0,754.40 L60.5,754.40 L61.0,754.40 L61.5,754.40 L62.0,754.40 L62.5,754.40 L63.0,754.40 L63.5,754.40 L64.0,754.40 L64.5,754.40 L65.0,754.40 L65.5,754.40 L66.0,754.40 L66.5,754.40 L67.0,754.40 L67.5,754.40 L68.0,754.40 L68.5,754.40 L69.0,754.33 L69.5,754.15 L70.0,753.86 L70.5,753.49 L71.0,753.05 L71.5,752.55 L72.0,752.02 L72.5,751.47 L73.0,750.91 L73.5,750.36 L74.0,749.84 L74.5,749.36 L75.0,748.95 L75.5,748.61 L76.0,748.36 L76.5,748.22 L77.0,748.20 L77.5,748.21 L78.0,748.24 L78.5,748.27 L79.0,748.32 L79.5,748.37 L80.0,748.43 L80.5,748.50 L81.0,748.57 L81.5,748.65 L82.0,748.72 L82.5,748.79 L83.0,748.86 L83.5,748.93 L84.0,749.00 L84.5,749.05 L85.0,749.10 L85.5,749.14 L86.0,749.17 L86.5,749.19 L87.0,749.20 L87.5,749.17 L88.0,749.12 L88.5,749.04 L89.0,748.93 L89.5,748.81 L90.0,748.68 L90.5,748.54 L91.0,748.40 L91.5,748.20 L92.0,747.92 L92.5,747.58 L93.0,747.21 L93.5,746.82 L94.0,746.45 L94.5,746.11 L95.0,745.84 L95.5,745.66 L96.0,745.60 L96.5,745.66 L97.0,745.82 L97.5,746.06 L98.0,746.37 L98.5,746.72 L99.0,747.09 L99.5,747.46 L100.0,747.82 L100.5,748.14 L101.0,748.40 L101.5,748.63 L102.0,748.88 L102.5,749.13 L103.0,749.37 L103.5,749.58 L104.0,749.75 L104.5,749.86 L105.0,749.90 L105.5,749.90 L106.0,749.90 L106.5,749.90 L107.0,749.90 L107.5,749.90 L108.0,749.90 L108.5,749.90 L109.0,749.90 L109.5,749.90 L110.0,749.90 L110.5,749.90 L111.0,749.90 L111.5,749.90 L112.0,749.90 L112.5,749.90 L113.0,749.90 L113.5,749.90 L114.0,749.90 L114.5,749.90 L115.0,749.90 L115.5,749.87 L116.0,749.78 L116.5,749.65 L117.0,749.47 L117.5,749.26 L118.0,749.03 L118.5,748.77 L119.0,748.51 L119.5,748.24 L120.0,747.97 L120.5,747.71 L121.0,747.48 L121.5,747.26 L122.0,747.08 L122.5,746.94 L123.0,746.84 L123.5,746.80 L124.0,746.81 L124.5,746.86 L125.0,746.95 L125.5,747.06 L126.0,747.21 L126.5,747.37 L127.0,747.56 L127.5,747.76 L128.0,747.97 L128.5,748.19 L129.0,748.41 L129.5,748.63 L130.0,748.85 L130.5,749.06 L131.0,749.25 L131.5,749.42 L132.0,749.58 L132.5,749.71 L133.0,749.81 L133.5,749.88 L134.0,749.92 L134.5,749.95 L135.0,749.98 L135.5,750.01 L136.0,750.03 L136.5,750.06 L137.0,750.08 L137.5,750.10 L138.0,750.12 L138.5,750.14 L139.0,750.15 L139.5,750.17 L140.0,750.18 L140.5,750.19 L141.0,750.21 L141.5,750.22 L142.0,750.23 L142.5,750.24 L143.0,750.26 L143.5,750.27 L144.0,750.28 L144.5,750.29 L145.0,750.31 L145.5,750.32 L146.0,750.33 L146.5,750.35 L147.0,750.37 L147.5,750.38 L148.0,750.40 L148.5,750.42 L149.0,750.43 L149.5,750.42 L150.0,750.36 L150.5,750.22 L151.0,749.91 L151.5,749.32 L152.0,748.29 L152.5,746.67 L153.0,744.35 L153.5,741.32 L154.0,737.79 L154.5,734.13 L155.0,730.90 L155.5,728.68 L156.0,727.90 L156.5,728.33 L157.0,729.51 L157.5,731.25 L158.0,733.33 L158.5,735.50 L159.0,737.53 L159.5,739.22 L160.0,740.43 L160.5,741.09 L161.0,741.20 L161.5,740.83 L162.0,740.11 L162.5,739.23 L163.0,738.41 L163.5,737.86 L164.0,737.74 L164.5,738.14 L165.0,739.01 L165.5,740.30 L166.0,741.90 L166.5,743.68 L167.0,745.50 L167.5,747.21 L168.0,748.71 L168.5,749.91 L169.0,750.78 L169.5,751.27 L170.0,751.40 L170.5,751.15 L171.0,750.55 L171.5,749.63 L172.0,748.46 L172.5,747.14 L173.0,745.83 L173.5,744.67 L174.0,743.81 L174.5,743.38 L175.0,743.36 L175.5,743.63 L176.0,744.14 L176.5,744.85 L177.0,745.67 L177.5,746.55 L178.0,747.43 L178.5,748.26 L179.0,749.01 L179.5,749.65 L180.0,750.19 L180.5,750.63 L181.0,750.98 L181.5,751.25 L182.0,751.45 L182.5,751.59 L183.0,751.70 L183.5,751.78 L184.0,751.84 L184.5,751.89 L185.0,751.92 L185.5,751.96 L186.0,751.99 L186.5,752.01 L187.0,752.03 L187.5,752.04 L188.0,752.03 L188.5,751.98 L189.0,751.85 L189.5,751.57 L190.0,751.05 L190.5,750.11 L191.0,748.57 L191.5,746.21 L192.0,742.85 L192.5,738.41 L193.0,733.03 L193.5,727.09 L194.0,721.23 L194.5,716.21 L195.0,712.82 L195.5,711.62 L196.0,711.88 L196.5,712.64 L197.0,713.88 L197.5,715.56 L198.0,717.60 L198.5,719.95 L199.0,722.51 L199.5,725.22 L200.0,727.99 L200.5,730.75 L201.0,733.43 L201.5,735.98 L202.0,738.36 L202.5,740.53 L203.0,742.48 L203.5,744.20 L204.0,745.69 L204.5,746.96 L205.0,748.03 L205.5,748.91 L206.0,749.62 L206.5,750.19 L207.0,750.63 L207.5,750.97 L208.0,751.22 L208.5,751.38 L209.0,751.47 L209.5,751.48 L210.0,751.40 L210.5,751.21 L211.0,750.87 L211.5,750.36 L212.0,749.61 L212.5,748.57 L213.0,747.18 L213.5,745.40 L214.0,743.21 L214.5,740.59 L215.0,737.60 L215.5,734.32 L216.0,730.89 L216.5,727.50 L217.0,724.34 L217.5,721.63 L218.0,719.58 L218.5,718.34 L219.0,718.02 L219.5,718.34 L220.0,719.17 L220.5,720.43 L221.0,722.06 L221.5,723.96 L222.0,726.05 L222.5,728.25 L223.0,730.48 L223.5,732.68 L224.0,734.80 L224.5,736.80 L225.0,738.65 L225.5,740.33 L226.0,741.84 L226.5,743.17 L227.0,744.32 L227.5,745.31 L228.0,746.14 L228.5,746.83 L229.0,747.40 L229.5,747.86 L230.0,748.24 L230.5,748.54 L231.0,748.78 L231.5,748.97 L232.0,749.12 L232.5,749.24 L233.0,749.34 L233.5,749.42 L234.0,749.49 L234.5,749.55 L235.0,749.60 L235.5,749.65 L236.0,749.69 L236.5,749.73 L237.0,749.77 L237.5,749.80 L238.0,749.84 L238.5,749.88 L239.0,749.92 L239.5,749.96 L240.0,750.00 L240.5,750.04 L241.0,750.08 L241.5,750.13 L242.0,750.17 L242.5,750.21 L243.0,750.26 L243.5,750.31 L244.0,750.35 L244.5,750.40 L245.0,750.45 L245.5,750.50 L246.0,750.55 L246.5,750.60 L247.0,750.65 L247.5,750.70 L248.0,750.75 L248.5,750.80 L249.0,750.86 L249.5,750.91 L250.0,750.96 L250.5,751.01 L251.0,751.06 L251.5,751.12 L252.0,751.17 L252.5,751.22 L253.0,751.27 L253.5,751.32 L254.0,751.37 L254.5,751.41 L255.0,751.46 L255.5,751.51 L256.0,751.55 L256.5,751.60 L257.0,751.64 L257.5,751.68 L258.0,751.72 L258.5,751.76 L259.0,751.80 L259.5,751.83 L260.0,751.86 L260.5,751.89 L261.0,751.92 L261.5,751.95 L262.0,751.97 L262.5,751.99 L263.0,752.01 L263.5,752.03 L264.0,752.04 L264.5,752.06 L265.0,752.06 L265.5,752.07 L266.0,752.06 L266.5,752.01 L267.0,751.91 L267.5,751.80 L268.0,751.68 L268.5,751.52 L269.0,751.30 L269.5,751.01 L270.0,750.70 L270.5,750.36 L271.0,750.01 L271.5,749.68 L272.0,749.37 L272.5,749.10 L273.0,748.89 L273.5,748.75 L274.0,748.70 L274.5,748.76 L275.0,748.91 L275.5,749.14 L276.0,749.42 L276.5,749.72 L277.0,750.04 L277.5,750.34 L278.0,750.60 L278.5,750.80 L279.0,750.91 L279.5,750.98 L280.0,751.04 L280.5,751.09 L281.0,751.14 L281.5,751.16 L282.0,751.15 L282.5,751.10 L283.0,750.96 L283.5,750.68 L284.0,750.18 L284.5,749.33 L285.0,747.98 L285.5,745.90 L286.0,742.82 L286.5,738.43 L287.0,732.42 L287.5,724.53 L288.0,714.62 L288.5,702.72 L289.0,689.09 L289.5,674.31 L290.0,659.17 L290.5,644.74 L291.0,632.14 L291.5,622.49 L292.0,616.68 L292.5,615.30 L293.0,618.65 L293.5,626.19 L294.0,636.66 L294.5,648.69 L295.0,661.09 L295.5,673.05 L296.0,684.08 L296.5,693.95 L297.0,702.57 L297.5,709.97 L298.0,716.22 L298.5,721.45 L299.0,725.78 L299.5,729.35 L300.0,732.28 L300.5,734.69 L301.0,736.68 L301.5,738.33 L302.0,739.71 L302.5,740.89 L303.0,741.89 L303.5,742.75 L304.0,743.51 L304.5,744.17 L305.0,744.76 L305.5,745.28 L306.0,745.75 L306.5,746.17 L307.0,746.54 L307.5,746.88 L308.0,747.19 L308.5,747.47 L309.0,747.73 L309.5,747.96 L310.0,748.17 L310.5,748.37 L311.0,748.55 L311.5,748.71 L312.0,748.87 L312.5,749.01 L313.0,749.14 L313.5,749.26 L314.0,749.38 L314.5,749.49 L315.0,749.60 L315.5,749.70 L316.0,749.80 L316.5,749.90 L317.0,749.99 L317.5,750.07 L318.0,750.15 L318.5,750.23 L319.0,750.31 L319.5,750.38 L320.0,750.46 L320.5,750.52 L321.0,750.59 L321.5,750.65 L322.0,750.71 L322.5,750.77 L323.0,750.82 L323.5,750.87 L324.0,750.92 L324.5,750.96 L325.0,751.00 L325.5,751.04 L326.0,751.08 L326.5,751.11 L327.0,751.14 L327.5,751.16 L328.0,751.18 L328.5,751.20 L329.0,751.21 L329.5,751.22 L330.0,751.23 L330.5,751.24 L331.0,751.25 L331.5,751.25 L332.0,751.26 L332.5,751.27 L333.0,751.27 L333.5,751.28 L334.0,751.28 L334.5,751.29 L335.0,751.29 L335.5,751.29 L336.0,751.30 L336.5,751.30 L337.0,751.30 L337.5,751.31 L338.0,751.31 L338.5,751.31 L339.0,751.31 L339.5,751.31 L340.0,751.31 L340.5,751.31 L341.0,751.28 L341.5,751.23 L342.0,751.17 L342.5,751.09 L343.0,751.01 L343.5,750.91 L344.0,750.81 L344.5,750.70 L345.0,750.58 L345.5,750.47 L346.0,750.35 L346.5,750.24 L347.0,750.13 L347.5,750.02 L348.0,749.93 L348.5,749.84 L349.0,749.76 L349.5,749.70 L350.0,749.65 L350.5,749.62 L351.0,749.61 L351.5,749.63 L352.0,749.67 L352.5,749.73 L353.0,749.82 L353.5,749.93 L354.0,750.06 L354.5,750.20 L355.0,750.35 L355.5,750.51 L356.0,750.68 L356.5,750.84 L357.0,751.01 L357.5,751.18 L358.0,751.34 L358.5,751.49 L359.0,751.63 L359.5,751.75 L360.0,751.86 L360.5,751.95 L361.0,752.01 L361.5,752.05 L362.0,752.06 L362.5,752.06 L363.0,752.06 L363.5,752.05 L364.0,752.05 L364.5,752.05 L365.0,752.04 L365.5,752.04 L366.0,752.03 L366.5,752.03 L367.0,752.02 L367.5,752.02 L368.0,752.01 L368.5,752.00 L369.0,752.00 L369.5,751.99 L370.0,751.98 L370.5,751.96 L371.0,751.93 L371.5,751.87 L372.0,751.80 L372.5,751.72 L373.0,751.63 L373.5,751.53 L374.0,751.42 L374.5,751.30 L375.0,751.17 L375.5,751.04 L376.0,750.91 L376.5,750.78 L377.0,750.64 L377.5,750.50 L378.0,750.36 L378.5,750.23 L379.0,750.09 L379.5,749.96 L380.0,749.82 L380.5,749.69 L381.0,749.53 L381.5,749.36 L382.0,749.17 L382.5,748.96 L383.0,748.72 L383.5,748.47 L384.0,748.19 L384.5,747.90 L385.0,747.58 L385.5,747.24 L386.0,746.89 L386.5,746.51 L387.0,746.13 L387.5,745.74 L388.0,745.34 L388.5,744.94 L389.0,744.55 L389.5,744.17 L390.0,743.81 L390.5,743.48 L391.0,743.18 L391.5,742.93 L392.0,742.72 L392.5,742.57 L393.0,742.48 L393.5,742.45 L394.0,742.57 L394.5,742.84 L395.0,743.27 L395.5,743.81 L396.0,744.45 L396.5,745.14 L397.0,745.84 L397.5,746.54 L398.0,747.20 L398.5,747.80 L399.0,748.32 L399.5,748.77 L400.0,749.14 L400.5,749.43 L401.0,749.64 L401.5,749.78 L402.0,749.84 L402.5,749.83 L403.0,749.74 L403.5,749.54 L404.0,749.23 L404.5,748.75 L405.0,748.07 L405.5,747.12 L406.0,745.83 L406.5,744.09 L407.0,741.80 L407.5,738.82 L408.0,734.99 L408.5,730.16 L409.0,724.15 L409.5,716.80 L410.0,707.92 L410.5,697.38 L411.0,685.07 L411.5,670.92 L412.0,654.94 L412.5,637.20 L413.0,617.88 L413.5,597.23 L414.0,575.62 L414.5,553.50 L415.0,531.40 L415.5,509.93 L416.0,489.71 L416.5,471.39 L417.0,455.59 L417.5,442.86 L418.0,433.67 L418.5,428.36 L419.0,427.13 L419.5,429.87 L420.0,436.35 L420.5,446.16 L421.0,458.73 L421.5,473.43 L422.0,489.59 L422.5,506.61 L423.0,523.97 L423.5,541.25 L424.0,558.12 L424.5,574.35 L425.0,589.76 L425.5,604.26 L426.0,617.78 L426.5,630.30 L427.0,641.82 L427.5,652.36 L428.0,661.96 L428.5,670.66 L429.0,678.52 L429.5,685.60 L430.0,691.95 L430.5,697.63 L431.0,702.71 L431.5,707.25 L432.0,711.30 L432.5,714.92 L433.0,718.14 L433.5,721.03 L434.0,723.61 L434.5,725.93 L435.0,728.01 L435.5,729.89 L436.0,731.59 L436.5,733.13 L437.0,734.53 L437.5,735.81 L438.0,736.98 L438.5,738.05 L439.0,739.04 L439.5,739.95 L440.0,740.79 L440.5,741.56 L441.0,742.28 L441.5,742.95 L442.0,743.57 L442.5,744.14 L443.0,744.68 L443.5,745.17 L444.0,745.64 L444.5,746.07 L445.0,746.47 L445.5,746.85 L446.0,747.20 L446.5,747.52 L447.0,747.83 L447.5,748.11 L448.0,748.37 L448.5,748.62 L449.0,748.85 L449.5,749.06 L450.0,749.26 L450.5,749.45 L451.0,749.63 L451.5,749.79 L452.0,749.94 L452.5,750.08 L453.0,750.21 L453.5,750.33 L454.0,750.44 L454.5,750.55 L455.0,750.65 L455.5,750.74 L456.0,750.82 L456.5,750.90 L457.0,750.97 L457.5,751.04 L458.0,751.10 L458.5,751.16 L459.0,751.21 L459.5,751.26 L460.0,751.31 L460.5,751.35 L461.0,751.39 L461.5,751.43 L462.0,751.47 L462.5,751.50 L463.0,751.53 L463.5,751.56 L464.0,751.59 L464.5,751.61 L465.0,751.64 L465.5,751.66 L466.0,751.68 L466.5,751.70 L467.0,751.72 L467.5,751.73 L468.0,751.75 L468.5,751.76 L469.0,751.78 L469.5,751.79 L470.0,751.80 L470.5,751.81 L471.0,751.82 L471.5,751.83 L472.0,751.84 L472.5,751.85 L473.0,751.86 L473.5,751.86 L474.0,751.87 L474.5,751.88 L475.0,751.88 L475.5,751.89 L476.0,751.90 L476.5,751.90 L477.0,751.91 L477.5,751.91 L478.0,751.92 L478.5,751.92 L479.0,751.92 L479.5,751.93 L480.0,751.93 L480.5,751.93 L481.0,751.94 L481.5,751.94 L482.0,751.94 L482.5,751.94 L483.0,751.95 L483.5,751.95 L484.0,751.95 L484.5,751.95 L485.0,751.95 L485.5,751.95 L486.0,751.96 L486.5,751.96 L487.0,751.96 L487.5,751.96 L488.0,751.96 L488.5,751.96 L489.0,751.96 L489.5,751.96 L490.0,751.96 L490.5,751.96 L491.0,751.96 L491.5,751.96 L492.0,751.95 L492.5,751.94 L493.0,751.92 L493.5,751.90 L494.0,751.88 L494.5,751.85 L495.0,751.82 L495.5,751.79 L496.0,751.75 L496.5,751.71 L497.0,751.67 L497.5,751.63 L498.0,751.59 L498.5,751.54 L499.0,751.50 L499.5,751.46 L500.0,751.41 L500.5,751.37 L501.0,751.32 L501.5,751.28 L502.0,751.24 L502.5,751.20 L503.0,751.16 L503.5,751.12 L504.0,751.09 L504.5,751.06 L505.0,751.03 L505.5,751.00 L506.0,750.98 L506.5,750.95 L507.0,750.93 L507.5,750.90 L508.0,750.87 L508.5,750.83 L509.0,750.78 L509.5,750.71 L510.0,750.61 L510.5,750.47 L511.0,750.28 L511.5,750.04 L512.0,749.72 L512.5,749.32 L513.0,748.81 L513.5,748.19 L514.0,747.43 L514.5,746.53 L515.0,745.48 L515.5,744.26 L516.0,742.88 L516.5,741.36 L517.0,739.70 L517.5,737.94 L518.0,736.11 L518.5,734.25 L519.0,732.42 L519.5,730.68 L520.0,729.07 L520.5,727.66 L521.0,726.51 L521.5,725.64 L522.0,725.11 L522.5,724.93 L523.0,725.10 L523.5,725.59 L524.0,726.38 L524.5,727.44 L525.0,728.72 L525.5,730.16 L526.0,731.72 L526.5,733.35 L527.0,735.00 L527.5,736.64 L528.0,738.23 L528.5,739.75 L529.0,741.18 L529.5,742.49 L530.0,743.68 L530.5,744.74 L531.0,745.68 L531.5,746.50 L532.0,747.20 L532.5,747.80 L533.0,748.30 L533.5,748.71 L534.0,749.05 L534.5,749.32 L535.0,749.53 L535.5,749.69 L536.0,749.80 L536.5,749.88 L537.0,749.91 L537.5,749.90 L538.0,749.84 L538.5,749.74 L539.0,749.58 L539.5,749.35 L540.0,749.04 L540.5,748.64 L541.0,748.14 L541.5,747.52 L542.0,746.76 L542.5,745.86 L543.0,744.79 L543.5,743.56 L544.0,742.16 L544.5,740.59 L545.0,738.86 L545.5,736.99 L546.0,735.01 L546.5,732.95 L547.0,730.84 L547.5,728.75 L548.0,726.71 L548.5,724.80 L549.0,723.06 L549.5,721.55 L550.0,720.31 L550.5,719.40 L551.0,718.84 L551.5,718.66 L552.0,718.83 L552.5,719.33 L553.0,720.13 L553.5,721.21 L554.0,722.50 L554.5,723.97 L555.0,725.56 L555.5,727.24 L556.0,728.96 L556.5,730.68 L557.0,732.37 L557.5,734.02 L558.0,735.60 L558.5,737.10 L559.0,738.50 L559.5,739.80 L560.0,740.99 L560.5,742.07 L561.0,743.05 L561.5,743.92 L562.0,744.70 L562.5,745.38 L563.0,745.98 L563.5,746.49 L564.0,746.94 L564.5,747.33 L565.0,747.66 L565.5,747.94 L566.0,748.18 L566.5,748.38 L567.0,748.56 L567.5,748.71 L568.0,748.83 L568.5,748.94 L569.0,749.04 L569.5,749.13 L570.0,749.20 L570.5,749.28 L571.0,749.34 L571.5,749.40 L572.0,749.46 L572.5,749.51 L573.0,749.56 L573.5,749.60 L574.0,749.64 L574.5,749.68 L575.0,749.71 L575.5,749.73 L576.0,749.75 L576.5,749.75 L577.0,749.75 L577.5,749.73 L578.0,749.70 L578.5,749.64 L579.0,749.55 L579.5,749.44 L580.0,749.28 L580.5,749.07 L581.0,748.80 L581.5,748.47 L582.0,748.04 L582.5,747.52 L583.0,746.87 L583.5,746.09 L584.0,745.14 L584.5,744.00 L585.0,742.64 L585.5,741.04 L586.0,739.17 L586.5,736.99 L587.0,734.48 L587.5,731.60 L588.0,728.34 L588.5,724.67 L589.0,720.57 L589.5,716.03 L590.0,711.06 L590.5,705.64 L591.0,699.81 L591.5,693.58 L592.0,686.99 L592.5,680.09 L593.0,672.95 L593.5,665.64 L594.0,658.23 L594.5,650.84 L595.0,643.55 L595.5,636.48 L596.0,629.75 L596.5,623.46 L597.0,617.73 L597.5,612.67 L598.0,608.38 L598.5,604.94 L599.0,602.44 L599.5,600.93 L600.0,600.43 L600.5,600.90 L601.0,602.25 L601.5,604.43 L602.0,607.40 L602.5,611.06 L603.0,615.34 L603.5,620.13 L604.0,625.34 L604.5,630.88 L605.0,636.65 L605.5,642.57 L606.0,648.57 L606.5,654.58 L607.0,660.54 L607.5,666.40 L608.0,672.12 L608.5,677.67 L609.0,683.01 L609.5,688.13 L610.0,693.00 L610.5,697.61 L611.0,701.95 L611.5,706.02 L612.0,709.82 L612.5,713.35 L613.0,716.62 L613.5,719.62 L614.0,722.38 L614.5,724.91 L615.0,727.21 L615.5,729.31 L616.0,731.20 L616.5,732.92 L617.0,734.46 L617.5,735.86 L618.0,737.11 L618.5,738.24 L619.0,739.26 L619.5,740.17 L620.0,740.99 L620.5,741.73 L621.0,742.40 L621.5,743.00 L622.0,743.55 L622.5,744.05 L623.0,744.50 L623.5,744.92 L624.0,745.30 L624.5,745.65 L625.0,745.98 L625.5,746.28 L626.0,746.56 L626.5,746.83 L627.0,747.08 L627.5,747.31 L628.0,747.54 L628.5,747.75 L629.0,747.95 L629.5,748.14 L630.0,748.32 L630.5,748.50 L631.0,748.66 L631.5,748.82 L632.0,748.98 L632.5,749.13 L633.0,749.27 L633.5,749.41 L634.0,749.54 L634.5,749.67 L635.0,749.79 L635.5,749.91 L636.0,750.03 L636.5,750.14 L637.0,750.25 L637.5,750.35 L638.0,750.45 L638.5,750.55 L639.0,750.64 L639.5,750.73 L640.0,750.82 L640.5,750.91 L641.0,750.99 L641.5,751.08 L642.0,751.16 L642.5,751.24 L643.0,751.31 L643.5,751.38 L644.0,751.45 L644.5,751.51 L645.0,751.57 L645.5,751.63 L646.0,751.67 L646.5,751.71 L647.0,751.74 L647.5,751.76 L648.0,751.77 L648.5,751.78 L649.0,751.77 L649.5,751.74 L650.0,751.71 L650.5,751.66 L651.0,751.59 L651.5,751.51 L652.0,751.42 L652.5,751.31 L653.0,751.18 L653.5,751.04 L654.0,750.88 L654.5,750.70 L655.0,750.51 L655.5,750.31 L656.0,750.09 L656.5,749.85 L657.0,749.61 L657.5,749.35 L658.0,749.08 L658.5,748.81 L659.0,748.53 L659.5,748.24 L660.0,747.96 L660.5,747.67 L661.0,747.39 L661.5,747.11 L662.0,746.85 L662.5,746.59 L663.0,746.35 L663.5,746.12 L664.0,745.92 L664.5,745.73 L665.0,745.57 L665.5,745.43 L666.0,745.32 L666.5,745.23 L667.0,745.17 L667.5,745.14 L668.0,745.13 L668.5,745.14 L669.0,745.18 L669.5,745.24 L670.0,745.32 L670.5,745.42 L671.0,745.53 L671.5,745.66 L672.0,745.81 L672.5,745.96 L673.0,746.13 L673.5,746.31 L674.0,746.49 L674.5,746.67 L675.0,746.86 L675.5,747.05 L676.0,747.24 L676.5,747.43 L677.0,747.62 L677.5,747.80 L678.0,747.98 L678.5,748.16 L679.0,748.33 L679.5,748.50 L680.0,748.66 L680.5,748.81 L681.0,748.96 L681.5,749.10 L682.0,749.24 L682.5,749.37 L683.0,749.49 L683.5,749.61 L684.0,749.73 L684.5,749.84 L685.0,749.95 L685.5,750.06 L686.0,750.17 L686.5,750.27 L687.0,750.37 L687.5,750.46 L688.0,750.55 L688.5,750.64 L689.0,750.73 L689.5,750.82 L690.0,750.90 L690.5,750.98 L691.0,751.06 L691.5,751.13 L692.0,751.20 L692.5,751.27 L693.0,751.34 L693.5,751.41 L694.0,751.47 L694.5,751.53 L695.0,751.58 L695.5,751.63 L696.0,751.68 L696.5,751.73 L697.0,751.77 L697.5,751.80 L698.0,751.83 L698.5,751.86 L699.0,751.88 L699.5,751.89 L700.0,751.90 L700.5,751.91 L701.0,751.91 L701.5,751.92 L702.0,751.92 L702.5,751.92 L703.0,751.93 L703.5,751.93 L704.0,751.93 L704.5,751.93 L705.0,751.93 L705.5,751.93 L706.0,751.93 L706.5,751.92 L707.0,751.92 L707.5,751.91 L708.0,751.89 L708.5,751.88 L709.0,751.86 L709.5,751.84 L710.0,751.81 L710.5,751.77 L711.0,751.73 L711.5,751.67 L712.0,751.61 L712.5,751.54 L713.0,751.45 L713.5,751.35 L714.0,751.23 L714.5,751.10 L715.0,750.94 L715.5,750.76 L716.0,750.55 L716.5,750.33 L717.0,750.07 L717.5,749.79 L718.0,749.48 L718.5,749.14 L719.0,748.77 L719.5,748.37 L720.0,747.94 L720.5,747.49 L721.0,747.02 L721.5,746.52 L722.0,746.01 L722.5,745.48 L723.0,744.94 L723.5,744.39 L724.0,743.85 L724.5,743.31 L725.0,742.79 L725.5,742.28 L726.0,741.80 L726.5,741.36 L727.0,740.95 L727.5,740.59 L728.0,740.28 L728.5,740.03 L729.0,739.83 L729.5,739.71 L730.0,739.65 L730.5,739.65 L731.0,739.69 L731.5,739.78 L732.0,739.92 L732.5,740.09 L733.0,740.30 L733.5,740.55 L734.0,740.82 L734.5,741.13 L735.0,741.45 L735.5,741.79 L736.0,742.15 L736.5,742.52 L737.0,742.90 L737.5,743.28 L738.0,743.67 L738.5,744.05 L739.0,744.43 L739.5,744.80 L740.0,745.16 L740.5,745.52 L741.0,745.87 L741.5,746.20 L742.0,746.52 L742.5,746.82 L743.0,747.12 L743.5,747.39 L744.0,747.65 L744.5,747.90 L745.0,748.13 L745.5,748.35 L746.0,748.55 L746.5,748.73 L747.0,748.91 L747.5,749.07 L748.0,749.22 L748.5,749.36 L749.0,749.48 L749.5,749.60 L750.0,749.71 L750.5,749.81 L751.0,749.91 L751.5,750.01 L752.0,750.10 L752.5,750.20 L753.0,750.29 L753.5,750.38 L754.0,750.47 L754.5,750.56 L755.0,750.65 L755.5,750.74 L756.0,750.83 L756.5,750.92 L757.0,751.00 L757.5,751.09 L758.0,751.17 L758.5,751.25 L759.0,751.33 L759.5,751.41 L760.0,751.49 L760.5,751.56 L761.0,751.64 L761.5,751.70 L762.0,751.77 L762.5,751.83 L763.0,751.89 L763.5,751.94 L764.0,751.99 L764.5,752.03 L765.0,752.07 L765.5,752.10 L766.0,752.13 L766.5,752.14 L767.0,752.16 L767.5,752.16 L768.0,752.17 L768.5,752.18 L769.0,752.18 L769.5,752.19 L770.0,752.20 L770.5,752.20 L771.0,752.21 L771.5,752.21 L772.0,752.22 L772.5,752.22 L773.0,752.23 L773.5,752.24 L774.0,752.24 L774.5,752.24 L775.0,752.25 L775.5,752.25 L776.0,752.26 L776.5,752.26 L777.0,752.27 L777.5,752.27 L778.0,752.28 L778.5,752.28 L779.0,752.28 L779.5,752.29 L780.0,752.29 L780.5,752.29 L781.0,752.30 L781.5,752.30 L782.0,752.30 L782.5,752.31 L783.0,752.31 L783.5,752.31 L784.0,752.32 L784.5,752.32 L785.0,752.32 L785.5,752.33 L786.0,752.33 L786.5,752.33 L787.0,752.33 L787.5,752.34 L788.0,752.34 L788.5,752.34 L789.0,752.34 L789.5,752.35 L790.0,752.35 L790.5,752.35 L791.0,752.35 L791.5,752.36 L792.0,752.36 L792.5,752.36 L793.0,752.36 L793.5,752.37 L794.0,752.37 L794.5,752.37 L795.0,752.37 L795.5,752.37 L796.0,752.38 L796.5,752.38 L797.0,752.38 L797.5,752.38 L798.0,752.38 L798.5,752.38 L799.0,752.39 L799.5,752.39 L800.0,752.39 L800.5,752.39 L801.0,752.39 L801.5,752.39 L802.0,752.40 L802.5,752.40 L803.0,752.40 L803.5,752.40 L804.0,752.40 L804.5,752.40 L805.0,752.41 L805.5,752.41 L806.0,752.41 L806.5,752.41 L807.0,752.41 L807.5,752.41 L808.0,752.41 L808.5,752.42 L809.0,752.42 L809.5,752.42 L810.0,752.42 L810.5,752.42 L811.0,752.42 L811.5,752.42 L812.0,752.42 L812.5,752.43 L813.0,752.43 L813.5,752.43 L814.0,752.43 L814.5,752.43 L815.0,752.43 L815.5,752.43 L816.0,752.43 L816.5,752.43 L817.0,752.44 L817.5,752.44 L818.0,752.44 L818.5,752.44 L819.0,752.44 L819.5,752.44 L820.0,752.44 L820.5,752.44 L821.0,752.44 L821.5,752.44 L822.0,752.45 L822.5,752.45 L823.0,752.45 L823.5,752.45 L824.0,752.45 L824.5,752.45 L825.0,752.45 L825.5,752.45 L826.0,752.45 L826.5,752.45 L827.0,752.45 L827.5,752.46 L828.0,752.46 L828.5,752.46 L829.0,752.46 L829.5,752.46 L830.0,752.46 L830.5,752.46 L831.0,752.46 L831.5,752.46 L832.0,752.46 L832.5,752.46 L833.0,752.46 L833.5,752.47 L834.0,752.47 L834.5,752.47 L835.0,752.47 L835.5,752.47 L836.0,752.47 L836.5,752.47 L837.0,752.47 L837.5,752.47 L838.0,752.47 L838.5,752.47 L839.0,752.47 L839.5,752.47 L840.0,752.47 L840.5,752.48 L841.0,752.48 L841.5,752.48 L842.0,752.48 L842.5,752.48 L843.0,752.48 L843.5,752.48 L844.0,752.48 L844.5,752.48 L845.0,752.48 L845.5,752.48 L846.0,752.48 L846.5,752.48 L847.0,752.48 L847.5,752.48 L848.0,752.46 L848.5,752.43 L849.0,752.39 L849.5,752.35 L850.0,752.29 L850.5,752.22 L851.0,752.15 L851.5,752.07 L852.0,751.99 L852.5,751.90 L853.0,751.80 L853.5,751.71 L854.0,751.61 L854.5,751.50 L855.0,751.40 L855.5,751.29 L856.0,751.19 L856.5,751.08 L857.0,750.98 L857.5,750.88 L858.0,750.78 L858.5,750.69 L859.0,750.60 L859.5,750.51 L860.0,750.43 L860.5,750.36 L861.0,750.30 L861.5,750.24 L862.0,750.19 L862.5,750.15 L863.0,750.12 L863.5,750.11 L864.0,750.10 L864.5,750.10 L865.0,750.11 L865.5,750.11 L866.0,750.12 L866.5,750.13 L867.0,750.14 L867.5,750.15 L868.0,750.16 L868.5,750.18 L869.0,750.19 L869.5,750.21 L870.0,750.23 L870.5,750.25 L871.0,750.28 L871.5,750.30 L872.0,750.33 L872.5,750.35 L873.0,750.38 L873.5,750.41 L874.0,750.44 L874.5,750.47 L875.0,750.50 L875.5,750.53 L876.0,750.57 L876.5,750.60 L877.0,750.64 L877.5,750.67 L878.0,750.71 L878.5,750.75 L879.0,750.79 L879.5,750.82 L880.0,750.86 L880.5,750.90 L881.0,750.94 L881.5,750.98 L882.0,751.02 L882.5,751.07 L883.0,751.11 L883.5,751.15 L884.0,751.19 L884.5,751.23 L885.0,751.28 L885.5,751.32 L886.0,751.36 L886.5,751.40 L887.0,751.44 L887.5,751.49 L888.0,751.53 L888.5,751.57 L889.0,751.61 L889.5,751.65 L890.0,751.69 L890.5,751.73 L891.0,751.77 L891.5,751.81 L892.0,751.85 L892.5,751.89 L893.0,751.92 L893.5,751.96 L894.0,752.00 L894.5,752.03 L895.0,752.07 L895.5,752.10 L896.0,752.13 L896.5,752.16 L897.0,752.20 L897.5,752.22 L898.0,752.25 L898.5,752.28 L899.0,752.31 L899.5,752.33 L900.0,752.36 L900.5,752.38 L901.0,752.40 L901.5,752.42 L902.0,752.44 L902.5,752.45 L903.0,752.47 L903.5,752.48 L904.0,752.49 L904.5,752.51 L905.0,752.51 L905.5,752.52 L906.0,752.53 L906.5,752.53 L907.0,752.53 L907.5,752.53 L908.0,752.53 L908.5,752.53 L909.0,752.53 L909.5,752.53 L910.0,752.53 L910.5,752.53 L911.0,752.53 L911.5,752.53 L912.0,752.53 L912.5,752.53 L913.0,752.53 L913.5,752.53 L914.0,752.53 L914.5,752.53 L915.0,752.53 L915.5,752.53 L916.0,752.53 L916.5,752.53 L917.0,752.53 L917.5,752.53 L918.0,752.54 L918.5,752.54 L919.0,752.54 L919.5,752.54 L920.0,752.54 L920.5,752.54 L921.0,752.54 L921.5,752.54 L922.0,752.54 L922.5,752.54 L923.0,752.54 L923.5,752.54 L924.0,752.54 L924.5,752.54 L925.0,752.54 L925.5,752.54 L926.0,752.54 L926.5,752.54 L927.0,752.54 L927.5,752.54 L928.0,752.54 L928.5,752.54 L929.0,752.54 L929.5,752.54 L930.0,752.54 L930.5,752.54 L931.0,752.54 L931.5,752.54 L932.0,752.54 L932.5,752.54 L933.0,752.54 L933.5,752.54 L934.0,752.54 L934.5,752.54 L935.0,752.54 L935.5,752.54 L936.0,752.54 L936.5,752.54 L937.0,752.54 L937.5,752.54 L938.0,752.54 L938.5,752.54 L939.0,752.54 L939.5,752.54 L940.0,752.54 L940.5,752.54 L941.0,752.54 L941.5,752.54 L942.0,752.54 L942.5,752.54 L943.0,752.54 L943.5,752.55 L944.0,752.55 L944.5,752.55 L945.0,752.55 L945.5,752.55 L946.0,752.55 L946.5,752.55 L947.0,752.55 L947.5,752.55 L948.0,752.55 L948.5,752.55 L949.0,752.55 L949.5,752.55 L950.0,752.55 L950.5,752.55 L951.0,752.55 L951.5,752.55 L952.0,752.55 L952.5,752.55 L953.0,752.55 L953.5,752.55 L954.0,752.55 L954.5,752.55 L955.0,752.55 L955.5,752.55 L956.0,752.55 L956.5,752.55 L957.0,752.55 L957.5,752.55 L958.0,752.55 L958.5,752.55 L959.0,752.55 L959.5,752.55 L960.0,752.55 L960.5,752.55 L961.0,752.55 L961.5,752.55 L962.0,752.55 L962.5,752.55 L963.0,752.55 L963.5,752.55 L964.0,752.55 L964.5,752.55 L965.0,752.55 L965.5,752.55 L966.0,752.55 L966.5,752.55 L967.0,752.55 L967.5,752.55 L968.0,752.55 L968.5,752.55 L969.0,752.55 L969.5,752.55 L970.0,752.55 L970.5,752.55 L971.0,752.55 L971.5,752.55 L972.0,752.55 L972.5,752.55 L973.0,752.55 L973.5,752.55 L974.0,752.55 L974.5,752.55 L975.0,752.55 L975.5,752.55 L976.0,752.55 L976.5,752.55 L977.0,752.55 L977.5,752.55 L978.0,752.55 L978.5,752.55 L979.0,752.55 L979.5,752.55 L980.0,752.55 L980.5,752.55 L981.0,752.55 L981.5,752.55 L982.0,752.55 L982.5,752.55 L983.0,752.55 L983.5,752.55 L984.0,752.54 L984.5,752.54 L985.0,752.54 L985.5,752.53 L986.0,752.53 L986.5,752.52 L987.0,752.52 L987.5,752.51 L988.0,752.50 L988.5,752.48 L989.0,752.47 L989.5,752.45 L990.0,752.43 L990.5,752.40 L991.0,752.37 L991.5,752.33 L992.0,752.29 L992.5,752.24 L993.0,752.18 L993.5,752.11 L994.0,752.03 L994.5,751.93 L995.0,751.82 L995.5,751.69 L996.0,751.55 L996.5,751.38 L997.0,751.18 L997.5,750.95 L998.0,750.69 L998.5,750.40 L999.0,750.06 L999.5,749.68 L1000.0,749.24 L1000.5,748.75 L1001.0,748.20 L1001.5,747.58 L1002.0,746.88 L1002.5,746.10 L1003.0,745.22 L1003.5,744.25 L1004.0,743.17 L1004.5,741.97 L1005.0,740.65 L1005.5,739.20 L1006.0,737.60 L1006.5,735.85 L1007.0,733.93 L1007.5,731.84 L1008.0,729.58 L1008.5,727.12 L1009.0,724.47 L1009.5,721.60 L1010.0,718.53 L1010.5,715.24 L1011.0,711.72 L1011.5,707.97 L1012.0,703.99 L1012.5,699.78 L1013.0,695.33 L1013.5,690.65 L1014.0,685.73 L1014.5,680.60 L1015.0,675.25 L1015.5,669.69 L1016.0,663.93 L1016.5,657.99 L1017.0,651.88 L1017.5,645.63 L1018.0,639.25 L1018.5,632.76 L1019.0,626.19 L1019.5,619.56 L1020.0,612.91 L1020.5,606.26 L1021.0,599.64 L1021.5,593.09 L1022.0,586.64 L1022.5,580.33 L1023.0,574.19 L1023.5,568.25 L1024.0,562.54 L1024.5,557.11 L1025.0,551.99 L1025.5,547.20 L1026.0,542.78 L1026.5,538.76 L1027.0,535.15 L1027.5,532.00 L1028.0,529.31 L1028.5,527.10 L1029.0,525.39 L1029.5,524.20 L1030.0,523.52 L1030.5,523.37 L1031.0,523.73 L1031.5,524.60 L1032.0,525.95 L1032.5,527.79 L1033.0,530.07 L1033.5,532.80 L1034.0,535.92 L1034.5,539.42 L1035.0,543.25 L1035.5,547.39 L1036.0,551.80 L1036.5,556.44 L1037.0,561.28 L1037.5,566.29 L1038.0,571.43 L1038.5,576.67 L1039.0,581.99 L1039.5,587.36 L1040.0,592.75 L1040.5,598.14 L1041.0,603.51 L1041.5,608.85 L1042.0,614.14 L1042.5,619.36 L1043.0,624.50 L1043.5,629.55 L1044.0,634.50 L1044.5,639.34 L1045.0,644.07 L1045.5,648.67 L1046.0,653.15 L1046.5,657.49 L1047.0,661.71 L1047.5,665.78 L1048.0,669.72 L1048.5,673.52 L1049.0,677.19 L1049.5,680.71 L1050.0,684.10 L1050.5,687.35 L1051.0,690.46 L1051.5,693.44 L1052.0,696.30 L1052.5,699.02 L1053.0,701.62 L1053.5,704.10 L1054.0,706.46 L1054.5,708.70 L1055.0,710.84 L1055.5,712.87 L1056.0,714.79 L1056.5,716.62 L1057.0,718.35 L1057.5,719.99 L1058.0,721.54 L1058.5,723.01 L1059.0,724.40 L1059.5,725.71 L1060.0,726.96 L1060.5,728.13 L1061.0,729.24 L1061.5,730.29 L1062.0,731.28 L1062.5,732.22 L1063.0,733.11 L1063.5,733.95 L1064.0,734.74 L1064.5,735.49 L1065.0,736.21 L1065.5,736.88 L1066.0,737.52 L1066.5,738.12 L1067.0,738.70 L1067.5,739.24 L1068.0,739.76 L1068.5,740.26 L1069.0,740.73 L1069.5,741.18 L1070.0,741.60 L1070.5,742.01 L1071.0,742.40 L1071.5,742.77 L1072.0,743.13 L1072.5,743.47 L1073.0,743.80 L1073.5,744.11 L1074.0,744.41 L1074.5,744.70 L1075.0,744.98 L1075.5,745.25 L1076.0,745.50 L1076.5,745.75 L1077.0,745.99 L1077.5,746.22 L1078.0,746.45 L1078.5,746.66 L1079.0,746.87 L1079.5,747.07 L1080.0,747.27 L1080.5,747.45 L1081.0,747.64 L1081.5,747.81 L1082.0,747.98 L1082.5,748.15 L1083.0,748.31 L1083.5,748.46 L1084.0,748.62 L1084.5,748.76 L1085.0,748.90 L1085.5,749.04 L1086.0,749.17 L1086.5,749.30 L1087.0,749.43 L1087.5,749.55 L1088.0,749.67 L1088.5,749.78 L1089.0,749.90 L1089.5,750.00 L1090.0,750.11 L1090.5,750.21 L1091.0,750.31 L1091.5,750.41 L1092.0,750.50 L1092.5,750.59 L1093.0,750.68 L1093.5,750.76 L1094.0,750.85 L1094.5,750.93 L1095.0,751.01 L1095.5,751.08 L1096.0,751.16 L1096.5,751.23 L1097.0,751.30 L1097.5,751.37 L1098.0,751.43 L1098.5,751.50 L1099.0,751.56 L1099.5,751.62 L1100.0,751.68 L1100.5,751.73 L1101.0,751.79 L1101.5,751.84 L1102.0,751.87 L1102.5,751.90 L1103.0,751.92 L1103.5,751.92 L1104.0,751.92 L1104.5,751.91 L1105.0,751.89 L1105.5,751.87 L1106.0,751.84 L1106.5,751.80 L1107.0,751.75 L1107.5,751.71 L1108.0,751.65 L1108.5,751.59 L1109.0,751.53 L1109.5,751.47 L1110.0,751.40 L1110.5,751.33 L1111.0,751.26 L1111.5,751.19 L1112.0,751.12 L1112.5,751.05 L1113.0,750.98 L1113.5,750.91 L1114.0,750.85 L1114.5,750.78 L1115.0,750.72 L1115.5,750.66 L1116.0,750.61 L1116.5,750.56 L1117.0,750.51 L1117.5,750.47 L1118.0,750.44 L1118.5,750.41 L1119.0,750.39 L1119.5,750.38 L1120.0,750.37 L1120.5,750.38 L1121.0,750.39 L1121.5,750.41 L1122.0,750.43 L1122.5,750.45 L1123.0,750.48 L1123.5,750.51 L1124.0,750.54 L1124.5,750.57 L1125.0,750.61 L1125.5,750.65 L1126.0,750.69 L1126.5,750.73 L1127.0,750.77 L1127.5,750.81 L1128.0,750.86 L1128.5,750.91 L1129.0,750.95 L1129.5,751.00 L1130.0,751.05 L1130.5,751.10 L1131.0,751.15 L1131.5,751.21 L1132.0,751.26 L1132.5,751.31 L1133.0,751.36 L1133.5,751.42 L1134.0,751.47 L1134.5,751.52 L1135.0,751.57 L1135.5,751.63 L1136.0,751.68 L1136.5,751.73 L1137.0,751.78 L1137.5,751.83 L1138.0,751.88 L1138.5,751.92 L1139.0,751.97 L1139.5,752.02 L1140.0,752.06 L1140.5,752.10 L1141.0,752.14 L1141.5,752.18 L1142.0,752.22 L1142.5,752.25 L1143.0,752.29 L1143.5,752.32 L1144.0,752.34 L1144.5,752.37 L1145.0,752.39 L1145.5,752.41 L1146.0,752.43 L1146.5,752.45 L1147.0,752.46 L1147.5,752.47 L1148.0,752.47 L1148.5,752.47 L1149.0,752.47 L1149.5,752.47 L1150.0,752.46 L1150.5,752.45 L1151.0,752.43 L1151.5,752.42 L1152.0,752.40 L1152.5,752.37 L1153.0,752.35 L1153.5,752.32 L1154.0,752.29 L1154.5,752.26 L1155.0,752.23 L1155.5,752.19 L1156.0,752.16 L1156.5,752.12 L1157.0,752.08 L1157.5,752.04 L1158.0,752.00 L1158.5,751.96 L1159.0,751.91 L1159.5,751.87 L1160.0,751.82 L1160.5,751.78 L1161.0,751.73 L1161.5,751.69 L1162.0,751.64 L1162.5,751.60 L1163.0,751.55 L1163.5,751.51 L1164.0,751.46 L1164.5,751.42 L1165.0,751.37 L1165.5,751.33 L1166.0,751.29 L1166.5,751.25 L1167.0,751.21 L1167.5,751.17 L1168.0,751.14 L1168.5,751.10 L1169.0,751.07 L1169.5,751.04 L1170.0,751.01 L1170.5,750.98 L1171.0,750.96 L1171.5,750.94 L1172.0,750.92 L1172.5,750.90 L1173.0,750.89 L1173.5,750.88 L1174.0,750.87 L1174.5,750.87 L1175.0,750.87 L1175.5,750.87 L1176.0,750.87 L1176.5,750.88 L1177.0,750.88 L1177.5,750.89 L1178.0,750.90 L1178.5,750.91 L1179.0,750.93 L1179.5,750.94 L1180.0,750.96 L1180.5,750.97 L1181.0,750.99 L1181.5,751.01 L1182.0,751.04 L1182.5,751.06 L1183.0,751.08 L1183.5,751.11 L1184.0,751.14 L1184.5,751.16 L1185.0,751.19 L1185.5,751.22 L1186.0,751.25 L1186.5,751.29 L1187.0,751.32 L1187.5,751.35 L1188.0,751.39 L1188.5,751.42 L1189.0,751.46 L1189.5,751.50 L1190.0,751.53 L1190.5,751.57 L1191.0,751.61 L1191.5,751.65 L1192.0,751.69 L1192.5,751.73 L1193.0,751.77 L1193.5,751.81 L1194.0,751.86 L1194.5,751.90 L1195.0,751.94 L1195.5,751.98 L1196.0,752.03 L1196.5,752.07 L1197.0,752.11 L1197.5,752.16 L1198.0,752.20 L1198.5,752.24 L1199.0,752.29 L1199.5,752.33 L1200.0,752.37 L1200.5,752.42 L1201.0,752.46 L1201.5,752.50 L1202.0,752.54 L1202.5,752.59 L1203.0,752.63 L1203.5,752.67 L1204.0,752.71 L1204.5,752.75 L1205.0,752.79 L1205.5,752.83 L1206.0,752.87 L1206.5,752.91 L1207.0,752.95 L1207.5,752.98 L1208.0,753.02 L1208.5,753.06 L1209.0,753.09 L1209.5,753.13 L1210.0,753.16 L1210.5,753.19 L1211.0,753.22 L1211.5,753.25 L1212.0,753.28 L1212.5,753.31 L1213.0,753.34 L1213.5,753.36 L1214.0,753.39 L1214.5,753.41 L1215.0,753.43 L1215.5,753.45 L1216.0,753.47 L1216.5,753.49 L1217.0,753.51 L1217.5,753.52 L1218.0,753.54 L1218.5,753.55 L1219.0,753.56 L1219.5,753.57 L1220.0,753.57 L1220.5,753.58 L1221.0,753.58 L1221.5,753.58 L1222.0,753.58 L1222.5,753.58 L1223.0,753.58 L1223.5,753.58 L1224.0,753.58 L1224.5,753.58 L1225.0,753.58 L1225.5,753.58 L1226.0,753.58 L1226.5,753.58 L1227.0,753.58 L1227.5,753.58 L1228.0,753.58 L1228.5,753.58 L1229.0,753.58 L1229.5,753.58 L1230.0,753.58 L1230.5,753.58 L1231.0,753.58 L1231.5,753.58 L1232.0,753.58 L1232.5,753.58 L1233.0,753.58 L1233.5,753.58 L1234.0,753.58 L1234.5,753.58 L1235.0,753.58 L1235.5,753.58 L1236.0,753.58 L1236.5,753.58 L1237.0,753.58 L1237.5,753.58 L1238.0,753.58 L1238.5,753.58 L1239.0,753.58 L1239.5,753.58 L1240.0,753.58 L1240.5,753.58 L1241.0,753.58 L1241.5,753.58 L1242.0,753.58 L1242.5,753.58 L1243.0,753.58 L1243.5,753.58 L1244.0,753.59 L1244.5,753.59 L1245.0,753.59 L1245.5,753.59 L1246.0,753.59 L1246.5,753.59 L1247.0,753.59 L1247.5,753.59 L1248.0,753.59 L1248.5,753.59 L1249.0,753.59 L1249.5,753.59 L1250.0,753.59 L1250.5,753.59 L1251.0,753.59 L1251.5,753.59 L1252.0,753.59 L1252.5,753.59 L1253.0,753.59 L1253.5,753.59 L1254.0,753.59 L1254.5,753.59 L1255.0,753.59 L1255.5,753.58 L1256.0,753.58 L1256.5,753.57 L1257.0,753.55 L1257.5,753.54 L1258.0,753.52 L1258.5,753.49 L1259.0,753.47 L1259.5,753.44 L1260.0,753.41 L1260.5,753.37 L1261.0,753.33 L1261.5,753.29 L1262.0,753.25 L1262.5,753.21 L1263.0,753.16 L1263.5,753.12 L1264.0,753.07 L1264.5,753.02 L1265.0,752.97 L1265.5,752.91 L1266.0,752.86 L1266.5,752.81 L1267.0,752.75 L1267.5,752.70 L1268.0,752.64 L1268.5,752.59 L1269.0,752.53 L1269.5,752.48 L1270.0,752.42 L1270.5,752.37 L1271.0,752.31 L1271.5,752.26 L1272.0,752.21 L1272.5,752.15 L1273.0,752.10 L1273.5,752.06 L1274.0,752.01 L1274.5,751.96 L1275.0,751.92 L1275.5,751.88 L1276.0,751.84 L1276.5,751.80 L1277.0,751.77 L1277.5,751.73 L1278.0,751.71 L1278.5,751.68 L1279.0,751.66 L1279.5,751.63 L1280.0,751.62 L1280.5,751.60 L1281.0,751.59 L1281.5,751.59 L1282.0,751.59 L1282.5,751.59 L1283.0,751.59 L1283.5,751.60 L1284.0,751.62 L1284.5,751.63 L1285.0,751.65 L1285.5,751.68 L1286.0,751.70 L1286.5,751.73 L1287.0,751.76 L1287.5,751.79 L1288.0,751.83 L1288.5,751.87 L1289.0,751.91 L1289.5,751.95 L1290.0,751.99 L1290.5,752.04 L1291.0,752.09 L1291.5,752.14 L1292.0,752.19 L1292.5,752.24 L1293.0,752.29 L1293.5,752.34 L1294.0,752.39 L1294.5,752.45 L1295.0,752.50 L1295.5,752.56 L1296.0,752.61 L1296.5,752.66 L1297.0,752.72 L1297.5,752.77 L1298.0,752.83 L1298.5,752.88 L1299.0,752.93 L1299.5,752.98 L1300.0,753.03 L1300.5,753.08 L1301.0,753.13 L1301.5,753.17 L1302.0,753.22 L1302.5,753.26 L1303.0,753.30 L1303.5,753.34 L1304.0,753.38 L1304.5,753.41 L1305.0,753.44 L1305.5,753.47 L1306.0,753.50 L1306.5,753.52 L1307.0,753.54 L1307.5,753.56 L1308.0,753.57 L1308.5,753.58 L1309.0,753.59 L1309.5,753.60 L1310.0,753.61 L1310.5,753.61 L1311.0,753.62 L1311.5,753.63 L1312.0,753.63 L1312.5,753.64 L1313.0,753.65 L1313.5,753.65 L1314.0,753.66 L1314.5,753.67 L1315.0,753.67 L1315.5,753.68 L1316.0,753.69 L1316.5,753.69 L1317.0,753.70 L1317.5,753.70 L1318.0,753.71 L1318.5,753.72 L1319.0,753.72 L1319.5,753.73 L1320.0,753.73 L1320.5,753.74 L1321.0,753.74 L1321.5,753.75 L1322.0,753.76 L1322.5,753.76 L1323.0,753.77 L1323.5,753.77 L1324.0,753.78 L1324.5,753.78 L1325.0,753.79 L1325.5,753.79 L1326.0,753.80 L1326.5,753.80 L1327.0,753.81 L1327.5,753.81 L1328.0,753.82 L1328.5,753.82 L1329.0,753.83 L1329.5,753.83 L1330.0,753.84 L1330.5,753.84 L1331.0,753.85 L1331.5,753.85 L1332.0,753.85 L1332.5,753.86 L1333.0,753.86 L1333.5,753.87 L1334.0,753.87 L1334.5,753.88 L1335.0,753.88 L1335.5,753.88 L1336.0,753.89 L1336.5,753.89 L1337.0,753.90 L1337.5,753.90 L1338.0,753.90 L1338.5,753.91 L1339.0,753.91 L1339.5,753.92 L1340.0,753.92 L1340.5,753.92 L1341.0,753.93 L1341.5,753.93 L1342.0,753.93 L1342.5,753.94 L1343.0,753.94 L1343.5,753.94 L1344.0,753.95 L1344.5,753.95 L1345.0,753.95 L1345.5,753.96 L1346.0,753.96 L1346.5,753.96 L1347.0,753.97 L1347.5,753.97 L1348.0,753.97 L1348.5,753.98 L1349.0,753.98 L1349.5,753.98 L1350.0,753.99 L1350.5,753.99 L1351.0,753.99 L1351.5,754.00 L1352.0,754.00 L1352.5,754.00 L1353.0,754.00 L1353.5,754.01 L1354.0,754.01 L1354.5,754.01 L1355.0,754.01 L1355.5,754.02 L1356.0,754.02 L1356.5,754.02 L1357.0,754.03 L1357.5,754.03 L1358.0,754.03 L1358.5,754.03 L1359.0,754.04 L1359.5,754.04 L1360.0,754.04 L1360.5,754.04 L1361.0,754.05 L1361.5,754.05 L1362.0,754.05 L1362.5,754.05 L1363.0,754.05 L1363.5,754.06 L1364.0,754.06 L1364.5,754.06 L1365.0,754.06 L1365.5,754.07 L1366.0,754.07 L1366.5,754.07 L1367.0,754.07 L1367.5,754.07 L1368.0,754.08 L1368.5,754.08 L1369.0,754.08 L1369.5,754.08 L1370.0,754.08 L1370.5,754.09 L1371.0,754.09 L1371.5,754.09 L1372.0,754.09 L1372.5,754.09 L1373.0,754.10 L1373.5,754.10 L1374.0,754.10 L1374.5,754.10 L1375.0,754.10 L1375.5,754.11 L1376.0,754.11 L1376.5,754.11 L1377.0,754.11 L1377.5,754.11 L1378.0,754.11 L1378.5,754.12 L1379.0,754.12 L1379.5,754.12 L1380.0,754.12 L1380.5,754.12 L1381.0,754.13 L1381.5,754.13 L1382.0,754.13 L1382.5,754.13 L1383.0,754.13 L1383.5,754.13 L1384.0,754.14 L1384.5,754.14 L1385.0,754.14 L1385.5,754.14 L1386.0,754.14 L1386.5,754.14 L1387.0,754.15 L1387.5,754.15 L1388.0,754.15 L1388.5,754.15 L1389.0,754.15 L1389.5,754.15 L1390.0,754.16 L1390.5,754.16 L1391.0,754.16 L1391.5,754.16 L1392.0,754.16 L1392.5,754.16 L1393.0,754.17 L1393.5,754.17 L1394.0,754.17 L1394.5,754.17 L1395.0,754.17 L1395.5,754.17 L1396.0,754.18 L1396.5,754.18 L1397.0,754.18 L1397.5,754.18 L1398.0,754.18 L1398.5,754.19 L1399.0,754.19 L1399.5,754.19 L1400.0,754.19 L1400.5,754.19 L1401.0,754.19 L1401.5,754.20 L1402.0,754.20 L1402.5,754.20 L1403.0,754.20 L1403.5,754.20 L1404.0,754.20 L1404.5,754.21 L1405.0,754.21 L1405.5,754.21 L1406.0,754.21 L1406.5,754.21 L1407.0,754.22 L1407.5,754.22 L1408.0,754.22 L1408.5,754.22 L1409.0,754.22 L1409.5,754.22 L1410.0,754.23 L1410.5,754.23 L1411.0,754.23 L1411.5,754.23 L1412.0,754.23 L1412.5,754.24 L1413.0,754.24 L1413.5,754.24 L1414.0,754.24 L1414.5,754.24 L1415.0,754.24 L1415.5,754.25 L1416.0,754.25 L1416.5,754.25 L1417.0,754.25 L1417.5,754.25 L1418.0,754.25 L1418.5,754.26 L1419.0,754.26 L1419.5,754.26 L1420.0,754.26 L1420.5,754.26 L1421.0,754.27 L1421.5,754.27 L1422.0,754.27 L1422.5,754.27 L1423.0,754.27 L1423.5,754.27 L1424.0,754.28 L1424.5,754.28 L1425.0,754.28 L1425.5,754.28 L1426.0,754.28 L1426.5,754.28 L1427.0,754.29 L1427.5,754.29 L1428.0,754.29 L1428.5,754.29 L1429.0,754.29 L1429.5,754.29 L1430.0,754.30 L1430.5,754.30 L1431.0,754.30 L1431.5,754.30 L1432.0,754.30 L1432.5,754.30 L1433.0,754.30 L1433.5,754.31 L1434.0,754.31 L1434.5,754.31 L1435.0,754.31 L1435.5,754.31 L1436.0,754.31 L1436.5,754.32 L1437.0,754.32 L1437.5,754.32 L1438.0,754.32 L1438.5,754.32 L1439.0,754.32 L1439.5,754.32 L1440.0,754.33 L1440.5,754.33 L1441.0,754.33 L1441.5,754.33 L1442.0,754.33 L1442.5,754.33 L1443.0,754.33 L1443.5,754.34 L1444.0,754.34 L1444.5,754.34 L1445.0,754.34 L1445.5,754.34 L1446.0,754.34 L1446.5,754.34 L1447.0,754.34 L1447.5,754.35 L1448.0,754.35 L1448.5,754.35 L1449.0,754.35 L1449.5,754.35 L1450.0,754.35 L1450.5,754.35 L1451.0,754.35 L1451.5,754.36 L1452.0,754.36 L1452.5,754.36 L1453.0,754.36 L1453.5,754.36 L1454.0,754.36 L1454.5,754.36 L1455.0,754.36 L1455.5,754.36 L1456.0,754.37 L1456.5,754.37 L1457.0,754.37 L1457.5,754.37 L1458.0,754.37 L1458.5,754.37 L1459.0,754.37 L1459.5,754.37 L1460.0,754.37 L1460.5,754.37 L1461.0,754.37 L1461.5,754.38 L1462.0,754.38 L1462.5,754.38 L1463.0,754.38 L1463.5,754.38 L1464.0,754.38 L1464.5,754.38 L1465.0,754.38 L1465.5,754.38 L1466.0,754.38 L1466.5,754.38 L1467.0,754.38 L1467.5,754.38 L1468.0,754.38 L1468.5,754.38 L1469.0,754.39 L1469.5,754.39 L1470.0,754.39 L1470.5,754.39 L1471.0,754.39 L1471.5,754.39 L1472.0,754.39 L1472.5,754.39 L1473.0,754.39 L1473.5,754.39 L1474.0,754.39 L1474.5,754.39 L1475.0,754.39 L1475.5,754.39 L1476.0,754.39 L1476.5,754.39 L1477.0,754.39 L1477.5,754.39 L1478.0,754.39 L1478.5,754.39 L1479.0,754.39 L1479.5,754.39 L1480.0,754.39 L1480.5,754.39 L1481.0,754.39 L1481.5,754.38 L1482.0,754.35 L1482.5,754.30 L1483.0,754.24 L1483.5,754.16 L1484.0,754.07 L1484.5,753.96 L1485.0,753.85 L1485.5,753.73 L1486.0,753.60 L1486.5,753.47 L1487.0,753.33 L1487.5,753.19 L1488.0,753.05 L1488.5,752.92 L1489.0,752.78 L1489.5,752.66 L1490.0,752.53 L1490.5,752.42 L1491.0,752.32 L1491.5,752.22 L1492.0,752.15 L1492.5,752.08 L1493.0,752.03 L1493.5,752.00 L1494.0,751.99 L1494.5,751.99 L1495.0,751.99 L1495.5,751.99 L1496.0,751.99 L1496.5,751.99 L1497.0,751.99 L1497.5,751.99 L1498.0,751.99 L1498.5,751.99 L1499.0,751.99 L1499.5,751.99 L1500.0,751.99 L1500.5,751.99 L1501.0,751.99 L1501.5,751.99 L1502.0,751.99 L1502.5,751.99 L1503.0,751.99 L1503.5,751.99 L1504.0,751.99 L1504.5,751.99 L1505.0,751.99 L1505.5,751.99 L1506.0,751.99 L1506.5,751.99 L1507.0,751.99 L1507.5,751.99 L1508.0,751.99 L1508.5,751.99 L1509.0,751.99 L1509.5,751.99 L1510.0,751.99 L1510.5,751.99 L1511.0,751.99 L1511.5,751.99 L1512.0,751.99 L1512.5,751.99 L1513.0,751.99 L1513.5,751.99 L1514.0,751.99 L1514.5,751.99 L1515.0,751.99 L1515.5,751.99 L1516.0,751.99 L1516.5,751.99 L1517.0,751.99 L1517.5,751.99 L1518.0,751.99 L1518.5,751.99 L1519.0,751.99 L1519.5,751.99 L1520.0,751.99 L1520.5,751.99 L1521.0,751.99 L1521.5,751.99 L1522.0,751.99 L1522.5,751.99 L1523.0,751.99 L1523.5,751.99 L1524.0,751.99 L1524.5,751.99 L1525.0,751.99 L1525.5,751.99 L1526.0,751.99 L1526.5,751.99 L1527.0,751.99 L1527.5,751.99 L1528.0,751.99 L1528.5,751.99 L1529.0,751.99 L1529.5,751.99 L1530.0,751.99 L1530.5,751.99 L1531.0,751.99 L1531.5,752.01 L1532.0,752.06 L1532.5,752.14 L1533.0,752.24 L1533.5,752.37 L1534.0,752.51 L1534.5,752.67 L1535.0,752.84 L1535.5,753.01 L1536.0,753.19 L1536.5,753.37 L1537.0,753.55 L1537.5,753.72 L1538.0,753.87 L1538.5,754.02 L1539.0,754.14 L1539.5,754.25 L1540.0,754.33 L1540.5,754.38 L1541.0,754.39 L1541.5,754.39 L1542.0,754.39 L1542.5,754.39 L1543.0,754.39 L1543.5,754.39 L1544.0,754.39 L1544.5,754.39 L1545.0,754.39 L1545.5,754.39 L1546.0,754.39 L1546.5,754.39 L1547.0,754.39 L1547.5,754.39 L1548.0,754.39 L1548.5,754.39 L1549.0,754.39 L1549.5,754.39 L1550.0,754.39 L1550.5,754.39 L1551.0,754.39 L1551.5,754.39 L1552.0,754.39 L1552.5,754.39 L1553.0,754.39 L1553.5,754.39 L1554.0,754.39 L1554.5,754.39 L1555.0,754.39 L1555.5,754.39 L1556.0,754.39 L1556.5,754.39 L1557.0,754.39 L1557.5,754.39 L1558.0,754.39 L1558.5,754.39 L1559.0,754.39 L1559.5,754.39 L1560.0,754.39 L1560.5,754.39 L1561.0,754.39 L1561.5,754.39 L1562.0,754.39 L1562.5,754.39 L1563.0,754.39 L1563.5,754.39 L1564.0,754.39 L1564.5,754.39 L1565.0,754.39 L1565.5,754.39 L1566.0,754.39 L1566.5,754.39 L1567.0,754.39 L1567.5,754.39 L1568.0,754.39 L1568.5,754.39 L1569.0,754.39 L1569.5,754.39 L1570.0,754.39 L1570.5,754.39 L1571.0,754.39 L1571.5,754.39 L1572.0,754.39 L1572.5,754.39 L1573.0,754.39 L1573.5,754.39 L1574.0,754.39 L1574.5,754.39 L1575.0,754.39 L1575.5,754.39 L1576.0,754.39 L1576.5,754.39 L1577.0,754.39 L1577.5,754.39 L1578.0,754.39 L1578.5,754.39 L1579.0,754.39 L1579.5,754.39 L1580.0,754.39 L1580.5,754.39 L1581.0,754.39 L1581.5,754.39 L1582.0,754.39 L1582.5,754.39 L1583.0,754.39 L1583.5,754.39 L1584.0,754.39 L1584.5,754.39 L1585.0,754.39 L1585.5,754.39 L1586.0,754.39 L1586.5,754.39 L1587.0,754.39 L1587.5,754.39 L1588.0,754.39 L1588.5,754.39 L1589.0,754.39 L1589.5,754.39 L1590.0,754.39 L1590.5,754.39 L1591.0,754.39 L1591.5,754.39 L1592.0,754.39 L1592.5,754.39 L1593.0,754.39 L1593.5,754.39 L1594.0,754.39 L1594.5,754.39 L1595.0,754.39 L1595.5,754.39 L1596.0,754.39 L1596.5,754.39 L1597.0,754.39 L1597.5,754.39 L1598.0,754.39 L1598.5,754.39 L1599.0,754.39 L1599.5,754.39 L1600.0,754.39 L1600.5,754.39 L1601.0,754.39 L1601.5,754.39 L1602.0,754.39 L1602.5,754.39 L1603.0,754.39 L1603.5,754.39 L1604.0,754.39 L1604.5,754.39 L1605.0,754.39 L1605.5,754.39 L1606.0,754.39 L1606.5,754.39 L1607.0,754.39 L1607.5,754.39 L1608.0,754.39 L1608.5,754.39 L1609.0,754.39 L1609.5,754.39 L1610.0,754.39 L1610.5,754.39 L1611.0,754.39 L1611.5,754.39 L1612.0,754.39 L1612.5,754.39 L1613.0,754.39 L1613.5,754.39 L1614.0,754.39 L1614.5,754.39 L1615.0,754.39 L1615.5,754.39 L1616.0,754.39 L1616.5,754.39 L1617.0,754.39 L1617.5,754.39 L1618.0,754.39 L1618.5,754.39 L1619.0,754.39 L1619.5,754.39 L1620.0,754.39 L1620.5,754.39 L1621.0,754.39 L1621.5,754.39 L1622.0,754.39 L1622.5,754.39 L1623.0,754.39 L1623.5,754.39 L1624.0,754.39 L1624.5,754.39 L1625.0,754.39 L1625.5,754.39 L1626.0,754.39 L1626.5,754.39 L1627.0,754.39 L1627.5,754.39 L1628.0,754.39 L1628.5,754.39 L1629.0,754.39 L1629.5,754.39 L1630.0,754.39 L1630.5,754.39 L1631.0,754.39 L1631.5,754.39 L1632.0,754.39 L1632.5,754.39 L1633.0,754.39 L1633.5,754.39 L1634.0,754.39 L1634.5,754.39 L1635.0,754.39 L1635.5,754.39 L1636.0,754.39 L1636.5,754.39 L1637.0,754.39 L1637.5,754.39 L1638.0,754.39 L1638.5,754.39 L1639.0,754.39 L1639.5,754.39 L1640.0,754.39 L1640.5,754.39 L1641.0,754.39 L1641.5,754.39 L1642.0,754.39 L1642.5,754.39 L1643.0,754.39 L1643.5,754.39 L1644.0,754.39 L1644.5,754.39 L1645.0,754.39 L1645.5,754.39 L1646.0,754.39 L1646.5,754.39 L1647.0,754.39 L1647.5,754.39 L1648.0,754.39 L1648.5,754.39 L1649.0,754.39 L1649.5,754.39 L1650.0,754.39 L1650.5,754.39 L1651.0,754.39 L1651.5,754.39 L1652.0,754.39 L1652.5,754.39 L1653.0,754.39 L1653.5,754.39 L1654.0,754.39 L1654.5,754.39 L1655.0,754.39 L1655.5,754.39 L1656.0,754.39 L1656.5,754.39 L1657.0,754.39 L1657.5,754.39 L1658.0,754.39 L1658.5,754.39 L1659.0,754.39 L1659.5,754.39 L1660.0,754.39 L1660.5,754.39 L1661.0,754.39 L1661.5,754.39 L1662.0,754.39 L1662.5,754.39 L1663.0,754.39 L1663.5,754.39 L1664.0,754.39 L1664.5,754.39 L1665.0,754.39 L1665.5,754.39 L1666.0,754.39 L1666.5,754.39 L1667.0,754.39 L1667.5,754.39 L1668.0,754.39 L1668.5,754.39 L1669.0,754.39 L1669.5,754.39 L1670.0,754.39 L1670.5,754.39 L1671.0,754.39 L1671.5,754.39 L1672.0,754.39 L1672.5,754.39 L1673.0,754.39 L1673.5,754.39 L1674.0,754.39 L1674.5,754.39 L1675.0,754.39 L1675.5,754.39 L1676.0,754.39 L1676.5,754.39 L1677.0,754.39 L1677.5,754.39 L1678.0,754.39 L1678.5,754.39 L1679.0,754.39 L1679.5,754.39 L1680.0,754.39 L1680.5,754.39 L1681.0,754.39 L1681.5,754.39 L1682.0,754.39 L1682.5,754.39 L1683.0,754.39 L1683.5,754.39 L1684.0,754.39 L1684.5,754.39 L1685.0,754.39 L1685.5,754.39 L1686.0,754.39 L1686.5,754.39 L1687.0,754.39 L1687.5,754.39 L1688.0,754.39 L1688.5,754.39 L1689.0,754.39 L1689.5,754.39 L1690.0,754.39 L1690.5,754.39 L1691.0,754.39 L1691.5,754.39 L1692.0,754.39 L1692.5,754.39 L1693.0,754.39 L1693.5,754.39 L1694.0,754.39 L1694.5,754.39 L1695.0,754.39 L1695.5,754.39 L1696.0,754.39 L1696.5,754.39 L1697.0,754.39 L1697.5,754.39 L1698.0,754.39 L1698.5,754.39 L1699.0,754.39 L1699.5,754.39 L1700.0,754.39 L1700.5,754.39 L1701.0,754.39 L1701.5,754.39 L1702.0,754.39 L1702.5,754.39 L1703.0,754.39 L1703.5,754.39 L1704.0,754.39 L1704.5,754.39 L1705.0,754.39 L1705.5,754.39 L1706.0,754.39 L1706.5,754.39 L1707.0,754.39 L1707.5,754.39 L1708.0,754.39 L1708.5,754.39 L1709.0,754.39 L1709.5,754.39 L1710.0,754.39 L1710.5,754.39 L1711.0,754.39 L1711.5,754.40 L1712.0,754.40 L1712.5,754.40 L1713.0,754.40 L1713.5,754.40 L1714.0,754.40 L1714.5,754.40 L1715.0,754.40 L1715.5,754.40 L1716.0,754.40 L1716.5,754.40 L1717.0,754.40 L1717.5,754.40 L1718.0,754.40 L1718.5,754.40 L1719.0,754.40 L1719.5,754.40 L1720.0,754.40 L1720.5,754.40 L1721.0,754.40 L1721.5,754.40 L1722.0,754.40 L1722.5,754.40 L1723.0,754.40 L1723.5,754.40 L1724.0,754.40 L1724.5,754.40 L1725.0,754.40 L1725.5,754.40 L1726.0,754.40 L1726.5,754.40 L1727.0,754.40 L1727.5,754.40 L1728.0,754.40 L1728.5,754.40 L1729.0,754.40 L1729.5,754.40 L1730.0,754.40 L1730.5,754.40 L1731.0,754.40 L1731.5,754.40 L1732.0,754.40 L1732.5,754.40 L1733.0,754.40 L1733.5,754.40 L1734.0,754.40 L1734.5,754.40 L1735.0,754.40 L1735.5,754.40 L1736.0,754.40 L1736.5,754.40 L1737.0,754.40 L1737.5,754.40 L1738.0,754.40 L1738.5,754.40 L1739.0,754.40 L1739.5,754.40 L1740.0,754.40 L1740.5,754.40 L1741.0,754.40 L1741.5,754.40 L1742.0,754.40 L1742.5,754.40 L1743.0,754.40 L1743.5,754.40 L1744.0,754.40 L1744.5,754.40 L1745.0,754.40 L1745.5,754.40 L1746.0,754.40 L1746.5,754.40 L1747.0,754.40 L1747.5,754.40 L1748.0,754.40 L1748.5,754.40 L1749.0,754.40 L1749.5,754.40 L1750.0,754.40 L1750.5,754.40 L1751.0,754.40 L1751.5,754.40 L1752.0,754.40 L1752.5,754.40 L1753.0,754.40 L1753.5,754.40 L1754.0,754.40 L1754.5,754.40 L1755.0,754.40 L1755.5,754.40 L1756.0,754.40 L1756.5,754.40 L1757.0,754.40 L1757.5,754.40 L1758.0,754.40 L1758.5,754.40 L1759.0,754.40 L1759.5,754.40 L1760.0,754.40 L1760.5,754.40 L1761.0,754.40 L1761.5,754.40 L1762.0,754.40 L1762.5,754.40 L1763.0,754.40 L1763.5,754.40 L1764.0,754.40 L1764.5,754.40 L1765.0,754.40 L1765.5,754.40 L1766.0,754.40 L1766.5,754.40 L1767.0,754.40 L1767.5,754.40 L1768.0,754.40 L1768.5,754.40 L1769.0,754.40 L1769.5,754.40 L1770.0,754.40 L1770.5,754.40 L1771.0,754.40 L1771.5,754.40 L1772.0,754.40 L1772.5,754.40 L1773.0,754.40 L1773.5,754.40 L1774.0,754.40 L1774.5,754.40 L1775.0,754.40 L1775.5,754.40 L1776.0,754.40 L1776.5,754.40 L1777.0,754.40 L1777.5,754.40 L1778.0,754.40 L1778.5,754.40 L1779.0,754.40 L1779.5,754.40 L1780.0,754.40 L1780.5,754.40 L1781.0,754.40 L1781.5,754.40 L1782.0,754.40 L1782.5,754.40 L1783.0,754.40 L1783.5,754.40 L1784.0,754.40 L1784.5,754.40 L1785.0,754.40 L1785.5,754.40 L1786.0,754.40 L1786.5,754.40 L1787.0,754.40 L1787.5,754.40 L1788.0,754.40 L1788.5,754.40 L1789.0,754.40 L1789.5,754.40 L1790.0,754.40 L1790.5,754.40 L1791.0,754.40 L1791.5,754.40 L1792.0,754.40 L1792.5,754.40 L1793.0,754.40 L1793.5,754.40 L1794.0,754.40 L1794.5,754.40 L1795.0,754.40 L1795.5,754.40 L1796.0,754.40 L1796.5,754.40 L1797.0,754.40 L1797.5,754.40 L1798.0,754.40 L1798.5,754.40 L1799.0,754.40 L1799.5,754.40 L1800.0,754.40 L1800.5,754.40 L1801.0,754.40 L1801.5,754.40 L1802.0,754.40 L1802.5,754.40 L1803.0,754.40 L1803.5,754.40 L1804.0,754.40 L1804.5,754.40 L1805.0,754.40 L1805.5,754.40 L1806.0,754.40 L1806.5,754.40 L1807.0,754.40 L1807.5,754.40 L1808.0,754.40 L1808.5,754.40 L1809.0,754.40 L1809.5,754.40 L1810.0,754.40 L1810.5,754.40 L1811.0,754.40 L1811.5,754.40 L1812.0,754.40 L1812.5,754.40 L1813.0,754.40 L1813.5,754.40 L1814.0,754.40 L1814.5,754.40 L1815.0,754.40 L1815.5,754.40 L1816.0,754.40 L1816.5,754.40 L1817.0,754.40 L1817.5,754.40 L1818.0,754.40 L1818.5,754.40 L1819.0,754.40 L1819.5,754.40 L1820.0,754.40 L1820.5,754.40 L1821.0,754.40 L1821.5,754.40 L1822.0,754.40 L1822.5,754.40 L1823.0,754.40 L1823.5,754.40 L1824.0,754.40 L1824.5,754.40 L1825.0,754.40 L1825.5,754.40 L1826.0,754.40 L1826.5,754.40 L1827.0,754.40 L1827.5,754.39 L1828.0,754.39 L1828.5,754.39 L1829.0,754.39 L1829.5,754.39 L1830.0,754.39 L1830.5,754.39 L1831.0,754.39 L1831.5,754.39 L1832.0,754.39 L1832.5,754.39 L1833.0,754.39 L1833.5,754.39 L1834.0,754.39 L1834.5,754.39 L1835.0,754.39 L1835.5,754.39 L1836.0,754.39 L1836.5,754.39 L1837.0,754.39 L1837.5,754.39 L1838.0,754.39 L1838.5,754.39 L1839.0,754.39 L1839.5,754.38 L1840.0,754.38 L1840.5,754.38 L1841.0,754.38 L1841.5,754.38 L1842.0,754.38 L1842.5,754.38 L1843.0,754.37 L1843.5,754.37 L1844.0,754.37 L1844.5,754.37 L1845.0,754.36 L1845.5,754.36 L1846.0,754.36 L1846.5,754.35 L1847.0,754.35 L1847.5,754.35 L1848.0,754.34 L1848.5,754.34 L1849.0,754.33 L1849.5,754.32 L1850.0,754.32 L1850.5,754.31 L1851.0,754.31 L1851.5,754.30 L1852.0,754.29 L1852.5,754.28 L1853.0,754.27 L1853.5,754.26 L1854.0,754.25 L1854.5,754.24 L1855.0,754.23 L1855.5,754.21 L1856.0,754.20 L1856.5,754.18 L1857.0,754.17 L1857.5,754.15 L1858.0,754.13 L1858.5,754.11 L1859.0,754.09 L1859.5,754.07 L1860.0,754.04 L1860.5,754.02 L1861.0,753.99 L1861.5,753.96 L1862.0,753.93 L1862.5,753.90 L1863.0,753.86 L1863.5,753.83 L1864.0,753.79 L1864.5,753.75 L1865.0,753.71 L1865.5,753.66 L1866.0,753.61 L1866.5,753.56 L1867.0,753.51 L1867.5,753.45 L1868.0,753.40 L1868.5,753.33 L1869.0,753.27 L1869.5,753.20 L1870.0,753.13 L1870.5,753.06 L1871.0,752.98 L1871.5,752.90 L1872.0,752.81 L1872.5,752.72 L1873.0,752.63 L1873.5,752.53 L1874.0,752.43 L1874.5,752.33 L1875.0,752.22 L1875.5,752.11 L1876.0,751.99 L1876.5,751.87 L1877.0,751.74 L1877.5,751.61 L1878.0,751.47 L1878.5,751.33 L1879.0,751.19 L1879.5,751.04 L1880.0,750.88 L1880.5,750.72 L1881.0,750.56 L1881.5,750.39 L1882.0,750.21 L1882.5,750.03 L1883.0,749.85 L1883.5,749.66 L1884.0,749.47 L1884.5,749.27 L1885.0,749.07 L1885.5,748.86 L1886.0,748.65 L1886.5,748.43 L1887.0,748.21 L1887.5,747.98 L1888.0,747.75 L1888.5,747.52 L1889.0,747.28 L1889.5,747.04 L1890.0,746.80 L1890.5,746.55 L1891.0,746.31 L1891.5,746.05 L1892.0,745.80 L1892.5,745.54 L1893.0,745.28 L1893.5,745.02 L1894.0,744.76 L1894.5,744.50 L1895.0,744.23 L1895.5,743.97 L1896.0,743.71 L1896.5,743.44 L1897.0,743.18 L1897.5,742.92 L1898.0,742.65 L1898.5,742.39 L1899.0,742.14 L1899.5,741.88 L1900.0,741.63 L1900.5,741.38 L1901.0,741.13 L1901.5,740.89 L1902.0,740.65 L1902.5,740.41 L1903.0,740.19 L1903.5,739.96 L1904.0,739.74 L1904.5,739.53 L1905.0,739.33 L1905.5,739.13 L1906.0,738.93 L1906.5,738.75 L1907.0,738.57 L1907.5,738.40 L1908.0,738.24 L1908.5,738.09 L1909.0,737.95 L1909.5,737.82 L1910.0,737.69 L1910.5,737.58 L1911.0,737.47 L1911.5,737.38 L1912.0,737.29 L1912.5,737.22 L1913.0,737.15 L1913.5,737.10 L1914.0,737.06 L1914.5,737.03 L1915.0,737.01 L1915.5,737.00 L1916.0,737.00 L1916.5,737.01 L1917.0,737.03 L1917.5,737.06 L1918.0,737.11 L1918.5,737.16 L1919.0,737.22 L1919.5,737.30 L1920.0,737.38 L1920.5,737.47 L1921.0,737.57 L1921.5,737.68 L1922.0,737.80 L1922.5,737.93 L1923.0,738.07 L1923.5,738.21 L1924.0,738.37 L1924.5,738.53 L1925.0,738.69 L1925.5,738.87 L1926.0,739.05 L1926.5,739.23 L1927.0,739.42 L1927.5,739.62 L1928.0,739.82 L1928.5,740.03 L1929.0,740.24 L1929.5,740.46 L1930.0,740.68 L1930.5,740.90 L1931.0,741.13 L1931.5,741.36 L1932.0,741.59 L1932.5,741.82 L1933.0,742.06 L1933.5,742.29 L1934.0,742.53 L1934.5,742.77 L1935.0,743.01 L1935.5,743.25 L1936.0,743.49 L1936.5,743.73 L1937.0,743.96 L1937.5,744.20 L1938.0,744.44 L1938.5,744.68 L1939.0,744.91 L1939.5,745.14 L1940.0,745.38 L1940.5,745.61 L1941.0,745.83 L1941.5,746.06 L1942.0,746.28 L1942.5,746.50 L1943.0,746.72 L1943.5,746.93 L1944.0,747.14 L1944.5,747.35 L1945.0,747.56 L1945.5,747.76 L1946.0,747.96 L1946.5,748.15 L1947.0,748.34 L1947.5,748.53 L1948.0,748.72 L1948.5,748.90 L1949.0,749.07 L1949.5,749.25 L1950.0,749.41 L1950.5,749.58 L1951.0,749.74 L1951.5,749.90 L1952.0,750.05 L1952.5,750.20 L1953.0,750.34 L1953.5,750.48 L1954.0,750.62 L1954.5,750.75 L1955.0,750.88 L1955.5,751.01 L1956.0,751.13 L1956.5,751.25 L1957.0,751.36 L1957.5,751.47 L1958.0,751.58 L1958.5,751.69 L1959.0,751.79 L1959.5,751.88 L1960.0,751.98 L1960.5,752.07 L1961.0,752.15 L1961.5,752.24 L1962.0,752.32 L1962.5,752.40 L1963.0,752.47 L1963.5,752.54 L1964.0,752.61 L1964.5,752.68 L1965.0,752.75 L1965.5,752.81 L1966.0,752.87 L1966.5,752.92 L1967.0,752.98 L1967.5,753.03 L1968.0,753.08 L1968.5,753.13 L1969.0,753.17 L1969.5,753.22 L1970.0,753.26 L1970.5,753.30 L1971.0,753.34 L1971.5,753.37 L1972.0,753.41 L1972.5,753.44 L1973.0,753.48 L1973.5,753.51 L1974.0,753.54 L1974.5,753.56 L1975.0,753.59 L1975.5,753.62 L1976.0,753.64 L1976.5,753.66 L1977.0,753.68 L1977.5,753.71 L1978.0,753.73 L1978.5,753.75 L1979.0,753.76 L1979.5,753.78 L1980.0,753.80 L1980.5,753.81 L1981.0,753.83 L1981.5,753.84 L1982.0,753.86 L1982.5,753.87 L1983.0,753.88 L1983.5,753.90 L1984.0,753.91 L1984.5,753.92 L1985.0,753.93 L1985.5,753.94 L1986.0,753.95 L1986.5,753.96 L1987.0,753.97 L1987.5,753.97 L1988.0,753.98 L1988.5,753.99 L1989.0,754.00 L1989.5,754.01 L1990.0,754.01 L1990.5,754.02 L1991.0,754.03 L1991.5,754.03 L1992.0,754.04 L1992.5,754.04 L1993.0,754.05 L1993.5,754.05 L1994.0,754.06 L1994.5,754.06 L1995.0,754.07 L1995.5,754.07 L1996.0,754.08 L1996.5,754.08 L1997.0,754.09 L1997.5,754.09 L1998.0,754.10 L1998.5,754.10 L1999.0,754.10 L1999.5,754.11 L2000.0,754.11 L2000.5,754.11 L2001.0,754.12 L2001.5,754.12 L2002.0,754.12 L2002.5,754.13 L2003.0,754.13 L2003.5,754.13 L2004.0,754.14 L2004.5,754.14 L2005.0,754.14 L2005.5,754.14 L2006.0,754.15 L2006.5,754.15 L2007.0,754.15 L2007.5,754.16 L2008.0,754.16 L2008.5,754.16 L2009.0,754.16 L2009.5,754.17 L2010.0,754.17 L2010.5,754.17 L2011.0,754.17 L2011.5,754.17 L2012.0,754.18 L2012.5,754.18 L2013.0,754.18 L2013.5,754.18 L2014.0,754.19 L2014.5,754.19 L2015.0,754.19 L2015.5,754.19 L2016.0,754.19 L2016.5,754.20 L2017.0,754.20 L2017.5,754.20 L2018.0,754.20 L2018.5,754.20 L2019.0,754.20 L2019.5,754.21 L2020.0,754.21 L2020.5,754.21 L2021.0,754.21 L2021.5,754.21 L2022.0,754.21 L2022.5,754.22 L2023.0,754.22 L2023.5,754.22 L2024.0,754.22 L2024.5,754.22 L2025.0,754.22 L2025.5,754.23 L2026.0,754.23 L2026.5,754.23 L2027.0,754.23 L2027.5,754.23 L2028.0,754.23 L2028.5,754.23 L2029.0,754.24 L2029.5,754.24 L2030.0,754.24 L2030.5,754.24 L2031.0,754.24 L2031.5,754.24 L2032.0,754.24 L2032.5,754.24 L2033.0,754.25 L2033.5,754.25 L2034.0,754.25 L2034.5,754.25"/>
<path class="cv" stroke="#000000" d="M35.0,271.00 L35.5,271.00 L36.0,271.00 L36.5,271.00 L37.0,271.00 L37.5,271.00 L38.0,271.00 L38.5,271.00 L39.0,271.00 L39.5,271.00 L40.0,271.00 L40.5,271.00 L41.0,271.00 L41.5,271.00 L42.0,271.00 L42.5,271.00 L43.0,271.00 L43.5,271.00 L44.0,271.00 L44.5,271.00 L45.0,271.00 L45.5,271.00 L46.0,271.00 L46.5,271.00 L47.0,271.00 L47.5,271.00 L48.0,271.00 L48.5,271.00 L49.0,271.00 L49.5,271.00 L50.0,271.00 L50.5,271.00 L51.0,271.00 L51.5,271.00 L52.0,271.00 L52.5,271.00 L53.0,271.00 L53.5,271.00 L54.0,271.00 L54.5,271.00 L55.0,271.00 L55.5,271.00 L56.0,271.00 L56.5,271.00 L57.0,271.00 L57.5,270.99 L58.0,270.99 L58.5,270.99 L59.0,270.99 L59.5,270.99 L60.0,270.99 L60.5,270.99 L61.0,270.99 L61.5,270.99 L62.0,270.99 L62.5,270.99 L63.0,270.99 L63.5,270.99 L64.0,270.99 L64.5,270.99 L65.0,270.99 L65.5,270.99 L66.0,270.99 L66.5,270.99 L67.0,270.99 L67.5,270.99 L68.0,270.99 L68.5,270.99 L69.0,270.99 L69.5,270.99 L70.0,270.99 L70.5,270.99 L71.0,270.99 L71.5,270.99 L72.0,270.99 L72.5,270.99 L73.0,270.99 L73.5,270.99 L74.0,270.99 L74.5,270.99 L75.0,270.99 L75.5,270.99 L76.0,270.99 L76.5,270.99 L77.0,270.99 L77.5,270.99 L78.0,270.99 L78.5,270.99 L79.0,270.99 L79.5,270.99 L80.0,270.99 L80.5,270.99 L81.0,270.99 L81.5,270.99 L82.0,270.99 L82.5,270.99 L83.0,270.99 L83.5,270.99 L84.0,270.99 L84.5,270.99 L85.0,270.99 L85.5,270.98 L86.0,270.94 L86.5,270.88 L87.0,270.80 L87.5,270.70 L88.0,270.58 L88.5,270.44 L89.0,270.29 L89.5,270.13 L90.0,269.96 L90.5,269.77 L91.0,269.58 L91.5,269.39 L92.0,269.19 L92.5,268.99 L93.0,268.79 L93.5,268.59 L94.0,268.39 L94.5,268.20 L95.0,268.01 L95.5,267.83 L96.0,267.66 L96.5,267.51 L97.0,267.37 L97.5,267.24 L98.0,267.13 L98.5,267.04 L99.0,266.97 L99.5,266.92 L100.0,266.89 L100.5,266.88 L101.0,266.87 L101.5,266.86 L102.0,266.85 L102.5,266.84 L103.0,266.83 L103.5,266.82 L104.0,266.81 L104.5,266.80 L105.0,266.79 L105.5,266.79 L106.0,266.78 L106.5,266.77 L107.0,266.77 L107.5,266.76 L108.0,266.75 L108.5,266.75 L109.0,266.74 L109.5,266.74 L110.0,266.73 L110.5,266.73 L111.0,266.72 L111.5,266.72 L112.0,266.71 L112.5,266.71 L113.0,266.71 L113.5,266.70 L114.0,266.70 L114.5,266.70 L115.0,266.69 L115.5,266.69 L116.0,266.69 L116.5,266.68 L117.0,266.68 L117.5,266.68 L118.0,266.68 L118.5,266.67 L119.0,266.67 L119.5,266.67 L120.0,266.67 L120.5,266.66 L121.0,266.66 L121.5,266.66 L122.0,266.65 L122.5,266.65 L123.0,266.65 L123.5,266.65 L124.0,266.64 L124.5,266.64 L125.0,266.64 L125.5,266.63 L126.0,266.63 L126.5,266.63 L127.0,266.62 L127.5,266.62 L128.0,266.61 L128.5,266.61 L129.0,266.60 L129.5,266.60 L130.0,266.59 L130.5,266.59 L131.0,266.58 L131.5,266.58 L132.0,266.57 L132.5,266.56 L133.0,266.56 L133.5,266.55 L134.0,266.54 L134.5,266.53 L135.0,266.53 L135.5,266.52 L136.0,266.51 L136.5,266.50 L137.0,266.49 L137.5,266.48 L138.0,266.46 L138.5,266.44 L139.0,266.42 L139.5,266.40 L140.0,266.37 L140.5,266.34 L141.0,266.30 L141.5,266.27 L142.0,266.23 L142.5,266.19 L143.0,266.15 L143.5,266.11 L144.0,266.06 L144.5,266.02 L145.0,265.97 L145.5,265.93 L146.0,265.88 L146.5,265.83 L147.0,265.79 L147.5,265.74 L148.0,265.70 L148.5,265.65 L149.0,265.61 L149.5,265.56 L150.0,265.52 L150.5,265.48 L151.0,265.43 L151.5,265.39 L152.0,265.35 L152.5,265.31 L153.0,265.27 L153.5,265.22 L154.0,265.18 L154.5,265.13 L155.0,265.07 L155.5,265.01 L156.0,264.94 L156.5,264.86 L157.0,264.76 L157.5,264.66 L158.0,264.53 L158.5,264.40 L159.0,264.24 L159.5,264.07 L160.0,263.89 L160.5,263.70 L161.0,263.50 L161.5,263.31 L162.0,263.12 L162.5,262.94 L163.0,262.78 L163.5,262.65 L164.0,262.54 L164.5,262.48 L165.0,262.45 L165.5,262.47 L166.0,262.52 L166.5,262.62 L167.0,262.76 L167.5,262.93 L168.0,263.13 L168.5,263.35 L169.0,263.58 L169.5,263.83 L170.0,264.07 L170.5,264.31 L171.0,264.55 L171.5,264.77 L172.0,264.97 L172.5,265.15 L173.0,265.32 L173.5,265.47 L174.0,265.60 L174.5,265.71 L175.0,265.81 L175.5,265.90 L176.0,265.99 L176.5,266.06 L177.0,266.13 L177.5,266.19 L178.0,266.25 L178.5,266.31 L179.0,266.36 L179.5,266.41 L180.0,266.46 L180.5,266.51 L181.0,266.56 L181.5,266.60 L182.0,266.65 L182.5,266.69 L183.0,266.73 L183.5,266.77 L184.0,266.81 L184.5,266.84 L185.0,266.87 L185.5,266.90 L186.0,266.92 L186.5,266.94 L187.0,266.96 L187.5,266.97 L188.0,266.98 L188.5,266.98 L189.0,266.98 L189.5,266.98 L190.0,266.98 L190.5,266.42 L191.0,263.85 L191.5,260.89 L192.0,259.48 L192.5,259.51 L193.0,259.60 L193.5,259.71 L194.0,259.83 L194.5,260.01 L195.0,260.25 L195.5,260.54 L196.0,260.86 L196.5,261.21 L197.0,261.56 L197.5,261.91 L198.0,262.24 L198.5,262.54 L199.0,262.80 L199.5,263.00 L200.0,263.13 L200.5,263.17 L201.0,263.16 L201.5,263.12 L202.0,263.05 L202.5,262.96 L203.0,262.85 L203.5,262.72 L204.0,262.57 L204.5,262.42 L205.0,262.26 L205.5,262.08 L206.0,261.91 L206.5,261.73 L207.0,261.56 L207.5,261.39 L208.0,261.22 L208.5,261.07 L209.0,260.92 L209.5,260.80 L210.0,260.69 L210.5,260.59 L211.0,260.53 L211.5,260.48 L212.0,260.47 L212.5,260.47 L213.0,260.50 L213.5,260.53 L214.0,260.58 L214.5,260.63 L215.0,260.70 L215.5,260.77 L216.0,260.85 L216.5,260.94 L217.0,261.03 L217.5,261.13 L218.0,261.23 L218.5,261.33 L219.0,261.42 L219.5,261.52 L220.0,261.62 L220.5,261.71 L221.0,261.80 L221.5,261.88 L222.0,261.96 L222.5,262.03 L223.0,262.10 L223.5,262.16 L224.0,262.22 L224.5,262.29 L225.0,262.35 L225.5,262.41 L226.0,262.47 L226.5,262.53 L227.0,262.60 L227.5,262.66 L228.0,262.73 L228.5,262.80 L229.0,262.88 L229.5,262.96 L230.0,263.04 L230.5,263.13 L231.0,263.23 L231.5,263.34 L232.0,263.48 L232.5,263.62 L233.0,263.78 L233.5,263.95 L234.0,264.13 L234.5,264.31 L235.0,264.49 L235.5,264.67 L236.0,264.85 L236.5,265.02 L237.0,265.19 L237.5,265.34 L238.0,265.49 L238.5,265.61 L239.0,265.72 L239.5,265.81 L240.0,265.88 L240.5,265.92 L241.0,265.94 L241.5,265.97 L242.0,265.99 L242.5,266.01 L243.0,266.03 L243.5,266.04 L244.0,266.06 L244.5,266.08 L245.0,266.10 L245.5,266.11 L246.0,266.13 L246.5,266.14 L247.0,266.15 L247.5,266.17 L248.0,266.18 L248.5,266.19 L249.0,266.20 L249.5,266.21 L250.0,266.22 L250.5,266.22 L251.0,266.23 L251.5,266.24 L252.0,266.24 L252.5,266.25 L253.0,266.25 L253.5,266.25 L254.0,266.25 L254.5,266.25 L255.0,266.25 L255.5,266.25 L256.0,266.25 L256.5,266.25 L257.0,266.24 L257.5,266.24 L258.0,266.22 L258.5,266.21 L259.0,266.19 L259.5,266.16 L260.0,266.13 L260.5,266.10 L261.0,266.07 L261.5,266.03 L262.0,265.98 L262.5,265.94 L263.0,265.89 L263.5,265.84 L264.0,265.78 L264.5,265.73 L265.0,265.67 L265.5,265.61 L266.0,265.55 L266.5,265.49 L267.0,265.42 L267.5,265.36 L268.0,265.29 L268.5,265.23 L269.0,265.16 L269.5,265.09 L270.0,265.02 L270.5,264.95 L271.0,264.89 L271.5,264.82 L272.0,264.75 L272.5,264.68 L273.0,264.61 L273.5,264.54 L274.0,264.47 L274.5,264.40 L275.0,264.33 L275.5,264.25 L276.0,264.17 L276.5,264.08 L277.0,263.99 L277.5,263.87 L278.0,263.74 L278.5,263.58 L279.0,263.40 L279.5,263.17 L280.0,262.89 L280.5,262.54 L281.0,262.11 L281.5,261.59 L282.0,260.96 L282.5,260.19 L283.0,259.29 L283.5,258.22 L284.0,256.99 L284.5,255.58 L285.0,254.02 L285.5,252.30 L286.0,250.46 L286.5,248.53 L287.0,246.56 L287.5,244.61 L288.0,242.75 L288.5,241.06 L289.0,239.64 L289.5,238.56 L290.0,237.92 L290.5,237.75 L291.0,238.04 L291.5,238.75 L292.0,239.81 L292.5,241.17 L293.0,242.72 L293.5,244.40 L294.0,246.12 L294.5,247.85 L295.0,249.52 L295.5,251.12 L296.0,252.61 L296.5,253.98 L297.0,255.22 L297.5,256.34 L298.0,257.32 L298.5,258.19 L299.0,258.94 L299.5,259.58 L300.0,260.13 L300.5,260.59 L301.0,260.99 L301.5,261.33 L302.0,261.63 L302.5,261.88 L303.0,262.10 L303.5,262.29 L304.0,262.46 L304.5,262.62 L305.0,262.76 L305.5,262.89 L306.0,263.01 L306.5,263.12 L307.0,263.23 L307.5,263.34 L308.0,263.44 L308.5,263.53 L309.0,263.62 L309.5,263.71 L310.0,263.80 L310.5,263.88 L311.0,263.96 L311.5,264.03 L312.0,264.10 L312.5,264.17 L313.0,264.23 L313.5,264.30 L314.0,264.35 L314.5,264.40 L315.0,264.45 L315.5,264.50 L316.0,264.55 L316.5,264.59 L317.0,264.64 L317.5,264.68 L318.0,264.72 L318.5,264.77 L319.0,264.81 L319.5,264.85 L320.0,264.89 L320.5,264.93 L321.0,264.97 L321.5,265.01 L322.0,265.04 L322.5,265.08 L323.0,265.11 L323.5,265.14 L324.0,265.17 L324.5,265.20 L325.0,265.23 L325.5,265.25 L326.0,265.27 L326.5,265.29 L327.0,265.31 L327.5,265.32 L328.0,265.34 L328.5,265.34 L329.0,265.35 L329.5,265.35 L330.0,265.35 L330.5,265.34 L331.0,265.33 L331.5,265.31 L332.0,265.29 L332.5,265.26 L333.0,265.22 L333.5,265.18 L334.0,265.13 L334.5,265.08 L335.0,265.01 L335.5,264.93 L336.0,264.84 L336.5,264.73 L337.0,264.61 L337.5,264.46 L338.0,264.30 L338.5,264.11 L339.0,263.90 L339.5,263.68 L340.0,263.44 L340.5,263.19 L341.0,262.94 L341.5,262.69 L342.0,262.45 L342.5,262.23 L343.0,262.04 L343.5,261.89 L344.0,261.78 L344.5,261.71 L345.0,261.69 L345.5,261.72 L346.0,261.78 L346.5,261.88 L347.0,262.00 L347.5,262.16 L348.0,262.33 L348.5,262.53 L349.0,262.73 L349.5,262.94 L350.0,263.16 L350.5,263.37 L351.0,263.58 L351.5,263.78 L352.0,263.97 L352.5,264.15 L353.0,264.31 L353.5,264.47 L354.0,264.60 L354.5,264.73 L355.0,264.84 L355.5,264.94 L356.0,265.02 L356.5,265.10 L357.0,265.17 L357.5,265.23 L358.0,265.29 L358.5,265.34 L359.0,265.39 L359.5,265.43 L360.0,265.48 L360.5,265.52 L361.0,265.56 L361.5,265.60 L362.0,265.63 L362.5,265.67 L363.0,265.71 L363.5,265.75 L364.0,265.78 L364.5,265.82 L365.0,265.85 L365.5,265.89 L366.0,265.92 L366.5,265.95 L367.0,265.98 L367.5,266.01 L368.0,266.04 L368.5,266.07 L369.0,266.10 L369.5,266.12 L370.0,266.14 L370.5,266.17 L371.0,266.18 L371.5,266.20 L372.0,266.21 L372.5,266.22 L373.0,266.24 L373.5,266.24 L374.0,266.25 L374.5,266.26 L375.0,266.27 L375.5,266.27 L376.0,266.28 L376.5,266.29 L377.0,266.29 L377.5,266.29 L378.0,266.30 L378.5,266.30 L379.0,266.31 L379.5,266.31 L380.0,266.32 L380.5,266.32 L381.0,266.33 L381.5,266.33 L382.0,266.34 L382.5,266.35 L383.0,266.35 L383.5,266.36 L384.0,266.37 L384.5,266.39 L385.0,266.41 L385.5,266.43 L386.0,266.45 L386.5,266.47 L387.0,266.50 L387.5,266.53 L388.0,266.56 L388.5,266.59 L389.0,266.62 L389.5,266.65 L390.0,266.68 L390.5,266.71 L391.0,266.75 L391.5,266.78 L392.0,266.81 L392.5,266.84 L393.0,266.86 L393.5,266.89 L394.0,266.91 L394.5,266.93 L395.0,266.95 L395.5,266.96 L396.0,266.97 L396.5,266.98 L397.0,266.98 L397.5,266.97 L398.0,266.97 L398.5,266.95 L399.0,266.93 L399.5,266.90 L400.0,266.87 L400.5,266.82 L401.0,266.78 L401.5,266.72 L402.0,266.66 L402.5,266.59 L403.0,266.50 L403.5,266.40 L404.0,266.28 L404.5,266.12 L405.0,265.93 L405.5,265.70 L406.0,265.40 L406.5,265.02 L407.0,264.55 L407.5,263.97 L408.0,263.26 L408.5,262.39 L409.0,261.36 L409.5,260.13 L410.0,258.71 L410.5,257.08 L411.0,255.25 L411.5,253.23 L412.0,251.06 L412.5,248.77 L413.0,246.42 L413.5,244.08 L414.0,241.82 L414.5,239.76 L415.0,237.99 L415.5,236.63 L416.0,235.77 L416.5,235.47 L417.0,235.71 L417.5,236.43 L418.0,237.58 L418.5,239.07 L419.0,240.82 L419.5,242.73 L420.0,244.74 L420.5,246.76 L421.0,248.76 L421.5,250.68 L422.0,252.50 L422.5,254.19 L423.0,255.75 L423.5,257.16 L424.0,258.43 L424.5,259.55 L425.0,260.53 L425.5,261.39 L426.0,262.12 L426.5,262.75 L427.0,263.29 L427.5,263.74 L428.0,264.13 L428.5,264.45 L429.0,264.73 L429.5,264.96 L430.0,265.16 L430.5,265.33 L431.0,265.48 L431.5,265.61 L432.0,265.72 L432.5,265.83 L433.0,265.93 L433.5,266.03 L434.0,266.14 L434.5,266.23 L435.0,266.33 L435.5,266.43 L436.0,266.53 L436.5,266.62 L437.0,266.71 L437.5,266.80 L438.0,266.88 L438.5,266.96 L439.0,267.04 L439.5,267.11 L440.0,267.17 L440.5,267.22 L441.0,267.27 L441.5,267.31 L442.0,267.34 L442.5,267.36 L443.0,267.39 L443.5,267.41 L444.0,267.43 L444.5,267.45 L445.0,267.46 L445.5,267.48 L446.0,267.50 L446.5,267.51 L447.0,267.53 L447.5,267.54 L448.0,267.56 L448.5,267.57 L449.0,267.58 L449.5,267.59 L450.0,267.60 L450.5,267.61 L451.0,267.62 L451.5,267.63 L452.0,267.64 L452.5,267.65 L453.0,267.66 L453.5,267.67 L454.0,267.68 L454.5,267.69 L455.0,267.69 L455.5,267.70 L456.0,267.71 L456.5,267.72 L457.0,267.72 L457.5,267.73 L458.0,267.73 L458.5,267.74 L459.0,267.75 L459.5,267.75 L460.0,267.76 L460.5,267.76 L461.0,267.77 L461.5,267.77 L462.0,267.78 L462.5,267.78 L463.0,267.78 L463.5,267.79 L464.0,267.79 L464.5,267.80 L465.0,267.80 L465.5,267.80 L466.0,267.81 L466.5,267.81 L467.0,267.81 L467.5,267.82 L468.0,267.82 L468.5,267.82 L469.0,267.83 L469.5,267.83 L470.0,267.83 L470.5,267.84 L471.0,267.84 L471.5,267.84 L472.0,267.84 L472.5,267.85 L473.0,267.85 L473.5,267.85 L474.0,267.85 L474.5,267.85 L475.0,267.86 L475.5,267.86 L476.0,267.86 L476.5,267.86 L477.0,267.87 L477.5,267.87 L478.0,267.87 L478.5,267.87 L479.0,267.87 L479.5,267.87 L480.0,267.88 L480.5,267.88 L481.0,267.88 L481.5,267.88 L482.0,267.88 L482.5,267.88 L483.0,267.89 L483.5,267.89 L484.0,267.89 L484.5,267.89 L485.0,267.89 L485.5,267.89 L486.0,267.89 L486.5,267.89 L487.0,267.90 L487.5,267.90 L488.0,267.90 L488.5,267.90 L489.0,267.90 L489.5,267.90 L490.0,267.90 L490.5,267.90 L491.0,267.90 L491.5,267.91 L492.0,267.91 L492.5,267.91 L493.0,267.91 L493.5,267.91 L494.0,267.91 L494.5,267.91 L495.0,267.91 L495.5,267.91 L496.0,267.91 L496.5,267.91 L497.0,267.92 L497.5,267.92 L498.0,267.92 L498.5,267.92 L499.0,267.92 L499.5,267.92 L500.0,267.92 L500.5,267.92 L501.0,267.92 L501.5,267.92 L502.0,267.92 L502.5,267.92 L503.0,267.92 L503.5,267.92 L504.0,267.92 L504.5,267.93 L505.0,267.93 L505.5,267.93 L506.0,267.93 L506.5,267.93 L507.0,267.93 L507.5,267.93 L508.0,267.93 L508.5,267.93 L509.0,267.93 L509.5,267.93 L510.0,267.93 L510.5,267.93 L511.0,267.93 L511.5,267.93 L512.0,267.93 L512.5,267.93 L513.0,267.93 L513.5,267.93 L514.0,267.93 L514.5,267.93 L515.0,267.93 L515.5,267.93 L516.0,267.93 L516.5,267.93 L517.0,267.94 L517.5,267.94 L518.0,267.94 L518.5,267.94 L519.0,267.94 L519.5,267.94 L520.0,267.94 L520.5,267.94 L521.0,267.94 L521.5,267.94 L522.0,267.94 L522.5,267.94 L523.0,267.94 L523.5,267.94 L524.0,267.94 L524.5,267.94 L525.0,267.94 L525.5,267.94 L526.0,267.94 L526.5,267.94 L527.0,267.94 L527.5,267.94 L528.0,267.94 L528.5,267.94 L529.0,267.94 L529.5,267.94 L530.0,267.94 L530.5,267.94 L531.0,267.94 L531.5,267.94 L532.0,267.94 L532.5,267.94 L533.0,267.94 L533.5,267.94 L534.0,267.94 L534.5,267.94 L535.0,267.94 L535.5,267.94 L536.0,267.94 L536.5,267.94 L537.0,267.94 L537.5,267.94 L538.0,267.94 L538.5,267.94 L539.0,267.94 L539.5,267.94 L540.0,267.94 L540.5,267.94 L541.0,267.94 L541.5,267.94 L542.0,267.94 L542.5,267.94 L543.0,267.94 L543.5,267.94 L544.0,267.93 L544.5,267.93 L545.0,267.93 L545.5,267.93 L546.0,267.93 L546.5,267.93 L547.0,267.93 L547.5,267.93 L548.0,267.93 L548.5,267.93 L549.0,267.93 L549.5,267.93 L550.0,267.93 L550.5,267.93 L551.0,267.93 L551.5,267.93 L552.0,267.93 L552.5,267.93 L553.0,267.92 L553.5,267.92 L554.0,267.92 L554.5,267.92 L555.0,267.92 L555.5,267.92 L556.0,267.92 L556.5,267.92 L557.0,267.92 L557.5,267.92 L558.0,267.91 L558.5,267.91 L559.0,267.91 L559.5,267.91 L560.0,267.91 L560.5,267.91 L561.0,267.91 L561.5,267.90 L562.0,267.90 L562.5,267.90 L563.0,267.90 L563.5,267.90 L564.0,267.90 L564.5,267.90 L565.0,267.91 L565.5,267.93 L566.0,267.97 L566.5,268.00 L567.0,268.05 L567.5,268.10 L568.0,268.15 L568.5,268.20 L569.0,268.26 L569.5,268.32 L570.0,268.38 L570.5,268.44 L571.0,268.50 L571.5,268.55 L572.0,268.60 L572.5,268.64 L573.0,268.68 L573.5,268.71 L574.0,268.73 L574.5,268.74 L575.0,268.73 L575.5,268.72 L576.0,268.68 L576.5,268.63 L577.0,268.56 L577.5,268.48 L578.0,268.39 L578.5,268.28 L579.0,268.16 L579.5,268.03 L580.0,267.89 L580.5,267.74 L581.0,267.58 L581.5,267.41 L582.0,267.24 L582.5,267.05 L583.0,266.84 L583.5,266.61 L584.0,266.35 L584.5,266.07 L585.0,265.76 L585.5,265.42 L586.0,265.05 L586.5,264.66 L587.0,264.24 L587.5,263.79 L588.0,263.32 L588.5,262.83 L589.0,262.32 L589.5,261.79 L590.0,261.24 L590.5,260.69 L591.0,260.13 L591.5,259.57 L592.0,259.02 L592.5,258.48 L593.0,257.96 L593.5,257.46 L594.0,256.99 L594.5,256.56 L595.0,256.17 L595.5,255.83 L596.0,255.54 L596.5,255.31 L597.0,255.14 L597.5,255.04 L598.0,255.01 L598.5,255.03 L599.0,255.11 L599.5,255.24 L600.0,255.41 L600.5,255.64 L601.0,255.90 L601.5,256.21 L602.0,256.55 L602.5,256.92 L603.0,257.31 L603.5,257.72 L604.0,258.15 L604.5,258.59 L605.0,259.04 L605.5,259.50 L606.0,259.96 L606.5,260.41 L607.0,260.86 L607.5,261.30 L608.0,261.74 L608.5,262.16 L609.0,262.57 L609.5,262.96 L610.0,263.34 L610.5,263.71 L611.0,264.05 L611.5,264.38 L612.0,264.69 L612.5,264.98 L613.0,265.25 L613.5,265.51 L614.0,265.75 L614.5,265.97 L615.0,266.17 L615.5,266.36 L616.0,266.53 L616.5,266.69 L617.0,266.83 L617.5,266.97 L618.0,267.09 L618.5,267.19 L619.0,267.29 L619.5,267.38 L620.0,267.46 L620.5,267.54 L621.0,267.60 L621.5,267.66 L622.0,267.71 L622.5,267.76 L623.0,267.80 L623.5,267.84 L624.0,267.88 L624.5,267.91 L625.0,267.94 L625.5,267.96 L626.0,267.99 L626.5,268.01 L627.0,268.03 L627.5,268.05 L628.0,268.06 L628.5,268.08 L629.0,268.09 L629.5,268.11 L630.0,268.12 L630.5,268.13 L631.0,268.14 L631.5,268.15 L632.0,268.16 L632.5,268.17 L633.0,268.18 L633.5,268.19 L634.0,268.20 L634.5,268.20 L635.0,268.21 L635.5,268.22 L636.0,268.23 L636.5,268.23 L637.0,268.24 L637.5,268.24 L638.0,268.25 L638.5,268.26 L639.0,268.26 L639.5,268.27 L640.0,268.27 L640.5,268.28 L641.0,268.28 L641.5,268.29 L642.0,268.29 L642.5,268.29 L643.0,268.30 L643.5,268.30 L644.0,268.31 L644.5,268.31 L645.0,268.31 L645.5,268.32 L646.0,268.32 L646.5,268.32 L647.0,268.33 L647.5,268.33 L648.0,268.33 L648.5,268.34 L649.0,268.34 L649.5,268.34 L650.0,268.34 L650.5,268.35 L651.0,268.35 L651.5,268.35 L652.0,268.36 L652.5,268.36 L653.0,268.36 L653.5,268.36 L654.0,268.36 L654.5,268.37 L655.0,268.37 L655.5,268.37 L656.0,268.37 L656.5,268.36 L657.0,268.33 L657.5,268.29 L658.0,268.24 L658.5,268.17 L659.0,268.09 L659.5,268.01 L660.0,267.92 L660.5,267.83 L661.0,267.73 L661.5,267.64 L662.0,267.54 L662.5,267.46 L663.0,267.37 L663.5,267.30 L664.0,267.23 L664.5,267.18 L665.0,267.14 L665.5,267.11 L666.0,267.10 L666.5,267.11 L667.0,267.13 L667.5,267.16 L668.0,267.20 L668.5,267.25 L669.0,267.31 L669.5,267.37 L670.0,267.44 L670.5,267.51 L671.0,267.59 L671.5,267.67 L672.0,267.75 L672.5,267.83 L673.0,267.91 L673.5,267.99 L674.0,268.07 L674.5,268.14 L675.0,268.21 L675.5,268.27 L676.0,268.32 L676.5,268.36 L677.0,268.40 L677.5,268.42 L678.0,268.44 L678.5,268.46 L679.0,268.48 L679.5,268.49 L680.0,268.51 L680.5,268.52 L681.0,268.54 L681.5,268.56 L682.0,268.57 L682.5,268.58 L683.0,268.60 L683.5,268.61 L684.0,268.63 L684.5,268.64 L685.0,268.65 L685.5,268.66 L686.0,268.68 L686.5,268.69 L687.0,268.70 L687.5,268.71 L688.0,268.72 L688.5,268.73 L689.0,268.74 L689.5,268.75 L690.0,268.76 L690.5,268.77 L691.0,268.78 L691.5,268.78 L692.0,268.79 L692.5,268.80 L693.0,268.81 L693.5,268.81 L694.0,268.82 L694.5,268.82 L695.0,268.83 L695.5,268.83 L696.0,268.84 L696.5,268.84 L697.0,268.84 L697.5,268.85 L698.0,268.85 L698.5,268.85 L699.0,268.85 L699.5,268.85 L700.0,268.85 L700.5,268.85 L701.0,268.85 L701.5,268.86 L702.0,268.86 L702.5,268.86 L703.0,268.86 L703.5,268.86 L704.0,268.86 L704.5,268.86 L705.0,268.86 L705.5,268.86 L706.0,268.86 L706.5,268.86 L707.0,268.86 L707.5,268.86 L708.0,268.86 L708.5,268.86 L709.0,268.86 L709.5,268.86 L710.0,268.86 L710.5,268.86 L711.0,268.86 L711.5,268.86 L712.0,268.86 L712.5,268.86 L713.0,268.86 L713.5,268.86 L714.0,268.86 L714.5,268.86 L715.0,268.86 L715.5,268.86 L716.0,268.86 L716.5,268.86 L717.0,268.86 L717.5,268.87 L718.0,268.87 L718.5,268.87 L719.0,268.87 L719.5,268.87 L720.0,268.87 L720.5,268.87 L721.0,268.87 L721.5,268.87 L722.0,268.87 L722.5,268.87 L723.0,268.87 L723.5,268.87 L724.0,268.87 L724.5,268.87 L725.0,268.87 L725.5,268.87 L726.0,268.87 L726.5,268.87 L727.0,268.87 L727.5,268.87 L728.0,268.87 L728.5,268.87 L729.0,268.87 L729.5,268.87 L730.0,268.87 L730.5,268.87 L731.0,268.87 L731.5,268.87 L732.0,268.87 L732.5,268.87 L733.0,268.87 L733.5,268.87 L734.0,268.87 L734.5,268.87 L735.0,268.87 L735.5,268.87 L736.0,268.87 L736.5,268.87 L737.0,268.87 L737.5,268.87 L738.0,268.87 L738.5,268.87 L739.0,268.87 L739.5,268.87 L740.0,268.87 L740.5,268.87 L741.0,268.87 L741.5,268.87 L742.0,268.87 L742.5,268.87 L743.0,268.87 L743.5,268.88 L744.0,268.88 L744.5,268.88 L745.0,268.88 L745.5,268.88 L746.0,268.88 L746.5,268.88 L747.0,268.88 L747.5,268.88 L748.0,268.88 L748.5,268.88 L749.0,268.88 L749.5,268.88 L750.0,268.88 L750.5,268.88 L751.0,268.88 L751.5,268.88 L752.0,268.88 L752.5,268.88 L753.0,268.88 L753.5,268.88 L754.0,268.88 L754.5,268.88 L755.0,268.88 L755.5,268.88 L756.0,268.88 L756.5,268.88 L757.0,268.88 L757.5,268.88 L758.0,268.88 L758.5,268.88 L759.0,268.88 L759.5,268.88 L760.0,268.88 L760.5,268.88 L761.0,268.88 L761.5,268.88 L762.0,268.88 L762.5,268.88 L763.0,268.88 L763.5,268.88 L764.0,268.88 L764.5,268.88 L765.0,268.88 L765.5,268.88 L766.0,268.88 L766.5,268.88 L767.0,268.88 L767.5,268.88 L768.0,268.88 L768.5,268.88 L769.0,268.88 L769.5,268.88 L770.0,268.88 L770.5,268.88 L771.0,268.88 L771.5,268.88 L772.0,268.88 L772.5,268.88 L773.0,268.88 L773.5,268.88 L774.0,268.88 L774.5,268.88 L775.0,268.88 L775.5,268.88 L776.0,268.88 L776.5,268.88 L777.0,268.88 L777.5,268.88 L778.0,268.88 L778.5,268.88 L779.0,268.88 L779.5,268.88 L780.0,268.88 L780.5,268.88 L781.0,268.88 L781.5,268.88 L782.0,268.88 L782.5,268.88 L783.0,268.88 L783.5,268.88 L784.0,268.88 L784.5,268.88 L785.0,268.88 L785.5,268.88 L786.0,268.88 L786.5,268.88 L787.0,268.88 L787.5,268.88 L788.0,268.88 L788.5,268.88 L789.0,268.88 L789.5,268.88 L790.0,268.88 L790.5,268.88 L791.0,268.88 L791.5,268.88 L792.0,268.88 L792.5,268.88 L793.0,268.88 L793.5,268.88 L794.0,268.89 L794.5,268.89 L795.0,268.89 L795.5,268.89 L796.0,268.89 L796.5,268.89 L797.0,268.89 L797.5,268.89 L798.0,268.89 L798.5,268.89 L799.0,268.89 L799.5,268.89 L800.0,268.89 L800.5,268.89 L801.0,268.89 L801.5,268.89 L802.0,268.89 L802.5,268.89 L803.0,268.89 L803.5,268.89 L804.0,268.89 L804.5,268.89 L805.0,268.89 L805.5,268.89 L806.0,268.89 L806.5,268.89 L807.0,268.89 L807.5,268.89 L808.0,268.89 L808.5,268.89 L809.0,268.89 L809.5,268.89 L810.0,268.89 L810.5,268.89 L811.0,268.89 L811.5,268.89 L812.0,268.89 L812.5,268.89 L813.0,268.89 L813.5,268.89 L814.0,268.89 L814.5,268.89 L815.0,268.89 L815.5,268.89 L816.0,268.89 L816.5,268.89 L817.0,268.89 L817.5,268.89 L818.0,268.89 L818.5,268.89 L819.0,268.89 L819.5,268.89 L820.0,268.89 L820.5,268.89 L821.0,268.89 L821.5,268.89 L822.0,268.89 L822.5,268.89 L823.0,268.89 L823.5,268.89 L824.0,268.89 L824.5,268.89 L825.0,268.89 L825.5,268.89 L826.0,268.89 L826.5,268.89 L827.0,268.89 L827.5,268.89 L828.0,268.89 L828.5,268.89 L829.0,268.89 L829.5,268.89 L830.0,268.89 L830.5,268.89 L831.0,268.89 L831.5,268.89 L832.0,268.89 L832.5,268.89 L833.0,268.89 L833.5,268.89 L834.0,268.89 L834.5,268.89 L835.0,268.89 L835.5,268.89 L836.0,268.89 L836.5,268.89 L837.0,268.89 L837.5,268.89 L838.0,268.89 L838.5,268.89 L839.0,268.89 L839.5,268.89 L840.0,268.89 L840.5,268.89 L841.0,268.89 L841.5,268.89 L842.0,268.89 L842.5,268.89 L843.0,268.89 L843.5,268.89 L844.0,268.89 L844.5,268.89 L845.0,268.89 L845.5,268.89 L846.0,268.89 L846.5,268.89 L847.0,268.89 L847.5,268.89 L848.0,268.89 L848.5,268.89 L849.0,268.89 L849.5,268.89 L850.0,268.89 L850.5,268.89 L851.0,268.89 L851.5,268.89 L852.0,268.89 L852.5,268.89 L853.0,268.89 L853.5,268.89 L854.0,268.89 L854.5,268.89 L855.0,268.89 L855.5,268.89 L856.0,268.89 L856.5,268.89 L857.0,268.89 L857.5,268.89 L858.0,268.89 L858.5,268.89 L859.0,268.89 L859.5,268.89 L860.0,268.89 L860.5,268.89 L861.0,268.89 L861.5,268.89 L862.0,268.89 L862.5,268.89 L863.0,268.89 L863.5,268.89 L864.0,268.89 L864.5,268.89 L865.0,268.89 L865.5,268.89 L866.0,268.89 L866.5,268.89 L867.0,268.89 L867.5,268.89 L868.0,268.89 L868.5,268.89 L869.0,268.89 L869.5,268.89 L870.0,268.89 L870.5,268.89 L871.0,268.89 L871.5,268.89 L872.0,268.89 L872.5,268.89 L873.0,268.89 L873.5,268.89 L874.0,268.89 L874.5,268.89 L875.0,268.89 L875.5,268.89 L876.0,268.89 L876.5,268.89 L877.0,268.89 L877.5,268.90 L878.0,268.93 L878.5,268.98 L879.0,269.05 L879.5,269.13 L880.0,269.22 L880.5,269.31 L881.0,269.42 L881.5,269.53 L882.0,269.64 L882.5,269.75 L883.0,269.86 L883.5,269.97 L884.0,270.07 L884.5,270.16 L885.0,270.24 L885.5,270.30 L886.0,270.35 L886.5,270.38 L887.0,270.39 L887.5,270.39 L888.0,270.39 L888.5,270.39 L889.0,270.39 L889.5,270.39 L890.0,270.39 L890.5,270.39 L891.0,270.39 L891.5,270.39 L892.0,270.39 L892.5,270.39 L893.0,270.39 L893.5,270.39 L894.0,270.39 L894.5,270.39 L895.0,270.39 L895.5,270.39 L896.0,270.39 L896.5,270.39 L897.0,270.39 L897.5,270.39 L898.0,270.39 L898.5,270.39 L899.0,270.39 L899.5,270.39 L900.0,270.39 L900.5,270.39 L901.0,270.39 L901.5,270.39 L902.0,270.39 L902.5,270.39 L903.0,270.39 L903.5,270.39 L904.0,270.39 L904.5,270.39 L905.0,270.39 L905.5,270.39 L906.0,270.39 L906.5,270.39 L907.0,270.39 L907.5,270.39 L908.0,270.39 L908.5,270.39 L909.0,270.39 L909.5,270.39 L910.0,270.39 L910.5,270.39 L911.0,270.39 L911.5,270.39 L912.0,270.39 L912.5,270.39 L913.0,270.39 L913.5,270.39 L914.0,270.39 L914.5,270.39 L915.0,270.39 L915.5,270.39 L916.0,270.39 L916.5,270.39 L917.0,270.39 L917.5,270.39 L918.0,270.39 L918.5,270.39 L919.0,270.39 L919.5,270.39 L920.0,270.39 L920.5,270.39 L921.0,270.39 L921.5,270.39 L922.0,270.39 L922.5,270.39 L923.0,270.39 L923.5,270.39 L924.0,270.39 L924.5,270.39 L925.0,270.39 L925.5,270.39 L926.0,270.39 L926.5,270.39 L927.0,270.39 L927.5,270.39 L928.0,270.39 L928.5,270.39 L929.0,270.39 L929.5,270.39 L930.0,270.39 L930.5,270.39 L931.0,270.39 L931.5,270.39 L932.0,270.39 L932.5,270.39 L933.0,270.39 L933.5,270.39 L934.0,270.39 L934.5,270.39 L935.0,270.39 L935.5,270.39 L936.0,270.39 L936.5,270.39 L937.0,270.39 L937.5,270.39 L938.0,270.39 L938.5,270.39 L939.0,270.39 L939.5,270.39 L940.0,270.39 L940.5,270.39 L941.0,270.39 L941.5,270.39 L942.0,270.38 L942.5,270.36 L943.0,270.34 L943.5,270.31 L944.0,270.27 L944.5,270.23 L945.0,270.19 L945.5,270.14 L946.0,270.08 L946.5,270.02 L947.0,269.96 L947.5,269.90 L948.0,269.83 L948.5,269.76 L949.0,269.69 L949.5,269.62 L950.0,269.54 L950.5,269.47 L951.0,269.39 L951.5,269.32 L952.0,269.24 L952.5,269.17 L953.0,269.10 L953.5,269.03 L954.0,268.96 L954.5,268.89 L955.0,268.83 L955.5,268.77 L956.0,268.71 L956.5,268.65 L957.0,268.60 L957.5,268.56 L958.0,268.52 L958.5,268.48 L959.0,268.45 L959.5,268.43 L960.0,268.41 L960.5,268.40 L961.0,268.39 L961.5,268.40 L962.0,268.41 L962.5,268.42 L963.0,268.44 L963.5,268.46 L964.0,268.49 L964.5,268.52 L965.0,268.56 L965.5,268.59 L966.0,268.64 L966.5,268.68 L967.0,268.73 L967.5,268.78 L968.0,268.84 L968.5,268.89 L969.0,268.95 L969.5,269.01 L970.0,269.07 L970.5,269.14 L971.0,269.20 L971.5,269.26 L972.0,269.33 L972.5,269.39 L973.0,269.46 L973.5,269.53 L974.0,269.59 L974.5,269.65 L975.0,269.72 L975.5,269.78 L976.0,269.84 L976.5,269.90 L977.0,269.95 L977.5,270.01 L978.0,270.06 L978.5,270.11 L979.0,270.15 L979.5,270.20 L980.0,270.23 L980.5,270.27 L981.0,270.30 L981.5,270.33 L982.0,270.35 L982.5,270.37 L983.0,270.38 L983.5,270.39 L984.0,270.39 L984.5,270.39 L985.0,270.39 L985.5,270.38 L986.0,270.36 L986.5,270.35 L987.0,270.33 L987.5,270.31 L988.0,270.28 L988.5,270.26 L989.0,270.23 L989.5,270.20 L990.0,270.16 L990.5,270.13 L991.0,270.09 L991.5,270.05 L992.0,270.01 L992.5,269.96 L993.0,269.92 L993.5,269.87 L994.0,269.81 L994.5,269.76 L995.0,269.70 L995.5,269.64 L996.0,269.57 L996.5,269.50 L997.0,269.42 L997.5,269.34 L998.0,269.24 L998.5,269.14 L999.0,269.03 L999.5,268.90 L1000.0,268.76 L1000.5,268.59 L1001.0,268.41 L1001.5,268.20 L1002.0,267.96 L1002.5,267.69 L1003.0,267.38 L1003.5,267.03 L1004.0,266.64 L1004.5,266.20 L1005.0,265.70 L1005.5,265.14 L1006.0,264.51 L1006.5,263.81 L1007.0,263.03 L1007.5,262.16 L1008.0,261.21 L1008.5,260.15 L1009.0,258.98 L1009.5,257.71 L1010.0,256.31 L1010.5,254.78 L1011.0,253.12 L1011.5,251.32 L1012.0,249.37 L1012.5,247.27 L1013.0,245.02 L1013.5,242.60 L1014.0,240.02 L1014.5,237.28 L1015.0,234.37 L1015.5,231.30 L1016.0,228.06 L1016.5,224.67 L1017.0,221.12 L1017.5,217.42 L1018.0,213.59 L1018.5,209.62 L1019.0,205.54 L1019.5,201.35 L1020.0,197.08 L1020.5,192.73 L1021.0,188.33 L1021.5,183.90 L1022.0,179.45 L1022.5,175.02 L1023.0,170.62 L1023.5,166.29 L1024.0,162.04 L1024.5,157.90 L1025.0,153.90 L1025.5,150.06 L1026.0,146.41 L1026.5,142.98 L1027.0,139.78 L1027.5,136.84 L1028.0,134.19 L1028.5,131.83 L1029.0,129.79 L1029.5,128.09 L1030.0,126.73 L1030.5,125.73 L1031.0,125.09 L1031.5,124.82 L1032.0,124.91 L1032.5,125.36 L1033.0,126.15 L1033.5,127.27 L1034.0,128.72 L1034.5,130.46 L1035.0,132.47 L1035.5,134.74 L1036.0,137.22 L1036.5,139.91 L1037.0,142.75 L1037.5,145.74 L1038.0,148.84 L1038.5,152.02 L1039.0,155.27 L1039.5,158.55 L1040.0,161.85 L1040.5,165.15 L1041.0,168.43 L1041.5,171.68 L1042.0,174.89 L1042.5,178.05 L1043.0,181.14 L1043.5,184.17 L1044.0,187.11 L1044.5,189.98 L1045.0,192.77 L1045.5,195.47 L1046.0,198.08 L1046.5,200.61 L1047.0,203.05 L1047.5,205.40 L1048.0,207.67 L1048.5,209.85 L1049.0,211.95 L1049.5,213.96 L1050.0,215.90 L1050.5,217.76 L1051.0,219.54 L1051.5,221.25 L1052.0,222.89 L1052.5,224.46 L1053.0,225.96 L1053.5,227.41 L1054.0,228.79 L1054.5,230.11 L1055.0,231.37 L1055.5,232.58 L1056.0,233.74 L1056.5,234.85 L1057.0,235.92 L1057.5,236.93 L1058.0,237.91 L1058.5,238.84 L1059.0,239.73 L1059.5,240.59 L1060.0,241.40 L1060.5,242.19 L1061.0,242.94 L1061.5,243.66 L1062.0,244.35 L1062.5,245.02 L1063.0,245.65 L1063.5,246.26 L1064.0,246.85 L1064.5,247.41 L1065.0,247.95 L1065.5,248.47 L1066.0,248.97 L1066.5,249.45 L1067.0,249.92 L1067.5,250.36 L1068.0,250.79 L1068.5,251.21 L1069.0,251.60 L1069.5,251.99 L1070.0,252.36 L1070.5,252.72 L1071.0,253.07 L1071.5,253.40 L1072.0,253.72 L1072.5,254.04 L1073.0,254.34 L1073.5,254.63 L1074.0,254.91 L1074.5,255.19 L1075.0,255.45 L1075.5,255.71 L1076.0,255.96 L1076.5,256.20 L1077.0,256.44 L1077.5,256.66 L1078.0,256.88 L1078.5,257.10 L1079.0,257.31 L1079.5,257.51 L1080.0,257.71 L1080.5,257.90 L1081.0,258.08 L1081.5,258.27 L1082.0,258.44 L1082.5,258.61 L1083.0,258.78 L1083.5,258.94 L1084.0,259.10 L1084.5,259.26 L1085.0,259.41 L1085.5,259.55 L1086.0,259.70 L1086.5,259.83 L1087.0,259.97 L1087.5,260.10 L1088.0,260.23 L1088.5,260.36 L1089.0,260.48 L1089.5,260.60 L1090.0,260.72 L1090.5,260.83 L1091.0,260.95 L1091.5,261.06 L1092.0,261.16 L1092.5,261.27 L1093.0,261.37 L1093.5,261.47 L1094.0,261.57 L1094.5,261.66 L1095.0,261.76 L1095.5,261.85 L1096.0,261.94 L1096.5,262.03 L1097.0,262.11 L1097.5,262.20 L1098.0,262.28 L1098.5,262.36 L1099.0,262.44 L1099.5,262.52 L1100.0,262.60 L1100.5,262.67 L1101.0,262.75 L1101.5,262.82 L1102.0,262.89 L1102.5,262.97 L1103.0,263.04 L1103.5,263.11 L1104.0,263.18 L1104.5,263.25 L1105.0,263.32 L1105.5,263.38 L1106.0,263.45 L1106.5,263.52 L1107.0,263.59 L1107.5,263.65 L1108.0,263.72 L1108.5,263.78 L1109.0,263.85 L1109.5,263.91 L1110.0,263.98 L1110.5,264.04 L1111.0,264.10 L1111.5,264.16 L1112.0,264.23 L1112.5,264.29 L1113.0,264.35 L1113.5,264.41 L1114.0,264.47 L1114.5,264.53 L1115.0,264.59 L1115.5,264.65 L1116.0,264.71 L1116.5,264.77 L1117.0,264.83 L1117.5,264.89 L1118.0,264.95 L1118.5,265.01 L1119.0,265.06 L1119.5,265.12 L1120.0,265.18 L1120.5,265.24 L1121.0,265.29 L1121.5,265.35 L1122.0,265.41 L1122.5,265.46 L1123.0,265.52 L1123.5,265.57 L1124.0,265.63 L1124.5,265.69 L1125.0,265.74 L1125.5,265.80 L1126.0,265.85 L1126.5,265.91 L1127.0,265.96 L1127.5,266.01 L1128.0,266.07 L1128.5,266.12 L1129.0,266.17 L1129.5,266.23 L1130.0,266.28 L1130.5,266.33 L1131.0,266.39 L1131.5,266.44 L1132.0,266.49 L1132.5,266.54 L1133.0,266.59 L1133.5,266.65 L1134.0,266.70 L1134.5,266.75 L1135.0,266.80 L1135.5,266.85 L1136.0,266.90 L1136.5,266.95 L1137.0,267.00 L1137.5,267.05 L1138.0,267.10 L1138.5,267.15 L1139.0,267.20 L1139.5,267.24 L1140.0,267.29 L1140.5,267.34 L1141.0,267.39 L1141.5,267.44 L1142.0,267.48 L1142.5,267.53 L1143.0,267.58 L1143.5,267.62 L1144.0,267.67 L1144.5,267.71 L1145.0,267.76 L1145.5,267.81 L1146.0,267.85 L1146.5,267.89 L1147.0,267.94 L1147.5,267.98 L1148.0,268.03 L1148.5,268.07 L1149.0,268.11 L1149.5,268.15 L1150.0,268.20 L1150.5,268.24 L1151.0,268.28 L1151.5,268.32 L1152.0,268.36 L1152.5,268.40 L1153.0,268.44 L1153.5,268.48 L1154.0,268.52 L1154.5,268.56 L1155.0,268.59 L1155.5,268.63 L1156.0,268.67 L1156.5,268.71 L1157.0,268.74 L1157.5,268.78 L1158.0,268.81 L1158.5,268.85 L1159.0,268.88 L1159.5,268.92 L1160.0,268.95 L1160.5,268.98 L1161.0,269.02 L1161.5,269.05 L1162.0,269.08 L1162.5,269.11 L1163.0,269.14 L1163.5,269.17 L1164.0,269.20 L1164.5,269.23 L1165.0,269.26 L1165.5,269.28 L1166.0,269.31 L1166.5,269.34 L1167.0,269.36 L1167.5,269.39 L1168.0,269.41 L1168.5,269.44 L1169.0,269.46 L1169.5,269.49 L1170.0,269.51 L1170.5,269.53 L1171.0,269.55 L1171.5,269.57 L1172.0,269.59 L1172.5,269.61 L1173.0,269.63 L1173.5,269.65 L1174.0,269.66 L1174.5,269.68 L1175.0,269.70 L1175.5,269.71 L1176.0,269.72 L1176.5,269.74 L1177.0,269.75 L1177.5,269.76 L1178.0,269.77 L1178.5,269.79 L1179.0,269.79 L1179.5,269.80 L1180.0,269.81 L1180.5,269.82 L1181.0,269.83 L1181.5,269.83 L1182.0,269.84 L1182.5,269.85 L1183.0,269.86 L1183.5,269.86 L1184.0,269.87 L1184.5,269.87 L1185.0,269.88 L1185.5,269.88 L1186.0,269.89 L1186.5,269.89 L1187.0,269.90 L1187.5,269.90 L1188.0,269.91 L1188.5,269.91 L1189.0,269.91 L1189.5,269.92 L1190.0,269.92 L1190.5,269.92 L1191.0,269.93 L1191.5,269.93 L1192.0,269.93 L1192.5,269.93 L1193.0,269.94 L1193.5,269.94 L1194.0,269.94 L1194.5,269.94 L1195.0,269.94 L1195.5,269.94 L1196.0,269.95 L1196.5,269.95 L1197.0,269.95 L1197.5,269.95 L1198.0,269.95 L1198.5,269.95 L1199.0,269.95 L1199.5,269.95 L1200.0,269.95 L1200.5,269.95 L1201.0,269.95 L1201.5,269.95 L1202.0,269.95 L1202.5,269.94 L1203.0,269.94 L1203.5,269.94 L1204.0,269.94 L1204.5,269.94 L1205.0,269.94 L1205.5,269.94 L1206.0,269.93 L1206.5,269.93 L1207.0,269.93 L1207.5,269.93 L1208.0,269.93 L1208.5,269.92 L1209.0,269.92 L1209.5,269.92 L1210.0,269.92 L1210.5,269.91 L1211.0,269.91 L1211.5,269.91 L1212.0,269.90 L1212.5,269.90 L1213.0,269.90 L1213.5,269.89 L1214.0,269.89 L1214.5,269.89 L1215.0,269.88 L1215.5,269.88 L1216.0,269.88 L1216.5,269.87 L1217.0,269.87 L1217.5,269.87 L1218.0,269.86 L1218.5,269.86 L1219.0,269.85 L1219.5,269.85 L1220.0,269.85 L1220.5,269.84 L1221.0,269.84 L1221.5,269.83 L1222.0,269.83 L1222.5,269.83 L1223.0,269.82 L1223.5,269.82 L1224.0,269.81 L1224.5,269.81 L1225.0,269.81 L1225.5,269.80 L1226.0,269.80 L1226.5,269.79 L1227.0,269.79 L1227.5,269.78 L1228.0,269.78 L1228.5,269.78 L1229.0,269.77 L1229.5,269.77 L1230.0,269.76 L1230.5,269.76 L1231.0,269.75 L1231.5,269.75 L1232.0,269.75 L1232.5,269.74 L1233.0,269.74 L1233.5,269.73 L1234.0,269.73 L1234.5,269.72 L1235.0,269.71 L1235.5,269.71 L1236.0,269.70 L1236.5,269.70 L1237.0,269.69 L1237.5,269.68 L1238.0,269.67 L1238.5,269.67 L1239.0,269.66 L1239.5,269.65 L1240.0,269.64 L1240.5,269.63 L1241.0,269.62 L1241.5,269.61 L1242.0,269.61 L1242.5,269.60 L1243.0,269.59 L1243.5,269.58 L1244.0,269.57 L1244.5,269.56 L1245.0,269.55 L1245.5,269.54 L1246.0,269.53 L1246.5,269.51 L1247.0,269.50 L1247.5,269.49 L1248.0,269.48 L1248.5,269.47 L1249.0,269.46 L1249.5,269.45 L1250.0,269.44 L1250.5,269.43 L1251.0,269.41 L1251.5,269.40 L1252.0,269.39 L1252.5,269.38 L1253.0,269.37 L1253.5,269.35 L1254.0,269.34 L1254.5,269.33 L1255.0,269.32 L1255.5,269.31 L1256.0,269.29 L1256.5,269.28 L1257.0,269.27 L1257.5,269.26 L1258.0,269.25 L1258.5,269.23 L1259.0,269.22 L1259.5,269.21 L1260.0,269.20 L1260.5,269.19 L1261.0,269.17 L1261.5,269.16 L1262.0,269.15 L1262.5,269.14 L1263.0,269.13 L1263.5,269.12 L1264.0,269.11 L1264.5,269.09 L1265.0,269.08 L1265.5,269.07 L1266.0,269.06 L1266.5,269.05 L1267.0,269.04 L1267.5,269.03 L1268.0,269.02 L1268.5,269.01 L1269.0,269.00 L1269.5,268.99 L1270.0,268.98 L1270.5,268.97 L1271.0,268.96 L1271.5,268.95 L1272.0,268.94 L1272.5,268.93 L1273.0,268.92 L1273.5,268.92 L1274.0,268.91 L1274.5,268.90 L1275.0,268.89 L1275.5,268.89 L1276.0,268.88 L1276.5,268.87 L1277.0,268.86 L1277.5,268.86 L1278.0,268.85 L1278.5,268.85 L1279.0,268.84 L1279.5,268.84 L1280.0,268.83 L1280.5,268.83 L1281.0,268.82 L1281.5,268.82 L1282.0,268.81 L1282.5,268.81 L1283.0,268.81 L1283.5,268.81 L1284.0,268.80 L1284.5,268.80 L1285.0,268.80 L1285.5,268.80 L1286.0,268.80 L1286.5,268.80 L1287.0,268.80 L1287.5,268.80 L1288.0,268.80 L1288.5,268.80 L1289.0,268.80 L1289.5,268.81 L1290.0,268.83 L1290.5,268.84 L1291.0,268.87 L1291.5,268.89 L1292.0,268.92 L1292.5,268.96 L1293.0,268.99 L1293.5,269.03 L1294.0,269.07 L1294.5,269.11 L1295.0,269.15 L1295.5,269.19 L1296.0,269.23 L1296.5,269.27 L1297.0,269.31 L1297.5,269.34 L1298.0,269.38 L1298.5,269.41 L1299.0,269.44 L1299.5,269.47 L1300.0,269.49 L1300.5,269.51 L1301.0,269.53 L1301.5,269.53 L1302.0,269.54 L1302.5,269.54 L1303.0,269.54 L1303.5,269.54 L1304.0,269.54 L1304.5,269.55 L1305.0,269.55 L1305.5,269.55 L1306.0,269.55 L1306.5,269.55 L1307.0,269.55 L1307.5,269.55 L1308.0,269.55 L1308.5,269.56 L1309.0,269.56 L1309.5,269.56 L1310.0,269.56 L1310.5,269.56 L1311.0,269.56 L1311.5,269.56 L1312.0,269.56 L1312.5,269.57 L1313.0,269.57 L1313.5,269.57 L1314.0,269.57 L1314.5,269.57 L1315.0,269.57 L1315.5,269.57 L1316.0,269.57 L1316.5,269.57 L1317.0,269.58 L1317.5,269.58 L1318.0,269.58 L1318.5,269.58 L1319.0,269.58 L1319.5,269.58 L1320.0,269.58 L1320.5,269.58 L1321.0,269.58 L1321.5,269.59 L1322.0,269.59 L1322.5,269.59 L1323.0,269.59 L1323.5,269.59 L1324.0,269.59 L1324.5,269.59 L1325.0,269.59 L1325.5,269.59 L1326.0,269.60 L1326.5,269.60 L1327.0,269.60 L1327.5,269.60 L1328.0,269.60 L1328.5,269.60 L1329.0,269.60 L1329.5,269.60 L1330.0,269.60 L1330.5,269.60 L1331.0,269.61 L1331.5,269.61 L1332.0,269.61 L1332.5,269.61 L1333.0,269.61 L1333.5,269.61 L1334.0,269.61 L1334.5,269.61 L1335.0,269.61 L1335.5,269.61 L1336.0,269.61 L1336.5,269.62 L1337.0,269.62 L1337.5,269.62 L1338.0,269.62 L1338.5,269.62 L1339.0,269.62 L1339.5,269.62 L1340.0,269.62 L1340.5,269.62 L1341.0,269.62 L1341.5,269.62 L1342.0,269.63 L1342.5,269.63 L1343.0,269.63 L1343.5,269.63 L1344.0,269.63 L1344.5,269.63 L1345.0,269.63 L1345.5,269.63 L1346.0,269.63 L1346.5,269.63 L1347.0,269.63 L1347.5,269.64 L1348.0,269.64 L1348.5,269.64 L1349.0,269.64 L1349.5,269.64 L1350.0,269.64 L1350.5,269.64 L1351.0,269.64 L1351.5,269.64 L1352.0,269.64 L1352.5,269.64 L1353.0,269.64 L1353.5,269.64 L1354.0,269.65 L1354.5,269.65 L1355.0,269.65 L1355.5,269.65 L1356.0,269.65 L1356.5,269.65 L1357.0,269.65 L1357.5,269.65 L1358.0,269.65 L1358.5,269.65 L1359.0,269.65 L1359.5,269.65 L1360.0,269.65 L1360.5,269.66 L1361.0,269.66 L1361.5,269.66 L1362.0,269.66 L1362.5,269.66 L1363.0,269.66 L1363.5,269.66 L1364.0,269.66 L1364.5,269.66 L1365.0,269.66 L1365.5,269.66 L1366.0,269.66 L1366.5,269.66 L1367.0,269.66 L1367.5,269.67 L1368.0,269.67 L1368.5,269.67 L1369.0,269.67 L1369.5,269.67 L1370.0,269.67 L1370.5,269.67 L1371.0,269.67 L1371.5,269.67 L1372.0,269.67 L1372.5,269.67 L1373.0,269.67 L1373.5,269.67 L1374.0,269.67 L1374.5,269.67 L1375.0,269.68 L1375.5,269.68 L1376.0,269.68 L1376.5,269.68 L1377.0,269.68 L1377.5,269.68 L1378.0,269.68 L1378.5,269.68 L1379.0,269.68 L1379.5,269.68 L1380.0,269.68 L1380.5,269.68 L1381.0,269.68 L1381.5,269.68 L1382.0,269.68 L1382.5,269.69 L1383.0,269.69 L1383.5,269.69 L1384.0,269.69 L1384.5,269.69 L1385.0,269.69 L1385.5,269.69 L1386.0,269.69 L1386.5,269.69 L1387.0,269.69 L1387.5,269.69 L1388.0,269.69 L1388.5,269.69 L1389.0,269.69 L1389.5,269.69 L1390.0,269.69 L1390.5,269.69 L1391.0,269.70 L1391.5,269.70 L1392.0,269.70 L1392.5,269.70 L1393.0,269.70 L1393.5,269.70 L1394.0,269.70 L1394.5,269.70 L1395.0,269.70 L1395.5,269.70 L1396.0,269.70 L1396.5,269.70 L1397.0,269.70 L1397.5,269.70 L1398.0,269.70 L1398.5,269.70 L1399.0,269.70 L1399.5,269.70 L1400.0,269.70 L1400.5,269.71 L1401.0,269.71 L1401.5,269.71 L1402.0,269.71 L1402.5,269.71 L1403.0,269.71 L1403.5,269.71 L1404.0,269.71 L1404.5,269.71 L1405.0,269.71 L1405.5,269.71 L1406.0,269.71 L1406.5,269.71 L1407.0,269.71 L1407.5,269.71 L1408.0,269.71 L1408.5,269.71 L1409.0,269.71 L1409.5,269.71 L1410.0,269.71 L1410.5,269.72 L1411.0,269.72 L1411.5,269.72 L1412.0,269.72 L1412.5,269.72 L1413.0,269.72 L1413.5,269.72 L1414.0,269.72 L1414.5,269.72 L1415.0,269.72 L1415.5,269.72 L1416.0,269.72 L1416.5,269.72 L1417.0,269.72 L1417.5,269.72 L1418.0,269.72 L1418.5,269.72 L1419.0,269.72 L1419.5,269.72 L1420.0,269.72 L1420.5,269.72 L1421.0,269.72 L1421.5,269.72 L1422.0,269.72 L1422.5,269.73 L1423.0,269.73 L1423.5,269.73 L1424.0,269.73 L1424.5,269.73 L1425.0,269.73 L1425.5,269.73 L1426.0,269.73 L1426.5,269.73 L1427.0,269.73 L1427.5,269.73 L1428.0,269.73 L1428.5,269.73 L1429.0,269.73 L1429.5,269.73 L1430.0,269.73 L1430.5,269.73 L1431.0,269.73 L1431.5,269.73 L1432.0,269.73 L1432.5,269.73 L1433.0,269.73 L1433.5,269.73 L1434.0,269.73 L1434.5,269.73 L1435.0,269.73 L1435.5,269.73 L1436.0,269.73 L1436.5,269.73 L1437.0,269.74 L1437.5,269.74 L1438.0,269.74 L1438.5,269.74 L1439.0,269.74 L1439.5,269.74 L1440.0,269.74 L1440.5,269.74 L1441.0,269.74 L1441.5,269.74 L1442.0,269.74 L1442.5,269.74 L1443.0,269.74 L1443.5,269.74 L1444.0,269.74 L1444.5,269.74 L1445.0,269.74 L1445.5,269.74 L1446.0,269.74 L1446.5,269.74 L1447.0,269.74 L1447.5,269.74 L1448.0,269.74 L1448.5,269.74 L1449.0,269.74 L1449.5,269.74 L1450.0,269.74 L1450.5,269.74 L1451.0,269.74 L1451.5,269.74 L1452.0,269.74 L1452.5,269.74 L1453.0,269.74 L1453.5,269.74 L1454.0,269.74 L1454.5,269.74 L1455.0,269.74 L1455.5,269.74 L1456.0,269.75 L1456.5,269.75 L1457.0,269.75 L1457.5,269.75 L1458.0,269.75 L1458.5,269.75 L1459.0,269.75 L1459.5,269.75 L1460.0,269.75 L1460.5,269.75 L1461.0,269.75 L1461.5,269.75 L1462.0,269.75 L1462.5,269.75 L1463.0,269.75 L1463.5,269.75 L1464.0,269.75 L1464.5,269.75 L1465.0,269.75 L1465.5,269.75 L1466.0,269.75 L1466.5,269.75 L1467.0,269.75 L1467.5,269.75 L1468.0,269.75 L1468.5,269.75 L1469.0,269.75 L1469.5,269.75 L1470.0,269.75 L1470.5,269.75 L1471.0,269.75 L1471.5,269.75 L1472.0,269.75 L1472.5,269.75 L1473.0,269.75 L1473.5,269.75 L1474.0,269.75 L1474.5,269.75 L1475.0,269.75 L1475.5,269.75 L1476.0,269.75 L1476.5,269.75 L1477.0,269.75 L1477.5,269.75 L1478.0,269.75 L1478.5,269.75 L1479.0,269.75 L1479.5,269.75 L1480.0,269.75 L1480.5,269.75 L1481.0,269.75 L1481.5,269.75 L1482.0,269.75 L1482.5,269.75 L1483.0,269.75 L1483.5,269.75 L1484.0,269.75 L1484.5,269.75 L1485.0,269.75 L1485.5,269.75 L1486.0,269.75 L1486.5,269.75 L1487.0,269.75 L1487.5,269.75 L1488.0,269.75 L1488.5,269.75 L1489.0,269.76 L1489.5,269.76 L1490.0,269.76 L1490.5,269.76 L1491.0,269.76 L1491.5,269.76 L1492.0,269.76 L1492.5,269.76 L1493.0,269.76 L1493.5,269.76 L1494.0,269.76 L1494.5,269.76 L1495.0,269.76 L1495.5,269.76 L1496.0,269.76 L1496.5,269.76 L1497.0,269.76 L1497.5,269.76 L1498.0,269.76 L1498.5,269.76 L1499.0,269.76 L1499.5,269.76 L1500.0,269.76 L1500.5,269.76 L1501.0,269.76 L1501.5,269.76 L1502.0,269.76 L1502.5,269.76 L1503.0,269.76 L1503.5,269.76 L1504.0,269.76 L1504.5,269.76 L1505.0,269.76 L1505.5,269.76 L1506.0,269.76 L1506.5,269.76 L1507.0,269.76 L1507.5,269.76 L1508.0,269.76 L1508.5,269.76 L1509.0,269.76 L1509.5,269.76 L1510.0,269.76 L1510.5,269.76 L1511.0,269.76 L1511.5,269.76 L1512.0,269.76 L1512.5,269.76 L1513.0,269.76 L1513.5,269.76 L1514.0,269.76 L1514.5,269.76 L1515.0,269.76 L1515.5,269.76 L1516.0,269.76 L1516.5,269.76 L1517.0,269.76 L1517.5,269.76 L1518.0,269.76 L1518.5,269.76 L1519.0,269.76 L1519.5,269.76 L1520.0,269.76 L1520.5,269.76 L1521.0,269.76 L1521.5,269.76 L1522.0,269.76 L1522.5,269.76 L1523.0,269.76 L1523.5,269.76 L1524.0,269.76 L1524.5,269.76 L1525.0,269.76 L1525.5,269.76 L1526.0,269.76 L1526.5,269.76 L1527.0,269.76 L1527.5,269.76 L1528.0,269.76 L1528.5,269.76 L1529.0,269.76 L1529.5,269.76 L1530.0,269.76 L1530.5,269.76 L1531.0,269.76 L1531.5,269.76 L1532.0,269.76 L1532.5,269.76 L1533.0,269.76 L1533.5,269.76 L1534.0,269.76 L1534.5,269.76 L1535.0,269.76 L1535.5,269.76 L1536.0,269.76 L1536.5,269.76 L1537.0,269.76 L1537.5,269.76 L1538.0,269.76 L1538.5,269.76 L1539.0,269.76 L1539.5,269.76 L1540.0,269.76 L1540.5,269.76 L1541.0,269.76 L1541.5,269.76 L1542.0,269.76 L1542.5,269.76 L1543.0,269.76 L1543.5,269.76 L1544.0,269.76 L1544.5,269.76 L1545.0,269.76 L1545.5,269.76 L1546.0,269.76 L1546.5,269.76 L1547.0,269.76 L1547.5,269.76 L1548.0,269.75 L1548.5,269.75 L1549.0,269.75 L1549.5,269.75 L1550.0,269.75 L1550.5,269.75 L1551.0,269.75 L1551.5,269.75 L1552.0,269.75 L1552.5,269.75 L1553.0,269.75 L1553.5,269.75 L1554.0,269.75 L1554.5,269.75 L1555.0,269.75 L1555.5,269.75 L1556.0,269.75 L1556.5,269.75 L1557.0,269.75 L1557.5,269.75 L1558.0,269.75 L1558.5,269.75 L1559.0,269.75 L1559.5,269.75 L1560.0,269.75 L1560.5,269.75 L1561.0,269.75 L1561.5,269.75 L1562.0,269.75 L1562.5,269.75 L1563.0,269.75 L1563.5,269.75 L1564.0,269.75 L1564.5,269.75 L1565.0,269.75 L1565.5,269.75 L1566.0,269.75 L1566.5,269.75 L1567.0,269.75 L1567.5,269.75 L1568.0,269.75 L1568.5,269.75 L1569.0,269.75 L1569.5,269.75 L1570.0,269.75 L1570.5,269.75 L1571.0,269.75 L1571.5,269.75 L1572.0,269.75 L1572.5,269.75 L1573.0,269.75 L1573.5,269.75 L1574.0,269.75 L1574.5,269.75 L1575.0,269.75 L1575.5,269.75 L1576.0,269.75 L1576.5,269.75 L1577.0,269.75 L1577.5,269.75 L1578.0,269.75 L1578.5,269.75 L1579.0,269.75 L1579.5,269.75 L1580.0,269.75 L1580.5,269.75 L1581.0,269.75 L1581.5,269.75 L1582.0,269.75 L1582.5,269.75 L1583.0,269.75 L1583.5,269.75 L1584.0,269.75 L1584.5,269.75 L1585.0,269.75 L1585.5,269.75 L1586.0,269.75 L1586.5,269.75 L1587.0,269.75 L1587.5,269.75 L1588.0,269.75 L1588.5,269.75 L1589.0,269.75 L1589.5,269.75 L1590.0,269.75 L1590.5,269.75 L1591.0,269.75 L1591.5,269.75 L1592.0,269.74 L1592.5,269.74 L1593.0,269.74 L1593.5,269.74 L1594.0,269.74 L1594.5,269.74 L1595.0,269.74 L1595.5,269.74 L1596.0,269.74 L1596.5,269.74 L1597.0,269.74 L1597.5,269.74 L1598.0,269.74 L1598.5,269.74 L1599.0,269.74 L1599.5,269.74 L1600.0,269.74 L1600.5,269.74 L1601.0,269.74 L1601.5,269.74 L1602.0,269.74 L1602.5,269.74 L1603.0,269.74 L1603.5,269.74 L1604.0,269.74 L1604.5,269.74 L1605.0,269.74 L1605.5,269.74 L1606.0,269.74 L1606.5,269.74 L1607.0,269.74 L1607.5,269.74 L1608.0,269.74 L1608.5,269.74 L1609.0,269.74 L1609.5,269.74 L1610.0,269.74 L1610.5,269.74 L1611.0,269.74 L1611.5,269.74 L1612.0,269.74 L1612.5,269.74 L1613.0,269.74 L1613.5,269.74 L1614.0,269.74 L1614.5,269.74 L1615.0,269.74 L1615.5,269.74 L1616.0,269.74 L1616.5,269.74 L1617.0,269.74 L1617.5,269.74 L1618.0,269.74 L1618.5,269.74 L1619.0,269.74 L1619.5,269.74 L1620.0,269.74 L1620.5,269.74 L1621.0,269.74 L1621.5,269.74 L1622.0,269.73 L1622.5,269.73 L1623.0,269.73 L1623.5,269.73 L1624.0,269.73 L1624.5,269.73 L1625.0,269.73 L1625.5,269.73 L1626.0,269.73 L1626.5,269.73 L1627.0,269.73 L1627.5,269.73 L1628.0,269.73 L1628.5,269.73 L1629.0,269.73 L1629.5,269.73 L1630.0,269.73 L1630.5,269.73 L1631.0,269.73 L1631.5,269.73 L1632.0,269.73 L1632.5,269.73 L1633.0,269.73 L1633.5,269.73 L1634.0,269.73 L1634.5,269.73 L1635.0,269.73 L1635.5,269.73 L1636.0,269.73 L1636.5,269.73 L1637.0,269.73 L1637.5,269.73 L1638.0,269.73 L1638.5,269.73 L1639.0,269.73 L1639.5,269.73 L1640.0,269.73 L1640.5,269.73 L1641.0,269.73 L1641.5,269.73 L1642.0,269.73 L1642.5,269.73 L1643.0,269.73 L1643.5,269.73 L1644.0,269.73 L1644.5,269.73 L1645.0,269.73 L1645.5,269.73 L1646.0,269.73 L1646.5,269.73 L1647.0,269.73 L1647.5,269.73 L1648.0,269.72 L1648.5,269.72 L1649.0,269.72 L1649.5,269.72 L1650.0,269.72 L1650.5,269.72 L1651.0,269.72 L1651.5,269.72 L1652.0,269.72 L1652.5,269.72 L1653.0,269.72 L1653.5,269.72 L1654.0,269.72 L1654.5,269.72 L1655.0,269.72 L1655.5,269.72 L1656.0,269.72 L1656.5,269.72 L1657.0,269.72 L1657.5,269.72 L1658.0,269.72 L1658.5,269.72 L1659.0,269.72 L1659.5,269.72 L1660.0,269.72 L1660.5,269.72 L1661.0,269.72 L1661.5,269.72 L1662.0,269.72 L1662.5,269.72 L1663.0,269.72 L1663.5,269.72 L1664.0,269.72 L1664.5,269.72 L1665.0,269.72 L1665.5,269.72 L1666.0,269.72 L1666.5,269.72 L1667.0,269.72 L1667.5,269.72 L1668.0,269.72 L1668.5,269.72 L1669.0,269.72 L1669.5,269.72 L1670.0,269.72 L1670.5,269.72 L1671.0,269.72 L1671.5,269.72 L1672.0,269.72 L1672.5,269.71 L1673.0,269.71 L1673.5,269.71 L1674.0,269.71 L1674.5,269.71 L1675.0,269.71 L1675.5,269.71 L1676.0,269.71 L1676.5,269.71 L1677.0,269.71 L1677.5,269.71 L1678.0,269.71 L1678.5,269.71 L1679.0,269.71 L1679.5,269.71 L1680.0,269.71 L1680.5,269.71 L1681.0,269.71 L1681.5,269.71 L1682.0,269.71 L1682.5,269.71 L1683.0,269.71 L1683.5,269.71 L1684.0,269.71 L1684.5,269.71 L1685.0,269.71 L1685.5,269.71 L1686.0,269.71 L1686.5,269.71 L1687.0,269.71 L1687.5,269.71 L1688.0,269.71 L1688.5,269.71 L1689.0,269.71 L1689.5,269.71 L1690.0,269.71 L1690.5,269.71 L1691.0,269.71 L1691.5,269.71 L1692.0,269.71 L1692.5,269.71 L1693.0,269.71 L1693.5,269.71 L1694.0,269.71 L1694.5,269.71 L1695.0,269.71 L1695.5,269.71 L1696.0,269.71 L1696.5,269.71 L1697.0,269.70 L1697.5,269.70 L1698.0,269.70 L1698.5,269.70 L1699.0,269.70 L1699.5,269.70 L1700.0,269.70 L1700.5,269.70 L1701.0,269.70 L1701.5,269.70 L1702.0,269.70 L1702.5,269.70 L1703.0,269.70 L1703.5,269.70 L1704.0,269.70 L1704.5,269.70 L1705.0,269.70 L1705.5,269.70 L1706.0,269.70 L1706.5,269.70 L1707.0,269.70 L1707.5,269.70 L1708.0,269.70 L1708.5,269.70 L1709.0,269.70 L1709.5,269.70 L1710.0,269.70 L1710.5,269.70 L1711.0,269.70 L1711.5,269.70 L1712.0,269.70 L1712.5,269.70 L1713.0,269.70 L1713.5,269.70 L1714.0,269.70 L1714.5,269.70 L1715.0,269.70 L1715.5,269.70 L1716.0,269.70 L1716.5,269.70 L1717.0,269.70 L1717.5,269.70 L1718.0,269.70 L1718.5,269.70 L1719.0,269.70 L1719.5,269.70 L1720.0,269.70 L1720.5,269.70 L1721.0,269.70 L1721.5,269.69 L1722.0,269.69 L1722.5,269.69 L1723.0,269.69 L1723.5,269.69 L1724.0,269.69 L1724.5,269.69 L1725.0,269.69 L1725.5,269.69 L1726.0,269.69 L1726.5,269.69 L1727.0,269.69 L1727.5,269.69 L1728.0,269.69 L1728.5,269.69 L1729.0,269.69 L1729.5,269.69 L1730.0,269.69 L1730.5,269.69 L1731.0,269.69 L1731.5,269.69 L1732.0,269.69 L1732.5,269.69 L1733.0,269.69 L1733.5,269.69 L1734.0,269.69 L1734.5,269.69 L1735.0,269.69 L1735.5,269.69 L1736.0,269.69 L1736.5,269.69 L1737.0,269.69 L1737.5,269.69 L1738.0,269.69 L1738.5,269.69 L1739.0,269.69 L1739.5,269.69 L1740.0,269.69 L1740.5,269.69 L1741.0,269.69 L1741.5,269.69 L1742.0,269.69 L1742.5,269.69 L1743.0,269.69 L1743.5,269.69 L1744.0,269.69 L1744.5,269.69 L1745.0,269.69 L1745.5,269.69 L1746.0,269.69 L1746.5,269.69 L1747.0,269.69 L1747.5,269.69 L1748.0,269.69 L1748.5,269.68 L1749.0,269.68 L1749.5,269.68 L1750.0,269.68 L1750.5,269.68 L1751.0,269.68 L1751.5,269.68 L1752.0,269.68 L1752.5,269.68 L1753.0,269.68 L1753.5,269.68 L1754.0,269.68 L1754.5,269.68 L1755.0,269.68 L1755.5,269.68 L1756.0,269.68 L1756.5,269.68 L1757.0,269.68 L1757.5,269.68 L1758.0,269.68 L1758.5,269.68 L1759.0,269.68 L1759.5,269.68 L1760.0,269.68 L1760.5,269.68 L1761.0,269.68 L1761.5,269.68 L1762.0,269.68 L1762.5,269.68 L1763.0,269.68 L1763.5,269.68 L1764.0,269.68 L1764.5,269.68 L1765.0,269.68 L1765.5,269.68 L1766.0,269.68 L1766.5,269.68 L1767.0,269.68 L1767.5,269.68 L1768.0,269.68 L1768.5,269.68 L1769.0,269.68 L1769.5,269.68 L1770.0,269.68 L1770.5,269.68 L1771.0,269.68 L1771.5,269.68 L1772.0,269.68 L1772.5,269.68 L1773.0,269.68 L1773.5,269.68 L1774.0,269.68 L1774.5,269.68 L1775.0,269.68 L1775.5,269.68 L1776.0,269.68 L1776.5,269.68 L1777.0,269.68 L1777.5,269.68 L1778.0,269.68 L1778.5,269.68 L1779.0,269.68 L1779.5,269.67 L1780.0,269.67 L1780.5,269.67 L1781.0,269.67 L1781.5,269.67 L1782.0,269.67 L1782.5,269.67 L1783.0,269.67 L1783.5,269.67 L1784.0,269.67 L1784.5,269.67 L1785.0,269.67 L1785.5,269.67 L1786.0,269.67 L1786.5,269.67 L1787.0,269.67 L1787.5,269.67 L1788.0,269.67 L1788.5,269.67 L1789.0,269.67 L1789.5,269.67 L1790.0,269.67 L1790.5,269.67 L1791.0,269.67 L1791.5,269.67 L1792.0,269.67 L1792.5,269.67 L1793.0,269.67 L1793.5,269.67 L1794.0,269.67 L1794.5,269.67 L1795.0,269.67 L1795.5,269.67 L1796.0,269.67 L1796.5,269.67 L1797.0,269.67 L1797.5,269.67 L1798.0,269.67 L1798.5,269.67 L1799.0,269.67 L1799.5,269.67 L1800.0,269.67 L1800.5,269.67 L1801.0,269.67 L1801.5,269.67 L1802.0,269.67 L1802.5,269.67 L1803.0,269.67 L1803.5,269.67 L1804.0,269.67 L1804.5,269.67 L1805.0,269.67 L1805.5,269.67 L1806.0,269.67 L1806.5,269.67 L1807.0,269.67 L1807.5,269.67 L1808.0,269.67 L1808.5,269.67 L1809.0,269.67 L1809.5,269.67 L1810.0,269.67 L1810.5,269.67 L1811.0,269.67 L1811.5,269.67 L1812.0,269.67 L1812.5,269.67 L1813.0,269.67 L1813.5,269.67 L1814.0,269.67 L1814.5,269.67 L1815.0,269.67 L1815.5,269.67 L1816.0,269.67 L1816.5,269.67 L1817.0,269.67 L1817.5,269.67 L1818.0,269.67 L1818.5,269.67 L1819.0,269.67 L1819.5,269.67 L1820.0,269.67 L1820.5,269.67 L1821.0,269.67 L1821.5,269.67 L1822.0,269.67 L1822.5,269.67 L1823.0,269.67 L1823.5,269.67 L1824.0,269.66 L1824.5,269.66 L1825.0,269.66 L1825.5,269.66 L1826.0,269.66 L1826.5,269.66 L1827.0,269.66 L1827.5,269.66 L1828.0,269.66 L1828.5,269.66 L1829.0,269.66 L1829.5,269.66 L1830.0,269.66 L1830.5,269.66 L1831.0,269.66 L1831.5,269.66 L1832.0,269.66 L1832.5,269.66 L1833.0,269.66 L1833.5,269.66 L1834.0,269.66 L1834.5,269.66 L1835.0,269.66 L1835.5,269.66 L1836.0,269.66 L1836.5,269.66 L1837.0,269.66 L1837.5,269.66 L1838.0,269.66 L1838.5,269.66 L1839.0,269.66 L1839.5,269.66 L1840.0,269.66 L1840.5,269.66 L1841.0,269.66 L1841.5,269.66 L1842.0,269.66 L1842.5,269.66 L1843.0,269.66 L1843.5,269.66 L1844.0,269.66 L1844.5,269.66 L1845.0,269.66 L1845.5,269.66 L1846.0,269.66 L1846.5,269.66 L1847.0,269.66 L1847.5,269.66 L1848.0,269.66 L1848.5,269.66 L1849.0,269.66 L1849.5,269.66 L1850.0,269.66 L1850.5,269.66 L1851.0,269.66 L1851.5,269.66 L1852.0,269.66 L1852.5,269.66 L1853.0,269.66 L1853.5,269.66 L1854.0,269.66 L1854.5,269.66 L1855.0,269.66 L1855.5,269.66 L1856.0,269.66 L1856.5,269.66 L1857.0,269.66 L1857.5,269.66 L1858.0,269.66 L1858.5,269.66 L1859.0,269.66 L1859.5,269.66 L1860.0,269.66 L1860.5,269.66 L1861.0,269.66 L1861.5,269.66 L1862.0,269.66 L1862.5,269.66 L1863.0,269.66 L1863.5,269.66 L1864.0,269.66 L1864.5,269.66 L1865.0,269.66 L1865.5,269.66 L1866.0,269.66 L1866.5,269.66 L1867.0,269.66 L1867.5,269.66 L1868.0,269.66 L1868.5,269.66 L1869.0,269.66 L1869.5,269.66 L1870.0,269.66 L1870.5,269.66 L1871.0,269.66 L1871.5,269.66 L1872.0,269.66 L1872.5,269.66 L1873.0,269.66 L1873.5,269.66 L1874.0,269.66 L1874.5,269.66 L1875.0,269.66 L1875.5,269.66 L1876.0,269.66 L1876.5,269.66 L1877.0,269.66 L1877.5,269.66 L1878.0,269.65 L1878.5,269.65 L1879.0,269.65 L1879.5,269.65 L1880.0,269.65 L1880.5,269.65 L1881.0,269.64 L1881.5,269.64 L1882.0,269.64 L1882.5,269.63 L1883.0,269.63 L1883.5,269.62 L1884.0,269.62 L1884.5,269.61 L1885.0,269.60 L1885.5,269.60 L1886.0,269.59 L1886.5,269.58 L1887.0,269.57 L1887.5,269.56 L1888.0,269.54 L1888.5,269.53 L1889.0,269.51 L1889.5,269.50 L1890.0,269.48 L1890.5,269.46 L1891.0,269.43 L1891.5,269.41 L1892.0,269.38 L1892.5,269.36 L1893.0,269.33 L1893.5,269.29 L1894.0,269.26 L1894.5,269.22 L1895.0,269.18 L1895.5,269.14 L1896.0,269.09 L1896.5,269.05 L1897.0,269.00 L1897.5,268.94 L1898.0,268.89 L1898.5,268.83 L1899.0,268.77 L1899.5,268.71 L1900.0,268.65 L1900.5,268.58 L1901.0,268.51 L1901.5,268.44 L1902.0,268.37 L1902.5,268.29 L1903.0,268.22 L1903.5,268.14 L1904.0,268.07 L1904.5,267.99 L1905.0,267.91 L1905.5,267.84 L1906.0,267.76 L1906.5,267.69 L1907.0,267.61 L1907.5,267.54 L1908.0,267.47 L1908.5,267.40 L1909.0,267.34 L1909.5,267.27 L1910.0,267.21 L1910.5,267.16 L1911.0,267.11 L1911.5,267.06 L1912.0,267.02 L1912.5,266.98 L1913.0,266.95 L1913.5,266.92 L1914.0,266.90 L1914.5,266.88 L1915.0,266.87 L1915.5,266.87 L1916.0,266.87 L1916.5,266.87 L1917.0,266.88 L1917.5,266.90 L1918.0,266.92 L1918.5,266.94 L1919.0,266.97 L1919.5,267.01 L1920.0,267.04 L1920.5,267.09 L1921.0,267.13 L1921.5,267.18 L1922.0,267.23 L1922.5,267.29 L1923.0,267.35 L1923.5,267.41 L1924.0,267.47 L1924.5,267.54 L1925.0,267.60 L1925.5,267.67 L1926.0,267.74 L1926.5,267.81 L1927.0,267.88 L1927.5,267.96 L1928.0,268.03 L1928.5,268.10 L1929.0,268.17 L1929.5,268.24 L1930.0,268.31 L1930.5,268.38 L1931.0,268.44 L1931.5,268.51 L1932.0,268.57 L1932.5,268.64 L1933.0,268.70 L1933.5,268.75 L1934.0,268.81 L1934.5,268.86 L1935.0,268.92 L1935.5,268.97 L1936.0,269.02 L1936.5,269.06 L1937.0,269.10 L1937.5,269.15 L1938.0,269.19 L1938.5,269.22 L1939.0,269.26 L1939.5,269.29 L1940.0,269.32 L1940.5,269.35 L1941.0,269.38 L1941.5,269.40 L1942.0,269.43 L1942.5,269.45 L1943.0,269.47 L1943.5,269.49 L1944.0,269.50 L1944.5,269.52 L1945.0,269.53 L1945.5,269.55 L1946.0,269.56 L1946.5,269.57 L1947.0,269.58 L1947.5,269.59 L1948.0,269.60 L1948.5,269.61 L1949.0,269.61 L1949.5,269.62 L1950.0,269.62 L1950.5,269.63 L1951.0,269.63 L1951.5,269.64 L1952.0,269.64 L1952.5,269.65 L1953.0,269.65 L1953.5,269.65 L1954.0,269.65 L1954.5,269.65 L1955.0,269.66 L1955.5,269.66 L1956.0,269.66 L1956.5,269.66 L1957.0,269.66 L1957.5,269.66 L1958.0,269.66 L1958.5,269.66 L1959.0,269.67 L1959.5,269.67 L1960.0,269.67 L1960.5,269.67 L1961.0,269.67 L1961.5,269.67 L1962.0,269.67 L1962.5,269.67 L1963.0,269.67 L1963.5,269.67 L1964.0,269.67 L1964.5,269.67 L1965.0,269.67 L1965.5,269.67 L1966.0,269.67 L1966.5,269.67 L1967.0,269.67 L1967.5,269.67 L1968.0,269.67 L1968.5,269.67 L1969.0,269.67 L1969.5,269.67 L1970.0,269.67 L1970.5,269.67 L1971.0,269.67 L1971.5,269.67 L1972.0,269.67 L1972.5,269.67 L1973.0,269.67 L1973.5,269.67 L1974.0,269.67 L1974.5,269.67 L1975.0,269.67 L1975.5,269.67 L1976.0,269.67 L1976.5,269.67 L1977.0,269.67 L1977.5,269.67 L1978.0,269.67 L1978.5,269.67 L1979.0,269.67 L1979.5,269.67 L1980.0,269.67 L1980.5,269.67 L1981.0,269.67 L1981.5,269.67 L1982.0,269.67 L1982.5,269.67 L1983.0,269.67 L1983.5,269.67 L1984.0,269.67 L1984.5,269.67 L1985.0,269.67 L1985.5,269.67 L1986.0,269.67 L1986.5,269.67 L1987.0,269.67 L1987.5,269.67 L1988.0,269.67 L1988.5,269.67 L1989.0,269.67 L1989.5,269.67 L1990.0,269.67 L1990.5,269.67 L1991.0,269.67 L1991.5,269.67 L1992.0,269.67 L1992.5,269.67 L1993.0,269.67 L1993.5,269.67 L1994.0,269.67 L1994.5,269.67 L1995.0,269.67 L1995.5,269.67 L1996.0,269.67 L1996.5,269.67 L1997.0,269.67 L1997.5,269.67 L1998.0,269.67 L1998.5,269.67 L1999.0,269.67 L1999.5,269.67 L2000.0,269.67 L2000.5,269.67 L2001.0,269.67 L2001.5,269.67 L2002.0,269.67 L2002.5,269.67 L2003.0,269.67 L2003.5,269.67 L2004.0,269.67 L2004.5,269.67 L2005.0,269.67 L2005.5,269.67 L2006.0,269.67 L2006.5,269.67 L2007.0,269.67 L2007.5,269.67 L2008.0,269.67 L2008.5,269.67 L2009.0,269.67 L2009.5,269.67 L2010.0,269.67 L2010.5,269.67 L2011.0,269.67 L2011.5,269.67 L2012.0,269.67 L2012.5,269.67 L2013.0,269.67 L2013.5,269.67 L2014.0,269.67 L2014.5,269.67 L2015.0,269.67 L2015.5,269.67 L2016.0,269.67 L2016.5,269.67 L2017.0,269.67 L2017.5,269.67 L2018.0,269.67 L2018.5,269.67 L2019.0,269.67 L2019.5,269.67 L2020.0,269.67 L2020.5,269.67 L2021.0,269.67 L2021.5,269.67 L2022.0,269.67 L2022.5,269.67 L2023.0,269.67 L2023.5,269.67 L2024.0,269.67 L2024.5,269.67 L2025.0,269.67 L2025.5,269.67 L2026.0,269.67 L2026.5,269.67 L2027.0,269.67 L2027.5,269.67 L2028.0,269.67 L2028.5,269.67 L2029.0,269.67 L2029.5,269.67 L2030.0,269.67 L2030.5,269.67 L2031.0,269.67 L2031.5,269.67 L2032.0,269.67 L2032.5,269.67 L2033.0,269.67 L2033.5,269.67 L2034.0,269.67 L2034.5,269.67"/>
</g>
</svg>
</body>
</html>
